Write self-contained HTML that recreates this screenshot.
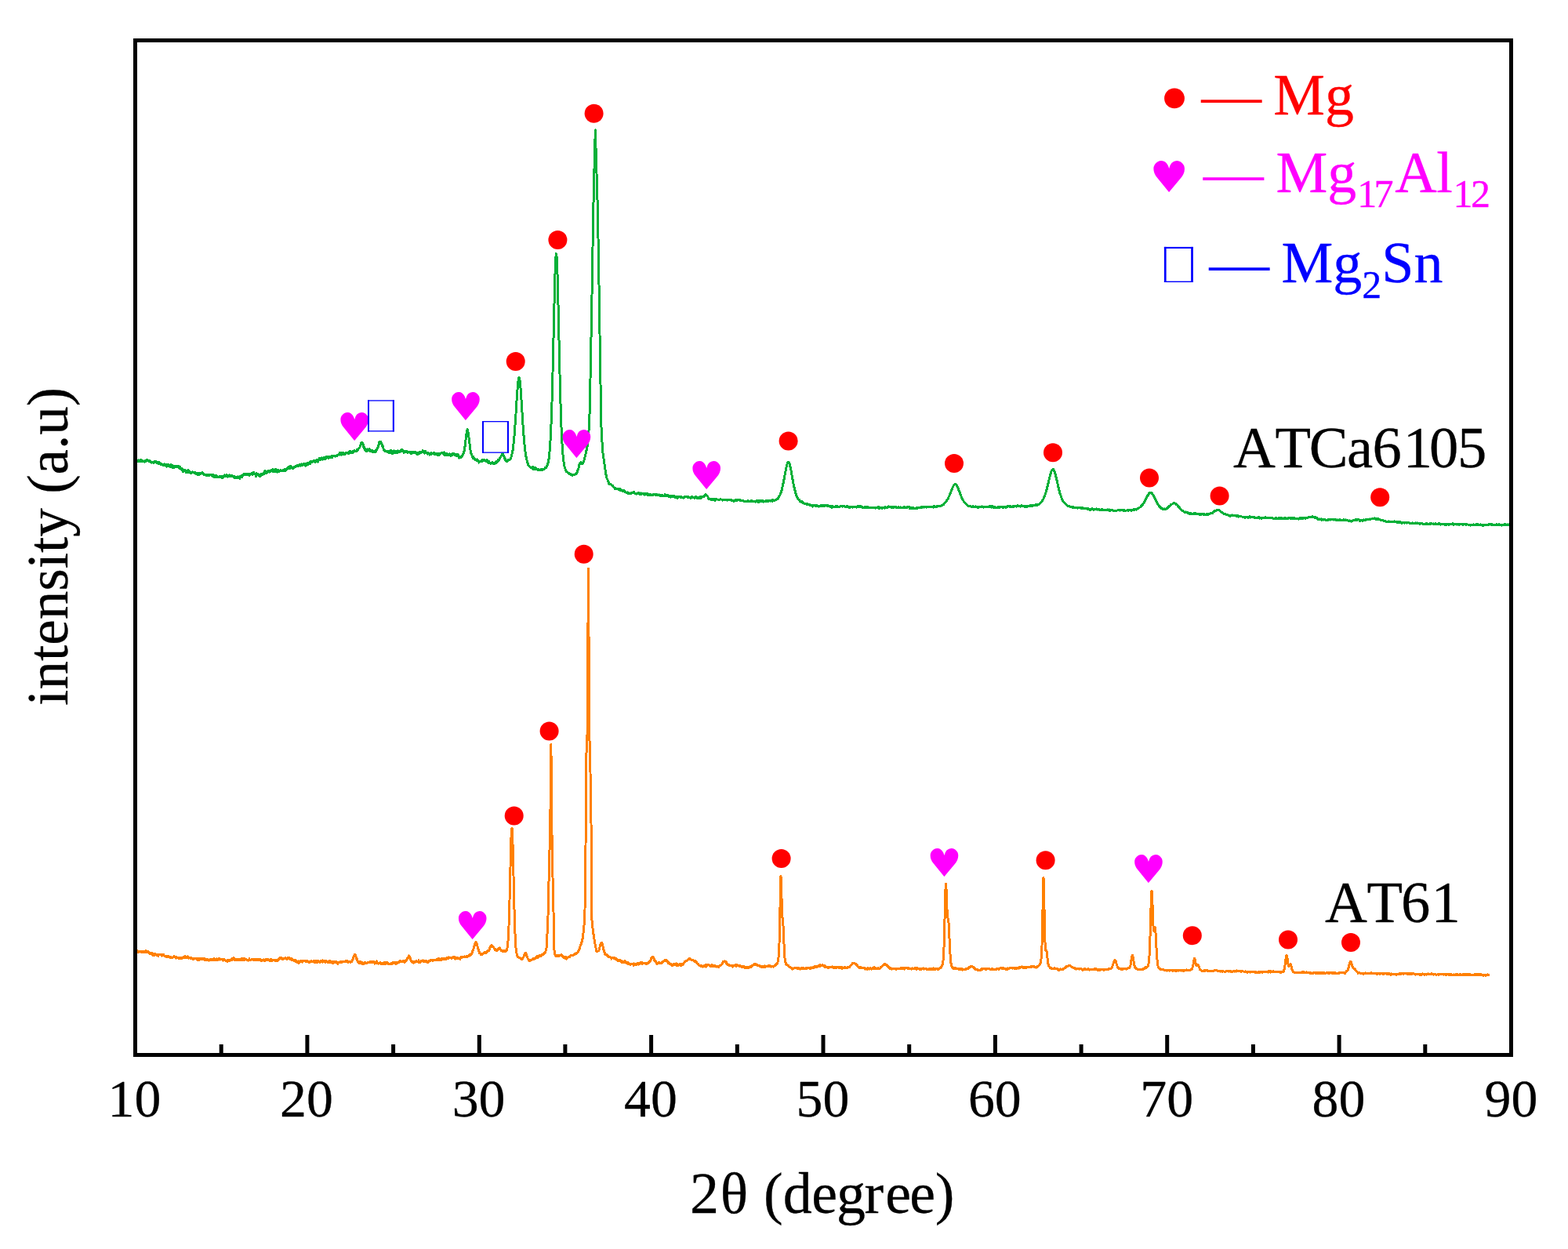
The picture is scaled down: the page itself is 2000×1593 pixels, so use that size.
<!DOCTYPE html>
<html lang="en"><head><meta charset="utf-8"><title>XRD patterns of AT61 and ATCa6105</title>
<style>
html,body{margin:0;padding:0;background:#fff;}
body{width:2000px;height:1593px;overflow:hidden;}
svg{display:block;}
text{font-family:"Liberation Serif","DejaVu Serif",serif;font-kerning:none;}
.tick,.ttl,.lab{stroke:#000;stroke-width:0.3px;stroke-linejoin:round;}
.leg{stroke-width:0.3px;stroke-linejoin:round;}
.tick{font-size:67.8px;fill:#000;text-anchor:middle;}
.ttl{font-size:74px;fill:#000;}
.lab{font-size:74px;fill:#000;}
.leg{font-size:74px;}
.sub{font-size:50px;}
.hm{font-family:"DejaVu Sans","Liberation Sans",sans-serif;font-size:49.5px;fill:#ff00ff;text-anchor:middle;}
.dash{font-size:74px;}
</style></head><body>
<svg width="2000" height="1593" viewBox="0 0 2000 1593">
<rect x="0" y="0" width="2000" height="1593" fill="#ffffff"/>
<polyline id="curve-atca6105" fill="none" stroke="#04b038" stroke-width="3" stroke-linejoin="round" stroke-linecap="butt" shape-rendering="crispEdges" points="175.0,587.4 175.5,588.3 176.0,588.5 176.5,587.0 177.0,587.5 177.5,587.4 178.0,588.1 178.5,587.5 179.0,588.1 179.5,586.2 180.0,588.9 180.5,588.0 181.0,588.9 181.5,588.2 182.0,587.7 182.5,588.6 183.0,588.7 183.5,588.1 184.0,588.2 184.5,589.0 185.0,588.0 185.5,587.2 186.0,588.6 186.5,587.6 187.0,586.6 187.5,587.5 188.0,587.6 188.5,586.9 189.0,586.9 189.5,587.9 190.0,588.4 190.5,587.5 191.0,587.0 191.5,588.4 192.0,589.2 192.5,588.8 193.0,589.6 193.5,590.1 194.0,589.4 194.5,589.1 195.0,589.9 195.5,589.9 196.0,590.7 196.5,588.9 197.0,589.5 197.5,589.7 198.0,588.5 198.5,589.9 199.0,589.6 199.5,588.9 200.0,590.9 200.5,590.3 201.0,590.3 201.5,590.0 202.0,591.1 202.5,589.6 203.0,591.2 203.5,591.7 204.0,590.1 204.5,591.4 205.0,591.7 205.5,592.6 206.0,591.9 206.5,592.2 207.0,592.7 207.5,592.2 208.0,593.2 208.5,592.8 209.0,593.1 209.5,592.0 210.0,593.4 210.5,593.3 211.0,592.9 211.5,594.2 212.0,594.5 212.5,595.0 213.0,592.2 213.5,594.0 214.0,593.5 214.5,593.0 215.0,592.4 215.5,594.7 216.0,593.0 216.5,594.5 217.0,595.2 217.5,592.8 218.0,594.1 218.5,592.9 219.0,594.7 219.5,595.6 220.0,596.2 220.5,593.8 221.0,594.5 221.5,595.7 222.0,596.8 222.5,595.7 223.0,594.7 223.5,595.6 224.0,595.3 224.5,594.9 225.0,594.6 225.5,595.6 226.0,595.6 226.5,595.7 227.0,595.9 227.5,594.6 228.0,595.8 228.5,597.3 229.0,596.1 229.5,595.1 230.0,597.2 230.5,597.0 231.0,599.0 231.5,598.3 232.0,598.2 232.5,598.0 233.0,600.4 233.5,601.5 234.0,599.0 234.5,599.4 235.0,600.6 235.5,599.6 236.0,600.1 236.5,600.6 237.0,601.8 237.5,602.6 238.0,601.9 238.5,602.6 239.0,601.5 239.5,601.6 240.0,599.4 240.5,600.3 241.0,602.2 241.5,601.2 242.0,602.5 242.5,602.6 243.0,603.9 243.5,603.6 244.0,603.6 244.5,602.8 245.0,602.1 245.5,601.7 246.0,602.0 246.5,602.0 247.0,603.0 247.5,603.2 248.0,603.7 248.5,603.6 249.0,602.2 249.5,603.9 250.0,603.9 250.5,604.7 251.0,604.4 251.5,603.3 252.0,603.7 252.5,605.8 253.0,604.7 253.5,605.5 254.0,605.6 254.5,603.4 255.0,603.9 255.5,603.8 256.0,604.1 256.5,604.0 257.0,603.7 257.5,603.5 258.0,602.3 258.5,603.9 259.0,603.2 259.5,604.5 260.0,604.3 260.5,605.6 261.0,606.0 261.5,605.5 262.0,605.9 262.5,606.2 263.0,605.9 263.5,605.8 264.0,605.7 264.5,606.6 265.0,606.4 265.5,606.5 266.0,605.0 266.5,606.6 267.0,605.2 267.5,605.1 268.0,605.6 268.5,605.5 269.0,605.8 269.5,605.4 270.0,605.0 270.5,605.8 271.0,607.9 271.5,606.5 272.0,605.7 272.5,607.0 273.0,606.2 273.5,608.8 274.0,606.3 274.5,607.9 275.0,608.1 275.5,606.6 276.0,608.5 276.5,608.6 277.0,608.1 277.5,607.7 278.0,608.2 278.5,608.1 279.0,608.2 279.5,607.8 280.0,608.3 280.5,607.1 281.0,608.7 281.5,607.9 282.0,607.2 282.5,608.1 283.0,609.5 283.5,609.4 284.0,607.9 284.5,609.0 285.0,608.0 285.5,607.7 286.0,607.7 286.5,606.0 287.0,607.9 287.5,606.7 288.0,607.1 288.5,606.1 289.0,605.9 289.5,606.4 290.0,607.8 290.5,608.4 291.0,607.2 291.5,607.9 292.0,606.9 292.5,605.9 293.0,607.4 293.5,607.2 294.0,606.8 294.5,607.4 295.0,608.0 295.5,607.1 296.0,606.6 296.5,607.7 297.0,607.6 297.5,607.4 298.0,608.6 298.5,609.3 299.0,607.5 299.5,608.6 300.0,609.4 300.5,609.3 301.0,609.3 301.5,608.3 302.0,608.8 302.5,609.8 303.0,609.2 303.5,608.0 304.0,608.9 304.5,609.4 305.0,608.7 305.5,608.2 306.0,610.2 306.5,607.4 307.0,608.5 307.5,608.0 308.0,606.6 308.5,608.5 309.0,607.4 309.5,606.0 310.0,606.8 310.5,605.8 311.0,604.5 311.5,605.0 312.0,605.6 312.5,605.5 313.0,604.8 313.5,605.1 314.0,605.2 314.5,604.5 315.0,605.8 315.5,604.9 316.0,605.2 316.5,605.5 317.0,604.3 317.5,604.8 318.0,606.2 318.5,605.3 319.0,604.7 319.5,605.2 320.0,604.4 320.5,604.9 321.0,603.9 321.5,604.7 322.0,603.4 322.5,605.3 323.0,603.4 323.5,602.4 324.0,603.8 324.5,603.8 325.0,604.8 325.5,604.2 326.0,605.4 326.5,607.9 327.0,603.8 327.5,605.3 328.0,605.1 328.5,605.7 329.0,604.1 329.5,605.1 330.0,606.6 330.5,606.2 331.0,607.4 331.5,605.2 332.0,605.3 332.5,607.1 333.0,604.4 333.5,604.2 334.0,605.0 334.5,604.8 335.0,605.3 335.5,604.1 336.0,603.0 336.5,603.1 337.0,604.8 337.5,603.5 338.0,600.0 338.5,602.6 339.0,602.0 339.5,603.1 340.0,602.0 340.5,603.0 341.0,601.9 341.5,601.5 342.0,600.8 342.5,600.8 343.0,600.9 343.5,602.1 344.0,601.4 344.5,600.5 345.0,601.5 345.5,600.0 346.0,599.9 346.5,599.6 347.0,599.4 347.5,600.1 348.0,598.4 348.5,601.6 349.0,601.2 349.5,600.5 350.0,601.8 350.5,600.9 351.0,600.6 351.5,598.2 352.0,600.4 352.5,601.3 353.0,602.1 353.5,602.0 354.0,601.7 354.5,599.6 355.0,599.0 355.5,601.2 356.0,600.4 356.5,601.2 357.0,600.0 357.5,600.7 358.0,599.2 358.5,600.8 359.0,600.0 359.5,600.4 360.0,600.5 360.5,600.0 361.0,600.4 361.5,600.0 362.0,600.3 362.5,599.9 363.0,598.9 363.5,598.5 364.0,600.6 364.5,598.7 365.0,599.5 365.5,599.1 366.0,597.7 366.5,597.0 367.0,597.1 367.5,597.0 368.0,597.2 368.5,595.4 369.0,595.9 369.5,596.1 370.0,597.5 370.5,594.5 371.0,596.2 371.5,595.5 372.0,596.4 372.5,595.7 373.0,596.6 373.5,597.6 374.0,596.8 374.5,596.7 375.0,596.8 375.5,595.3 376.0,595.9 376.5,595.1 377.0,594.5 377.5,595.0 378.0,594.5 378.5,594.7 379.0,594.0 379.5,593.4 380.0,595.0 380.5,594.6 381.0,594.7 381.5,593.9 382.0,592.6 382.5,592.9 383.0,593.1 383.5,594.1 384.0,593.2 384.5,592.0 385.0,593.5 385.5,592.6 386.0,593.7 386.5,592.2 387.0,591.7 387.5,592.6 388.0,592.4 388.5,591.1 389.0,593.0 389.5,594.1 390.0,591.2 390.5,593.8 391.0,591.8 391.5,591.6 392.0,591.4 392.5,590.3 393.0,592.4 393.5,591.5 394.0,590.6 394.5,590.8 395.0,589.5 395.5,590.1 396.0,591.2 396.5,588.4 397.0,588.8 397.5,588.9 398.0,589.5 398.5,589.4 399.0,588.3 399.5,587.8 400.0,588.7 400.5,588.1 401.0,587.8 401.5,589.2 402.0,589.2 402.5,588.3 403.0,587.8 403.5,588.6 404.0,586.4 404.5,587.6 405.0,586.4 405.5,589.1 406.0,587.5 406.5,587.0 407.0,586.4 407.5,584.1 408.0,586.3 408.5,586.6 409.0,584.9 409.5,586.0 410.0,585.8 410.5,583.9 411.0,585.8 411.5,586.3 412.0,585.3 412.5,584.9 413.0,585.3 413.5,583.1 414.0,584.2 414.5,585.3 415.0,583.5 415.5,585.3 416.0,584.0 416.5,582.4 417.0,584.0 417.5,583.1 418.0,584.0 418.5,582.6 419.0,584.5 419.5,582.8 420.0,583.8 420.5,582.9 421.0,583.2 421.5,583.9 422.0,583.1 422.5,582.5 423.0,581.9 423.5,583.5 424.0,582.8 424.5,581.9 425.0,581.9 425.5,581.1 426.0,581.1 426.5,581.1 427.0,582.0 427.5,582.2 428.0,581.1 428.5,581.9 429.0,581.8 429.5,581.0 430.0,581.2 430.5,580.1 431.0,580.2 431.5,579.8 432.0,579.8 432.5,579.9 433.0,577.9 433.5,580.0 434.0,577.9 434.5,578.3 435.0,577.4 435.5,579.2 436.0,580.1 436.5,579.8 437.0,579.4 437.5,577.1 438.0,577.9 438.5,578.3 439.0,578.0 439.5,579.7 440.0,578.8 440.5,578.5 441.0,578.8 441.5,577.6 442.0,577.3 442.5,577.3 443.0,577.9 443.5,577.8 444.0,577.8 444.5,578.5 445.0,576.3 445.5,576.9 446.0,577.0 446.5,575.6 447.0,575.8 447.5,577.4 448.0,577.4 448.5,577.1 449.0,576.0 449.5,576.0 450.0,577.2 450.5,575.6 451.0,575.9 451.5,576.1 452.0,574.9 452.5,575.0 453.0,575.3 453.5,575.9 454.0,576.0 454.5,575.3 455.0,575.2 455.5,573.5 456.0,574.1 456.5,574.1 457.0,572.6 457.5,572.1 458.0,571.9 458.5,571.0 459.0,570.1 459.5,568.2 460.0,567.1 460.5,566.5 461.0,564.4 461.5,564.8 462.0,564.6 462.5,564.8 463.0,566.5 463.5,567.9 464.0,570.5 464.5,570.6 465.0,573.1 465.5,573.7 466.0,572.0 466.5,574.3 467.0,575.5 467.5,573.5 468.0,575.2 468.5,572.9 469.0,574.5 469.5,573.3 470.0,574.6 470.5,573.0 471.0,572.2 471.5,574.4 472.0,575.9 472.5,573.9 473.0,575.3 473.5,574.6 474.0,574.7 474.5,575.5 475.0,576.4 475.5,574.7 476.0,576.2 476.5,576.3 477.0,575.1 477.5,576.8 478.0,577.0 478.5,574.9 479.0,576.4 479.5,574.6 480.0,574.0 480.5,574.4 481.0,572.4 481.5,571.4 482.0,570.8 482.5,568.9 483.0,567.4 483.5,564.9 484.0,563.6 484.5,564.4 485.0,563.1 485.5,563.6 486.0,564.0 486.5,565.4 487.0,565.9 487.5,568.8 488.0,568.5 488.5,570.5 489.0,571.9 489.5,574.0 490.0,573.1 490.5,574.5 491.0,574.9 491.5,575.7 492.0,575.7 492.5,575.1 493.0,575.5 493.5,575.2 494.0,576.2 494.5,575.8 495.0,575.5 495.5,575.9 496.0,576.2 496.5,577.6 497.0,575.5 497.5,576.2 498.0,577.2 498.5,574.7 499.0,574.9 499.5,575.4 500.0,576.5 500.5,578.5 501.0,576.9 501.5,577.2 502.0,576.4 502.5,574.9 503.0,575.0 503.5,577.6 504.0,577.1 504.5,575.9 505.0,577.9 505.5,575.3 506.0,577.7 506.5,577.7 507.0,575.5 507.5,574.7 508.0,576.1 508.5,575.1 509.0,576.4 509.5,575.1 510.0,576.3 510.5,575.7 511.0,575.1 511.5,574.6 512.0,575.3 512.5,573.3 513.0,574.3 513.5,574.9 514.0,575.8 514.5,575.0 515.0,577.2 515.5,575.4 516.0,575.0 516.5,576.5 517.0,576.8 517.5,575.4 518.0,575.1 518.5,576.1 519.0,575.9 519.5,576.2 520.0,577.5 520.5,576.2 521.0,576.1 521.5,576.2 522.0,576.4 522.5,577.0 523.0,577.4 523.5,576.5 524.0,576.6 524.5,578.7 525.0,577.2 525.5,576.7 526.0,577.9 526.5,576.5 527.0,576.1 527.5,577.5 528.0,576.4 528.5,576.9 529.0,577.7 529.5,577.7 530.0,576.8 530.5,577.3 531.0,577.7 531.5,579.1 532.0,577.5 532.5,577.3 533.0,579.3 533.5,577.3 534.0,578.8 534.5,578.7 535.0,577.6 535.5,576.1 536.0,576.9 536.5,576.9 537.0,577.3 537.5,576.2 538.0,577.0 538.5,576.6 539.0,574.8 539.5,576.9 540.0,576.5 540.5,576.0 541.0,576.3 541.5,578.1 542.0,577.3 542.5,575.6 543.0,577.8 543.5,577.7 544.0,577.7 544.5,577.7 545.0,577.0 545.5,579.2 546.0,577.9 546.5,578.8 547.0,578.8 547.5,579.0 548.0,580.1 548.5,579.7 549.0,578.5 549.5,578.1 550.0,577.9 550.5,579.2 551.0,578.6 551.5,578.3 552.0,578.1 552.5,578.3 553.0,579.0 553.5,577.4 554.0,579.9 554.5,577.6 555.0,578.2 555.5,579.8 556.0,579.3 556.5,579.0 557.0,579.1 557.5,578.1 558.0,579.3 558.5,580.5 559.0,578.8 559.5,580.8 560.0,578.3 560.5,578.6 561.0,579.4 561.5,578.8 562.0,579.0 562.5,577.9 563.0,577.7 563.5,577.1 564.0,577.7 564.5,577.8 565.0,577.6 565.5,578.9 566.0,578.1 566.5,577.0 567.0,580.9 567.5,578.2 568.0,578.4 568.5,580.6 569.0,580.6 569.5,578.9 570.0,578.6 570.5,579.4 571.0,580.9 571.5,579.9 572.0,579.8 572.5,580.5 573.0,581.0 573.5,578.9 574.0,579.7 574.5,579.1 575.0,581.6 575.5,581.3 576.0,580.9 576.5,580.3 577.0,580.7 577.5,578.3 578.0,580.1 578.5,578.5 579.0,578.3 579.5,578.9 580.0,579.6 580.5,580.5 581.0,580.4 581.5,580.2 582.0,579.5 582.5,581.3 583.0,580.7 583.5,581.8 584.0,580.7 584.5,579.6 585.0,581.7 585.5,584.0 586.0,582.9 586.5,582.7 587.0,583.8 587.5,583.3 588.0,583.4 588.5,582.4 589.0,582.4 589.5,581.7 590.0,580.6 590.5,579.2 591.0,578.9 591.5,577.9 592.0,575.6 592.5,573.2 593.0,569.6 593.5,566.1 594.0,560.9 594.5,556.8 595.0,553.0 595.5,549.4 596.0,547.9 596.5,548.3 597.0,550.6 597.5,553.9 598.0,558.2 598.5,562.5 599.0,566.3 599.5,570.9 600.0,573.8 600.5,575.7 601.0,578.8 601.5,579.6 602.0,581.1 602.5,582.5 603.0,582.3 603.5,584.3 604.0,582.9 604.5,584.2 605.0,584.9 605.5,586.2 606.0,586.1 606.5,586.0 607.0,586.1 607.5,586.2 608.0,587.3 608.5,586.0 609.0,587.0 609.5,587.2 610.0,588.0 610.5,588.0 611.0,590.1 611.5,588.3 612.0,588.8 612.5,588.7 613.0,588.6 613.5,588.3 614.0,588.2 614.5,588.8 615.0,586.5 615.5,587.2 616.0,586.5 616.5,587.1 617.0,586.4 617.5,586.2 618.0,587.0 618.5,587.9 619.0,587.4 619.5,587.3 620.0,588.6 620.5,587.3 621.0,586.7 621.5,587.8 622.0,588.4 622.5,589.9 623.0,590.4 623.5,588.2 624.0,591.1 624.5,590.5 625.0,590.2 625.5,590.4 626.0,591.8 626.5,590.5 627.0,590.4 627.5,590.6 628.0,589.7 628.5,591.3 629.0,591.1 629.5,591.6 630.0,591.5 630.5,590.5 631.0,591.8 631.5,590.2 632.0,591.1 632.5,589.0 633.0,590.2 633.5,589.2 634.0,589.1 634.5,588.5 635.0,586.9 635.5,587.1 636.0,587.4 636.5,587.0 637.0,585.4 637.5,584.2 638.0,583.9 638.5,583.1 639.0,581.9 639.5,580.7 640.0,580.4 640.5,579.5 641.0,579.5 641.5,579.0 642.0,580.5 642.5,581.6 643.0,582.2 643.5,584.4 644.0,585.0 644.5,585.5 645.0,587.2 645.5,587.7 646.0,588.1 646.5,588.3 647.0,588.1 647.5,587.0 648.0,586.9 648.5,587.4 649.0,586.3 649.5,586.5 650.0,586.1 650.5,586.4 651.0,585.8 651.5,584.7 652.0,582.9 652.5,581.5 653.0,579.2 653.5,576.7 654.0,574.5 654.5,570.6 655.0,566.1 655.5,561.8 656.0,555.8 656.5,549.8 657.0,542.7 657.5,535.5 658.0,527.6 658.5,519.6 659.0,511.6 659.5,504.3 660.0,497.0 660.5,490.8 661.0,485.9 661.5,482.6 662.0,481.4 662.5,481.9 663.0,484.7 663.5,489.0 664.0,495.0 664.5,502.0 665.0,509.6 665.5,517.6 666.0,526.0 666.5,534.3 667.0,541.9 667.5,549.2 668.0,555.4 668.5,561.3 669.0,567.1 669.5,571.9 670.0,576.0 670.5,579.9 671.0,582.6 671.5,584.7 672.0,587.0 672.5,589.1 673.0,590.5 673.5,591.6 674.0,594.0 674.5,593.6 675.0,594.6 675.5,594.6 676.0,595.3 676.5,596.3 677.0,596.6 677.5,596.3 678.0,596.9 678.5,597.0 679.0,595.9 679.5,595.2 680.0,598.4 680.5,598.0 681.0,597.4 681.5,596.4 682.0,596.8 682.5,598.4 683.0,596.3 683.5,597.8 684.0,598.7 684.5,598.3 685.0,598.9 685.5,598.4 686.0,600.0 686.5,598.5 687.0,598.3 687.5,599.0 688.0,599.9 688.5,599.2 689.0,599.6 689.5,598.7 690.0,598.5 690.5,599.8 691.0,599.9 691.5,600.0 692.0,598.8 692.5,598.4 693.0,598.4 693.5,598.5 694.0,598.6 694.5,598.2 695.0,596.8 695.5,597.4 696.0,597.0 696.5,596.5 697.0,595.6 697.5,594.8 698.0,593.9 698.5,592.4 699.0,590.7 699.5,588.2 700.0,585.6 700.5,581.4 701.0,576.1 701.5,570.5 702.0,562.7 702.5,553.4 703.0,541.8 703.5,528.4 704.0,512.8 704.5,495.1 705.0,475.5 705.5,454.2 706.0,432.2 706.5,409.5 707.0,387.6 707.5,367.1 708.0,349.3 708.5,335.5 709.0,326.7 709.5,323.7 710.0,326.8 710.5,335.9 711.0,349.8 711.5,367.9 712.0,388.6 712.5,410.8 713.0,433.6 713.5,456.0 714.0,477.2 714.5,496.9 715.0,515.0 715.5,530.8 716.0,544.7 716.5,556.2 717.0,565.8 717.5,573.7 718.0,580.2 718.5,585.3 719.0,589.1 719.5,592.6 720.0,594.8 720.5,596.6 721.0,598.2 721.5,600.3 722.0,600.6 722.5,601.5 723.0,601.7 723.5,602.2 724.0,602.6 724.5,603.1 725.0,603.3 725.5,603.6 726.0,604.5 726.5,604.5 727.0,604.4 727.5,604.8 728.0,604.8 728.5,605.5 729.0,605.2 729.5,605.9 730.0,606.1 730.5,605.7 731.0,605.2 731.5,605.3 732.0,605.4 732.5,605.4 733.0,605.4 733.5,604.8 734.0,604.2 734.5,604.9 735.0,604.1 735.5,603.4 736.0,602.4 736.5,600.8 737.0,599.7 737.5,598.2 738.0,596.9 738.5,594.9 739.0,592.4 739.5,591.6 740.0,590.5 740.5,590.0 741.0,589.8 741.5,590.4 742.0,590.7 742.5,591.4 743.0,591.7 743.5,590.9 744.0,590.2 744.5,588.7 745.0,586.8 745.5,585.4 746.0,583.4 746.5,581.3 747.0,578.9 747.5,576.6 748.0,574.4 748.5,571.9 749.0,569.7 749.5,565.7 750.0,560.5 750.5,554.9 751.0,549.6 751.5,544.3 752.0,528.6 752.5,506.1 753.0,483.6 753.5,457.6 754.0,430.6 754.5,403.8 755.0,376.1 755.5,345.8 756.0,315.6 756.5,285.3 757.0,258.5 757.5,236.8 758.0,215.1 758.5,195.8 759.0,177.0 759.3,165.8 759.5,172.3 760.0,188.6 760.5,204.9 761.0,221.4 761.5,238.2 762.0,254.9 762.5,274.2 763.0,303.7 763.5,333.2 764.0,362.8 764.5,393.6 765.0,426.3 765.5,459.0 766.0,490.3 766.5,519.5 767.0,544.7 767.5,554.4 768.0,564.0 768.5,573.3 769.0,578.0 769.5,581.3 770.0,584.8 770.5,588.2 771.0,591.8 771.5,594.8 772.0,598.7 772.5,601.6 773.0,605.3 773.5,608.5 774.0,609.9 774.5,611.0 775.0,612.0 775.5,613.7 776.0,614.5 776.5,617.2 777.0,616.4 777.5,616.9 778.0,617.1 778.5,617.1 779.0,617.0 779.5,618.3 780.0,618.9 780.5,618.7 781.0,619.9 781.5,619.5 782.0,620.7 782.5,621.2 783.0,621.6 783.5,622.2 784.0,622.5 784.5,623.5 785.0,622.9 785.5,623.5 786.0,624.0 786.5,623.5 787.0,623.1 787.5,623.8 788.0,623.3 788.5,623.5 789.0,623.6 789.5,624.7 790.0,624.5 790.5,623.3 791.0,624.8 791.5,625.6 792.0,625.8 792.5,625.0 793.0,625.6 793.5,625.7 794.0,626.5 794.5,626.3 795.0,625.6 795.5,626.9 796.0,626.7 796.5,626.0 797.0,626.6 797.5,627.5 798.0,627.5 798.5,628.1 799.0,628.4 799.5,628.6 800.0,628.2 800.5,627.9 801.0,629.0 801.5,629.5 802.0,629.8 802.5,628.8 803.0,629.0 803.5,629.7 804.0,629.7 804.5,628.9 805.0,629.3 805.5,628.1 806.0,629.1 806.5,628.1 807.0,628.6 807.5,628.6 808.0,628.5 808.5,627.6 809.0,628.7 809.5,629.4 810.0,629.0 810.5,629.1 811.0,629.4 811.5,630.0 812.0,630.0 812.5,629.2 813.0,629.5 813.5,629.4 814.0,628.8 814.5,628.6 815.0,629.4 815.5,628.8 816.0,630.2 816.5,629.1 817.0,629.2 817.5,629.0 818.0,630.6 818.5,629.1 819.0,629.6 819.5,629.2 820.0,629.4 820.5,629.6 821.0,630.3 821.5,629.4 822.0,630.1 822.5,631.1 823.0,630.2 823.5,630.4 824.0,630.1 824.5,629.3 825.0,630.5 825.5,631.0 826.0,630.0 826.5,629.8 827.0,631.1 827.5,630.9 828.0,631.9 828.5,631.5 829.0,630.6 829.5,631.3 830.0,630.1 830.5,631.2 831.0,631.1 831.5,631.5 832.0,631.4 832.5,630.9 833.0,631.1 833.5,631.1 834.0,630.2 834.5,631.0 835.0,630.9 835.5,630.4 836.0,631.6 836.5,631.1 837.0,631.1 837.5,630.7 838.0,630.1 838.5,631.7 839.0,631.7 839.5,631.4 840.0,631.3 840.5,631.0 841.0,631.3 841.5,631.3 842.0,631.0 842.5,632.6 843.0,631.3 843.5,632.1 844.0,632.3 844.5,632.8 845.0,631.5 845.5,632.7 846.0,632.7 846.5,632.8 847.0,633.0 847.5,632.2 848.0,630.9 848.5,632.7 849.0,632.7 849.5,632.5 850.0,631.8 850.5,632.0 851.0,632.3 851.5,631.2 852.0,632.0 852.5,632.3 853.0,633.6 853.5,632.4 854.0,633.8 854.5,633.0 855.0,632.2 855.5,634.0 856.0,632.6 856.5,633.3 857.0,633.8 857.5,632.9 858.0,632.7 858.5,633.8 859.0,633.7 859.5,632.9 860.0,632.9 860.5,633.4 861.0,634.1 861.5,633.3 862.0,634.1 862.5,634.8 863.0,634.7 863.5,635.3 864.0,635.1 864.5,633.5 865.0,634.8 865.5,634.3 866.0,634.0 866.5,633.7 867.0,633.5 867.5,633.9 868.0,634.5 868.5,633.9 869.0,633.8 869.5,634.1 870.0,634.8 870.5,634.1 871.0,634.3 871.5,635.1 872.0,634.1 872.5,634.6 873.0,633.8 873.5,634.3 874.0,633.8 874.5,633.7 875.0,633.4 875.5,633.4 876.0,634.1 876.5,634.0 877.0,634.7 877.5,634.5 878.0,633.5 878.5,634.2 879.0,634.1 879.5,634.7 880.0,634.4 880.5,634.1 881.0,635.5 881.5,635.4 882.0,634.5 882.5,633.6 883.0,634.2 883.5,633.9 884.0,634.1 884.5,634.7 885.0,634.9 885.5,634.1 886.0,635.2 886.5,634.9 887.0,634.2 887.5,633.5 888.0,634.7 888.5,634.2 889.0,635.2 889.5,635.2 890.0,634.7 890.5,635.1 891.0,634.2 891.5,634.8 892.0,635.0 892.5,635.8 893.0,634.9 893.5,633.4 894.0,635.2 894.5,633.8 895.0,634.5 895.5,634.0 896.0,633.9 896.5,633.8 897.0,633.5 897.5,632.9 898.0,633.2 898.5,632.4 899.0,631.7 899.5,631.5 900.0,630.8 900.5,631.6 901.0,631.4 901.5,632.1 902.0,632.9 902.5,633.2 903.0,634.1 903.5,635.4 904.0,636.0 904.5,636.9 905.0,636.8 905.5,636.1 906.0,636.9 906.5,637.3 907.0,637.6 907.5,637.3 908.0,636.4 908.5,637.5 909.0,636.8 909.5,637.4 910.0,636.4 910.5,637.6 911.0,636.9 911.5,637.5 912.0,638.1 912.5,637.7 913.0,636.7 913.5,636.6 914.0,636.5 914.5,637.0 915.0,637.0 915.5,637.1 916.0,637.0 916.5,637.0 917.0,637.1 917.5,637.8 918.0,637.0 918.5,637.3 919.0,636.3 919.5,636.7 920.0,637.1 920.5,637.2 921.0,637.9 921.5,638.3 922.0,637.4 922.5,637.1 923.0,637.2 923.5,637.5 924.0,637.2 924.5,637.3 925.0,637.1 925.5,637.2 926.0,637.5 926.5,637.3 927.0,637.5 927.5,638.1 928.0,637.2 928.5,637.8 929.0,637.6 929.5,637.4 930.0,637.3 930.5,637.4 931.0,637.9 931.5,637.7 932.0,637.6 932.5,638.4 933.0,637.7 933.5,638.5 934.0,638.2 934.5,638.6 935.0,638.0 935.5,638.2 936.0,639.4 936.5,638.5 937.0,638.7 937.5,638.2 938.0,638.2 938.5,637.2 939.0,637.8 939.5,638.3 940.0,638.5 940.5,638.0 941.0,637.9 941.5,637.9 942.0,638.0 942.5,637.5 943.0,637.5 943.5,638.3 944.0,637.7 944.5,638.1 945.0,638.4 945.5,638.6 946.0,639.0 946.5,638.8 947.0,639.0 947.5,638.3 948.0,638.5 948.5,639.1 949.0,639.1 949.5,639.1 950.0,639.5 950.5,639.3 951.0,639.3 951.5,639.9 952.0,639.1 952.5,639.3 953.0,639.4 953.5,639.3 954.0,638.7 954.5,639.6 955.0,639.9 955.5,639.6 956.0,639.8 956.5,639.5 957.0,639.0 957.5,639.8 958.0,638.8 958.5,639.5 959.0,638.9 959.5,639.4 960.0,639.7 960.5,639.3 961.0,639.3 961.5,639.9 962.0,639.2 962.5,639.3 963.0,639.3 963.5,640.3 964.0,639.8 964.5,639.4 965.0,638.9 965.5,639.8 966.0,638.9 966.5,639.7 967.0,639.2 967.5,640.5 968.0,638.8 968.5,639.9 969.0,639.5 969.5,638.6 970.0,639.1 970.5,639.8 971.0,639.9 971.5,639.0 972.0,639.2 972.5,638.7 973.0,638.8 973.5,639.0 974.0,640.1 974.5,639.3 975.0,639.1 975.5,639.1 976.0,639.5 976.5,639.1 977.0,638.4 977.5,639.4 978.0,638.3 978.5,638.6 979.0,638.9 979.5,639.6 980.0,638.8 980.5,639.0 981.0,639.1 981.5,638.9 982.0,639.0 982.5,639.0 983.0,638.7 983.5,638.9 984.0,639.0 984.5,638.7 985.0,639.2 985.5,637.6 986.0,637.9 986.5,638.8 987.0,638.3 987.5,638.0 988.0,638.0 988.5,638.2 989.0,637.6 989.5,637.9 990.0,637.3 990.5,637.1 991.0,636.8 991.5,636.8 992.0,635.6 992.5,635.4 993.0,635.2 993.5,633.8 994.0,632.9 994.5,632.3 995.0,631.2 995.5,629.8 996.0,628.4 996.5,626.6 997.0,625.7 997.5,623.0 998.0,621.1 998.5,618.8 999.0,616.6 999.5,614.4 1000.0,611.6 1000.5,608.9 1001.0,606.1 1001.5,603.7 1002.0,600.8 1002.5,598.1 1003.0,595.9 1003.5,593.7 1004.0,592.0 1004.5,590.5 1005.0,589.6 1005.5,589.2 1006.0,589.3 1006.5,590.0 1007.0,591.6 1007.5,593.2 1008.0,595.3 1008.5,597.6 1009.0,600.0 1009.5,602.9 1010.0,606.0 1010.5,608.5 1011.0,611.4 1011.5,614.0 1012.0,616.8 1012.5,619.2 1013.0,621.6 1013.5,623.8 1014.0,625.6 1014.5,627.6 1015.0,629.5 1015.5,631.1 1016.0,632.5 1016.5,634.2 1017.0,634.8 1017.5,635.7 1018.0,636.0 1018.5,637.1 1019.0,637.3 1019.5,637.6 1020.0,638.4 1020.5,639.4 1021.0,639.2 1021.5,640.2 1022.0,639.9 1022.5,639.5 1023.0,640.2 1023.5,641.0 1024.0,640.5 1024.5,640.6 1025.0,641.4 1025.5,642.0 1026.0,642.0 1026.5,642.0 1027.0,642.3 1027.5,642.3 1028.0,642.7 1028.5,643.3 1029.0,642.7 1029.5,643.3 1030.0,642.9 1030.5,643.4 1031.0,643.0 1031.5,643.1 1032.0,643.9 1032.5,643.5 1033.0,644.3 1033.5,643.9 1034.0,644.4 1034.5,644.5 1035.0,644.5 1035.5,644.8 1036.0,645.1 1036.5,646.0 1037.0,644.2 1037.5,644.8 1038.0,644.4 1038.5,644.4 1039.0,644.8 1039.5,644.5 1040.0,645.1 1040.5,645.4 1041.0,644.3 1041.5,645.2 1042.0,645.4 1042.5,644.8 1043.0,645.5 1043.5,645.6 1044.0,645.5 1044.5,646.1 1045.0,645.3 1045.5,645.8 1046.0,645.3 1046.5,644.7 1047.0,645.0 1047.5,645.0 1048.0,645.3 1048.5,644.2 1049.0,644.7 1049.5,644.9 1050.0,645.6 1050.5,644.4 1051.0,645.1 1051.5,644.2 1052.0,644.9 1052.5,644.9 1053.0,645.1 1053.5,644.8 1054.0,644.2 1054.5,644.3 1055.0,645.4 1055.5,645.1 1056.0,644.8 1056.5,645.3 1057.0,645.2 1057.5,645.3 1058.0,645.2 1058.5,646.0 1059.0,646.8 1059.5,645.8 1060.0,646.4 1060.5,646.7 1061.0,647.3 1061.5,645.6 1062.0,646.6 1062.5,646.8 1063.0,646.0 1063.5,646.8 1064.0,646.6 1064.5,646.8 1065.0,646.4 1065.5,646.5 1066.0,645.8 1066.5,646.1 1067.0,646.1 1067.5,646.0 1068.0,645.8 1068.5,646.7 1069.0,646.6 1069.5,646.5 1070.0,646.0 1070.5,646.0 1071.0,646.5 1071.5,646.0 1072.0,645.4 1072.5,645.8 1073.0,645.8 1073.5,645.7 1074.0,645.5 1074.5,646.1 1075.0,645.7 1075.5,645.6 1076.0,645.2 1076.5,645.7 1077.0,645.7 1077.5,645.8 1078.0,645.9 1078.5,646.6 1079.0,646.3 1079.5,646.5 1080.0,645.6 1080.5,646.2 1081.0,645.9 1081.5,646.5 1082.0,646.7 1082.5,647.2 1083.0,646.7 1083.5,646.3 1084.0,647.7 1084.5,647.1 1085.0,646.6 1085.5,646.4 1086.0,646.0 1086.5,646.5 1087.0,646.8 1087.5,647.3 1088.0,647.0 1088.5,646.9 1089.0,647.0 1089.5,646.5 1090.0,646.6 1090.5,646.8 1091.0,646.3 1091.5,646.8 1092.0,646.7 1092.5,647.1 1093.0,646.8 1093.5,646.0 1094.0,646.5 1094.5,646.9 1095.0,645.7 1095.5,646.2 1096.0,646.6 1096.5,645.9 1097.0,646.2 1097.5,646.3 1098.0,645.8 1098.5,646.4 1099.0,646.6 1099.5,646.3 1100.0,647.0 1100.5,647.6 1101.0,647.0 1101.5,647.4 1102.0,647.6 1102.5,647.0 1103.0,647.5 1103.5,647.4 1104.0,646.9 1104.5,647.2 1105.0,647.4 1105.5,647.4 1106.0,646.7 1106.5,647.0 1107.0,647.3 1107.5,646.9 1108.0,647.4 1108.5,647.7 1109.0,647.3 1109.5,647.8 1110.0,647.5 1110.5,647.9 1111.0,647.5 1111.5,647.6 1112.0,647.6 1112.5,647.4 1113.0,647.8 1113.5,647.9 1114.0,647.3 1114.5,647.4 1115.0,647.7 1115.5,647.4 1116.0,647.2 1116.5,648.0 1117.0,647.5 1117.5,647.2 1118.0,647.5 1118.5,647.6 1119.0,647.5 1119.5,646.8 1120.0,647.4 1120.5,647.4 1121.0,648.1 1121.5,646.7 1122.0,648.0 1122.5,647.6 1123.0,648.1 1123.5,647.9 1124.0,647.9 1124.5,648.3 1125.0,648.0 1125.5,648.4 1126.0,647.9 1126.5,648.0 1127.0,647.9 1127.5,647.9 1128.0,647.7 1128.5,648.0 1129.0,647.0 1129.5,646.6 1130.0,647.2 1130.5,647.7 1131.0,647.6 1131.5,647.5 1132.0,647.2 1132.5,646.5 1133.0,646.9 1133.5,645.7 1134.0,646.2 1134.5,646.9 1135.0,646.3 1135.5,646.3 1136.0,646.3 1136.5,646.9 1137.0,647.1 1137.5,647.7 1138.0,647.3 1138.5,646.2 1139.0,646.1 1139.5,647.0 1140.0,647.3 1140.5,646.5 1141.0,646.9 1141.5,646.5 1142.0,646.6 1142.5,646.6 1143.0,647.0 1143.5,647.5 1144.0,647.2 1144.5,647.5 1145.0,647.9 1145.5,646.9 1146.0,646.7 1146.5,647.3 1147.0,647.9 1147.5,647.1 1148.0,647.5 1148.5,647.0 1149.0,647.7 1149.5,647.2 1150.0,647.8 1150.5,647.8 1151.0,647.7 1151.5,647.8 1152.0,647.5 1152.5,647.0 1153.0,647.3 1153.5,646.2 1154.0,647.2 1154.5,647.9 1155.0,647.2 1155.5,647.2 1156.0,647.1 1156.5,647.5 1157.0,646.8 1157.5,646.8 1158.0,646.6 1158.5,646.8 1159.0,647.1 1159.5,647.1 1160.0,646.9 1160.5,648.4 1161.0,647.9 1161.5,647.3 1162.0,648.3 1162.5,648.0 1163.0,648.1 1163.5,648.2 1164.0,647.8 1164.5,647.3 1165.0,648.4 1165.5,648.7 1166.0,648.9 1166.5,648.2 1167.0,648.4 1167.5,648.6 1168.0,648.1 1168.5,647.9 1169.0,648.1 1169.5,647.6 1170.0,648.3 1170.5,647.4 1171.0,647.7 1171.5,647.4 1172.0,647.0 1172.5,647.2 1173.0,647.6 1173.5,647.7 1174.0,647.3 1174.5,646.7 1175.0,647.1 1175.5,646.4 1176.0,647.0 1176.5,647.2 1177.0,647.1 1177.5,646.3 1178.0,646.1 1178.5,647.2 1179.0,646.6 1179.5,646.2 1180.0,646.2 1180.5,646.7 1181.0,646.9 1181.5,646.7 1182.0,647.1 1182.5,646.9 1183.0,646.9 1183.5,647.0 1184.0,646.4 1184.5,646.7 1185.0,646.5 1185.5,646.3 1186.0,646.8 1186.5,646.2 1187.0,646.4 1187.5,646.2 1188.0,646.5 1188.5,646.4 1189.0,646.7 1189.5,646.4 1190.0,646.5 1190.5,647.0 1191.0,645.7 1191.5,646.2 1192.0,645.6 1192.5,646.6 1193.0,646.6 1193.5,646.6 1194.0,646.4 1194.5,645.8 1195.0,646.7 1195.5,646.1 1196.0,646.1 1196.5,645.5 1197.0,645.9 1197.5,645.7 1198.0,645.5 1198.5,645.7 1199.0,645.7 1199.5,645.1 1200.0,645.5 1200.5,644.7 1201.0,644.7 1201.5,644.9 1202.0,644.4 1202.5,644.0 1203.0,643.6 1203.5,643.5 1204.0,642.8 1204.5,642.0 1205.0,642.1 1205.5,641.1 1206.0,640.5 1206.5,640.2 1207.0,639.3 1207.5,639.2 1208.0,637.5 1208.5,636.7 1209.0,636.1 1209.5,635.5 1210.0,634.2 1210.5,632.9 1211.0,632.2 1211.5,630.7 1212.0,629.6 1212.5,628.6 1213.0,627.1 1213.5,625.8 1214.0,624.7 1214.5,623.4 1215.0,622.1 1215.5,620.9 1216.0,620.0 1216.5,618.9 1217.0,618.1 1217.5,618.1 1218.0,617.7 1218.5,617.7 1219.0,617.6 1219.5,618.0 1220.0,618.5 1220.5,619.2 1221.0,620.3 1221.5,621.2 1222.0,622.5 1222.5,623.5 1223.0,625.2 1223.5,626.5 1224.0,627.8 1224.5,628.8 1225.0,630.2 1225.5,631.8 1226.0,632.8 1226.5,634.0 1227.0,635.3 1227.5,636.0 1228.0,637.6 1228.5,637.7 1229.0,639.0 1229.5,639.7 1230.0,640.1 1230.5,641.2 1231.0,641.8 1231.5,642.1 1232.0,642.2 1232.5,643.1 1233.0,643.6 1233.5,643.8 1234.0,644.6 1234.5,644.7 1235.0,645.0 1235.5,645.5 1236.0,645.1 1236.5,645.2 1237.0,645.4 1237.5,645.6 1238.0,646.1 1238.5,646.1 1239.0,646.1 1239.5,646.2 1240.0,646.2 1240.5,646.1 1241.0,645.9 1241.5,646.4 1242.0,646.0 1242.5,646.3 1243.0,646.4 1243.5,646.3 1244.0,646.6 1244.5,645.9 1245.0,647.0 1245.5,646.7 1246.0,646.9 1246.5,646.8 1247.0,646.1 1247.5,647.5 1248.0,646.6 1248.5,646.6 1249.0,646.0 1249.5,646.6 1250.0,646.7 1250.5,646.3 1251.0,646.5 1251.5,646.9 1252.0,646.1 1252.5,645.9 1253.0,646.6 1253.5,646.2 1254.0,646.1 1254.5,647.0 1255.0,646.5 1255.5,646.5 1256.0,646.5 1256.5,646.2 1257.0,646.4 1257.5,646.3 1258.0,646.2 1258.5,646.2 1259.0,646.4 1259.5,646.4 1260.0,646.4 1260.5,646.5 1261.0,646.2 1261.5,646.2 1262.0,645.9 1262.5,645.6 1263.0,646.1 1263.5,645.2 1264.0,646.1 1264.5,647.1 1265.0,645.3 1265.5,646.6 1266.0,645.8 1266.5,646.8 1267.0,647.6 1267.5,647.5 1268.0,646.9 1268.5,646.8 1269.0,646.6 1269.5,647.6 1270.0,647.4 1270.5,647.2 1271.0,647.4 1271.5,647.3 1272.0,647.6 1272.5,647.4 1273.0,646.7 1273.5,647.6 1274.0,646.0 1274.5,647.5 1275.0,646.7 1275.5,646.7 1276.0,646.6 1276.5,646.6 1277.0,646.6 1277.5,646.8 1278.0,646.5 1278.5,647.3 1279.0,646.8 1279.5,647.5 1280.0,647.0 1280.5,646.6 1281.0,646.9 1281.5,646.9 1282.0,646.3 1282.5,646.5 1283.0,647.1 1283.5,646.2 1284.0,646.3 1284.5,646.5 1285.0,645.8 1285.5,645.4 1286.0,645.3 1286.5,645.8 1287.0,646.0 1287.5,646.1 1288.0,646.2 1288.5,645.6 1289.0,646.4 1289.5,646.6 1290.0,646.0 1290.5,646.6 1291.0,646.2 1291.5,646.3 1292.0,646.3 1292.5,645.4 1293.0,646.5 1293.5,645.7 1294.0,645.7 1294.5,645.5 1295.0,645.8 1295.5,645.9 1296.0,645.6 1296.5,646.0 1297.0,645.7 1297.5,645.4 1298.0,644.4 1298.5,645.3 1299.0,645.4 1299.5,645.4 1300.0,645.4 1300.5,645.9 1301.0,645.9 1301.5,646.3 1302.0,645.9 1302.5,645.0 1303.0,645.4 1303.5,644.9 1304.0,645.7 1304.5,645.7 1305.0,645.4 1305.5,645.8 1306.0,645.7 1306.5,645.5 1307.0,646.3 1307.5,646.9 1308.0,646.2 1308.5,646.1 1309.0,645.9 1309.5,645.8 1310.0,646.5 1310.5,645.7 1311.0,645.9 1311.5,645.5 1312.0,645.7 1312.5,645.5 1313.0,645.6 1313.5,645.0 1314.0,645.1 1314.5,645.6 1315.0,644.9 1315.5,645.2 1316.0,645.8 1316.5,645.3 1317.0,645.4 1317.5,644.1 1318.0,644.7 1318.5,644.4 1319.0,644.4 1319.5,644.8 1320.0,644.9 1320.5,643.9 1321.0,644.0 1321.5,644.1 1322.0,643.9 1322.5,643.3 1323.0,644.2 1323.5,643.7 1324.0,643.4 1324.5,643.2 1325.0,643.6 1325.5,643.3 1326.0,642.2 1326.5,642.0 1327.0,641.8 1327.5,640.7 1328.0,640.4 1328.5,640.2 1329.0,639.2 1329.5,638.5 1330.0,637.6 1330.5,636.8 1331.0,636.1 1331.5,634.6 1332.0,633.5 1332.5,632.2 1333.0,631.2 1333.5,629.5 1334.0,627.8 1334.5,626.3 1335.0,624.5 1335.5,622.6 1336.0,620.4 1336.5,618.7 1337.0,616.5 1337.5,614.4 1338.0,612.1 1338.5,610.2 1339.0,608.0 1339.5,605.9 1340.0,604.4 1340.5,602.6 1341.0,601.2 1341.5,600.0 1342.0,599.2 1342.5,598.7 1343.0,598.5 1343.5,598.6 1344.0,599.0 1344.5,599.9 1345.0,601.3 1345.5,602.6 1346.0,604.5 1346.5,606.4 1347.0,608.3 1347.5,610.5 1348.0,612.6 1348.5,614.8 1349.0,617.1 1349.5,619.4 1350.0,621.6 1350.5,623.4 1351.0,625.5 1351.5,627.7 1352.0,629.4 1352.5,630.9 1353.0,632.0 1353.5,633.6 1354.0,635.0 1354.5,636.0 1355.0,637.6 1355.5,638.3 1356.0,639.3 1356.5,639.8 1357.0,640.3 1357.5,641.0 1358.0,641.5 1358.5,642.1 1359.0,642.7 1359.5,643.2 1360.0,643.8 1360.5,643.6 1361.0,644.4 1361.5,644.7 1362.0,645.4 1362.5,645.1 1363.0,645.5 1363.5,645.3 1364.0,646.1 1364.5,646.1 1365.0,646.0 1365.5,646.2 1366.0,646.5 1366.5,646.7 1367.0,646.2 1367.5,646.9 1368.0,646.6 1368.5,647.5 1369.0,647.4 1369.5,646.9 1370.0,647.0 1370.5,647.9 1371.0,647.3 1371.5,647.6 1372.0,647.3 1372.5,647.4 1373.0,647.7 1373.5,647.7 1374.0,647.5 1374.5,648.2 1375.0,647.8 1375.5,647.4 1376.0,648.0 1376.5,647.7 1377.0,647.9 1377.5,647.5 1378.0,648.0 1378.5,647.3 1379.0,648.2 1379.5,647.5 1380.0,648.1 1380.5,647.2 1381.0,648.1 1381.5,648.3 1382.0,648.3 1382.5,648.6 1383.0,648.0 1383.5,648.9 1384.0,648.9 1384.5,648.1 1385.0,648.5 1385.5,648.8 1386.0,648.9 1386.5,649.1 1387.0,648.2 1387.5,649.4 1388.0,649.1 1388.5,649.0 1389.0,649.9 1389.5,649.6 1390.0,650.1 1390.5,649.7 1391.0,649.5 1391.5,650.1 1392.0,649.7 1392.5,648.9 1393.0,648.6 1393.5,649.0 1394.0,649.7 1394.5,649.5 1395.0,650.2 1395.5,649.9 1396.0,649.4 1396.5,649.4 1397.0,649.1 1397.5,649.7 1398.0,649.6 1398.5,649.0 1399.0,649.1 1399.5,650.1 1400.0,649.8 1400.5,649.7 1401.0,649.3 1401.5,649.7 1402.0,650.1 1402.5,649.8 1403.0,649.9 1403.5,650.8 1404.0,650.1 1404.5,650.1 1405.0,650.5 1405.5,649.6 1406.0,650.6 1406.5,650.2 1407.0,650.2 1407.5,650.3 1408.0,650.5 1408.5,650.3 1409.0,650.4 1409.5,650.2 1410.0,650.7 1410.5,650.9 1411.0,650.4 1411.5,650.3 1412.0,650.1 1412.5,650.0 1413.0,650.4 1413.5,650.4 1414.0,650.7 1414.5,650.0 1415.0,651.5 1415.5,650.2 1416.0,650.9 1416.5,651.2 1417.0,650.6 1417.5,650.9 1418.0,650.5 1418.5,650.8 1419.0,650.8 1419.5,651.4 1420.0,651.6 1420.5,651.1 1421.0,651.8 1421.5,651.9 1422.0,651.5 1422.5,651.5 1423.0,651.3 1423.5,651.2 1424.0,651.6 1424.5,651.1 1425.0,651.1 1425.5,650.9 1426.0,650.9 1426.5,650.5 1427.0,650.8 1427.5,650.7 1428.0,651.0 1428.5,651.0 1429.0,650.1 1429.5,650.5 1430.0,650.8 1430.5,650.5 1431.0,650.9 1431.5,650.9 1432.0,651.0 1432.5,650.9 1433.0,651.1 1433.5,651.3 1434.0,650.7 1434.5,651.0 1435.0,651.0 1435.5,651.8 1436.0,651.2 1436.5,651.1 1437.0,651.1 1437.5,650.9 1438.0,650.8 1438.5,651.3 1439.0,650.8 1439.5,651.4 1440.0,651.0 1440.5,650.9 1441.0,650.9 1441.5,650.7 1442.0,650.8 1442.5,651.1 1443.0,651.5 1443.5,650.4 1444.0,650.8 1444.5,650.7 1445.0,650.2 1445.5,650.3 1446.0,650.3 1446.5,649.5 1447.0,650.2 1447.5,649.9 1448.0,649.6 1448.5,649.4 1449.0,649.3 1449.5,650.0 1450.0,649.1 1450.5,649.1 1451.0,648.5 1451.5,648.7 1452.0,648.3 1452.5,648.1 1453.0,647.5 1453.5,647.1 1454.0,647.1 1454.5,646.8 1455.0,646.3 1455.5,645.6 1456.0,645.3 1456.5,644.0 1457.0,644.2 1457.5,643.4 1458.0,642.7 1458.5,642.1 1459.0,641.0 1459.5,640.4 1460.0,639.2 1460.5,638.5 1461.0,637.4 1461.5,636.6 1462.0,635.8 1462.5,634.5 1463.0,633.7 1463.5,632.8 1464.0,631.9 1464.5,631.4 1465.0,630.2 1465.5,629.4 1466.0,629.1 1466.5,628.5 1467.0,628.5 1467.5,628.4 1468.0,628.3 1468.5,628.5 1469.0,628.7 1469.5,629.5 1470.0,629.9 1470.5,630.9 1471.0,631.7 1471.5,632.3 1472.0,633.3 1472.5,634.3 1473.0,635.4 1473.5,636.0 1474.0,637.3 1474.5,638.7 1475.0,639.5 1475.5,640.8 1476.0,641.7 1476.5,642.3 1477.0,643.6 1477.5,644.2 1478.0,644.8 1478.5,645.6 1479.0,646.3 1479.5,646.3 1480.0,647.3 1480.5,647.5 1481.0,648.1 1481.5,648.4 1482.0,648.4 1482.5,649.0 1483.0,648.8 1483.5,648.8 1484.0,649.1 1484.5,649.4 1485.0,649.4 1485.5,648.8 1486.0,649.0 1486.5,649.1 1487.0,649.2 1487.5,649.0 1488.0,648.1 1488.5,648.5 1489.0,647.8 1489.5,647.5 1490.0,647.0 1490.5,646.6 1491.0,646.5 1491.5,645.5 1492.0,645.1 1492.5,644.9 1493.0,644.7 1493.5,643.6 1494.0,643.5 1494.5,643.2 1495.0,643.0 1495.5,642.9 1496.0,642.0 1496.5,641.9 1497.0,641.8 1497.5,641.8 1498.0,641.7 1498.5,642.1 1499.0,642.2 1499.5,642.1 1500.0,642.7 1500.5,643.4 1501.0,644.1 1501.5,644.0 1502.0,644.7 1502.5,645.5 1503.0,645.4 1503.5,647.0 1504.0,647.7 1504.5,647.4 1505.0,648.8 1505.5,649.3 1506.0,650.0 1506.5,650.3 1507.0,650.5 1507.5,651.1 1508.0,651.5 1508.5,651.6 1509.0,651.7 1509.5,651.9 1510.0,652.8 1510.5,652.8 1511.0,653.4 1511.5,653.0 1512.0,653.0 1512.5,652.8 1513.0,653.5 1513.5,653.3 1514.0,653.3 1514.5,654.0 1515.0,654.2 1515.5,653.8 1516.0,654.0 1516.5,654.7 1517.0,654.0 1517.5,655.4 1518.0,654.7 1518.5,655.3 1519.0,654.6 1519.5,655.0 1520.0,655.4 1520.5,655.3 1521.0,655.0 1521.5,655.9 1522.0,655.5 1522.5,655.1 1523.0,654.9 1523.5,655.1 1524.0,655.6 1524.5,654.7 1525.0,654.9 1525.5,654.6 1526.0,655.3 1526.5,655.1 1527.0,655.4 1527.5,655.3 1528.0,655.0 1528.5,655.6 1529.0,655.8 1529.5,655.1 1530.0,655.7 1530.5,656.6 1531.0,655.5 1531.5,656.1 1532.0,655.5 1532.5,656.0 1533.0,655.7 1533.5,656.0 1534.0,655.9 1534.5,655.6 1535.0,656.6 1535.5,656.1 1536.0,655.8 1536.5,656.3 1537.0,656.1 1537.5,656.5 1538.0,656.3 1538.5,656.0 1539.0,656.3 1539.5,655.5 1540.0,656.4 1540.5,655.5 1541.0,656.6 1541.5,656.0 1542.0,655.9 1542.5,655.4 1543.0,655.7 1543.5,655.1 1544.0,654.9 1544.5,655.0 1545.0,654.6 1545.5,654.5 1546.0,654.5 1546.5,654.5 1547.0,653.7 1547.5,653.3 1548.0,652.9 1548.5,652.7 1549.0,652.3 1549.5,651.6 1550.0,651.4 1550.5,651.2 1551.0,651.1 1551.5,651.1 1552.0,650.6 1552.5,650.5 1553.0,650.6 1553.5,650.1 1554.0,650.3 1554.5,650.5 1555.0,650.8 1555.5,651.3 1556.0,651.4 1556.5,652.3 1557.0,652.2 1557.5,652.7 1558.0,653.4 1558.5,653.7 1559.0,653.9 1559.5,654.2 1560.0,654.8 1560.5,654.9 1561.0,655.5 1561.5,655.5 1562.0,655.7 1562.5,655.4 1563.0,655.9 1563.5,655.9 1564.0,656.8 1564.5,656.6 1565.0,656.9 1565.5,656.7 1566.0,656.9 1566.5,657.3 1567.0,657.2 1567.5,657.8 1568.0,657.1 1568.5,657.6 1569.0,658.6 1569.5,657.4 1570.0,657.8 1570.5,657.4 1571.0,657.7 1571.5,656.9 1572.0,657.8 1572.5,657.4 1573.0,657.0 1573.5,657.3 1574.0,657.3 1574.5,657.6 1575.0,658.0 1575.5,657.8 1576.0,657.8 1576.5,658.1 1577.0,658.2 1577.5,657.2 1578.0,658.6 1578.5,658.6 1579.0,657.7 1579.5,659.1 1580.0,658.3 1580.5,658.5 1581.0,659.0 1581.5,658.2 1582.0,658.2 1582.5,658.5 1583.0,658.5 1583.5,658.8 1584.0,659.0 1584.5,659.1 1585.0,659.0 1585.5,659.3 1586.0,659.3 1586.5,659.7 1587.0,659.7 1587.5,659.3 1588.0,660.4 1588.5,659.1 1589.0,659.7 1589.5,659.2 1590.0,659.5 1590.5,659.6 1591.0,659.6 1591.5,660.0 1592.0,659.2 1592.5,660.4 1593.0,659.2 1593.5,658.7 1594.0,658.5 1594.5,660.0 1595.0,659.8 1595.5,659.5 1596.0,659.8 1596.5,660.0 1597.0,659.7 1597.5,659.6 1598.0,659.7 1598.5,660.0 1599.0,659.8 1599.5,659.6 1600.0,660.6 1600.5,659.9 1601.0,660.1 1601.5,660.5 1602.0,660.0 1602.5,660.2 1603.0,660.3 1603.5,660.6 1604.0,660.4 1604.5,659.8 1605.0,660.5 1605.5,659.4 1606.0,660.0 1606.5,661.3 1607.0,661.0 1607.5,660.4 1608.0,660.5 1608.5,660.7 1609.0,661.1 1609.5,660.5 1610.0,660.4 1610.5,660.6 1611.0,660.7 1611.5,660.7 1612.0,660.5 1612.5,660.8 1613.0,660.1 1613.5,660.2 1614.0,659.9 1614.5,659.9 1615.0,660.7 1615.5,660.2 1616.0,660.1 1616.5,660.4 1617.0,660.0 1617.5,660.4 1618.0,660.6 1618.5,660.7 1619.0,660.0 1619.5,660.2 1620.0,660.9 1620.5,660.3 1621.0,660.9 1621.5,660.9 1622.0,660.1 1622.5,661.0 1623.0,660.9 1623.5,661.1 1624.0,661.5 1624.5,661.1 1625.0,661.0 1625.5,661.2 1626.0,661.0 1626.5,661.4 1627.0,660.4 1627.5,661.9 1628.0,660.9 1628.5,661.2 1629.0,661.1 1629.5,661.1 1630.0,661.1 1630.5,661.1 1631.0,660.3 1631.5,660.7 1632.0,661.4 1632.5,660.7 1633.0,660.5 1633.5,661.4 1634.0,661.0 1634.5,661.0 1635.0,660.8 1635.5,661.0 1636.0,661.4 1636.5,661.4 1637.0,661.2 1637.5,660.7 1638.0,661.1 1638.5,660.8 1639.0,661.7 1639.5,660.8 1640.0,660.9 1640.5,661.3 1641.0,661.3 1641.5,661.4 1642.0,661.0 1642.5,660.7 1643.0,661.5 1643.5,660.7 1644.0,660.6 1644.5,660.7 1645.0,660.8 1645.5,660.9 1646.0,661.3 1646.5,660.8 1647.0,661.3 1647.5,660.9 1648.0,661.6 1648.5,660.8 1649.0,661.3 1649.5,661.3 1650.0,660.7 1650.5,661.1 1651.0,661.1 1651.5,660.8 1652.0,661.0 1652.5,661.4 1653.0,661.3 1653.5,661.2 1654.0,661.3 1654.5,661.4 1655.0,661.7 1655.5,661.7 1656.0,661.6 1656.5,662.1 1657.0,661.2 1657.5,661.0 1658.0,660.6 1658.5,661.6 1659.0,660.5 1659.5,661.0 1660.0,661.2 1660.5,660.3 1661.0,660.5 1661.5,660.6 1662.0,661.1 1662.5,660.2 1663.0,661.0 1663.5,660.8 1664.0,660.5 1664.5,660.7 1665.0,661.1 1665.5,660.6 1666.0,660.6 1666.5,660.6 1667.0,660.6 1667.5,660.1 1668.0,660.2 1668.5,659.8 1669.0,660.0 1669.5,659.4 1670.0,659.5 1670.5,659.6 1671.0,659.5 1671.5,659.6 1672.0,659.2 1672.5,659.3 1673.0,659.6 1673.5,659.2 1674.0,658.7 1674.5,658.8 1675.0,659.6 1675.5,659.5 1676.0,659.6 1676.5,659.5 1677.0,660.2 1677.5,660.3 1678.0,659.8 1678.5,660.5 1679.0,660.5 1679.5,660.5 1680.0,661.3 1680.5,661.4 1681.0,661.8 1681.5,662.6 1682.0,662.3 1682.5,662.3 1683.0,662.2 1683.5,661.9 1684.0,662.7 1684.5,662.1 1685.0,662.3 1685.5,662.0 1686.0,662.4 1686.5,663.4 1687.0,662.5 1687.5,662.5 1688.0,662.7 1688.5,663.0 1689.0,662.6 1689.5,662.4 1690.0,663.0 1690.5,663.3 1691.0,663.1 1691.5,663.2 1692.0,663.4 1692.5,663.6 1693.0,663.5 1693.5,663.0 1694.0,663.3 1694.5,663.4 1695.0,663.0 1695.5,662.5 1696.0,662.8 1696.5,663.0 1697.0,663.1 1697.5,662.1 1698.0,662.9 1698.5,662.4 1699.0,662.5 1699.5,662.6 1700.0,662.3 1700.5,662.4 1701.0,662.8 1701.5,663.2 1702.0,663.1 1702.5,662.6 1703.0,662.9 1703.5,663.0 1704.0,663.5 1704.5,663.0 1705.0,663.3 1705.5,663.4 1706.0,663.2 1706.5,663.0 1707.0,663.1 1707.5,663.3 1708.0,663.2 1708.5,663.2 1709.0,662.8 1709.5,663.1 1710.0,663.1 1710.5,663.7 1711.0,663.7 1711.5,663.3 1712.0,663.5 1712.5,663.1 1713.0,663.4 1713.5,663.0 1714.0,663.4 1714.5,663.0 1715.0,663.1 1715.5,663.2 1716.0,663.2 1716.5,662.8 1717.0,663.2 1717.5,663.4 1718.0,663.4 1718.5,663.9 1719.0,663.8 1719.5,663.8 1720.0,664.3 1720.5,664.2 1721.0,664.0 1721.5,663.9 1722.0,664.2 1722.5,664.5 1723.0,664.3 1723.5,665.0 1724.0,664.3 1724.5,664.3 1725.0,664.2 1725.5,664.1 1726.0,663.9 1726.5,663.4 1727.0,664.0 1727.5,663.6 1728.0,663.8 1728.5,663.0 1729.0,663.2 1729.5,663.3 1730.0,662.6 1730.5,662.6 1731.0,663.2 1731.5,663.0 1732.0,662.4 1732.5,662.9 1733.0,662.8 1733.5,663.2 1734.0,664.1 1734.5,663.4 1735.0,664.1 1735.5,663.6 1736.0,663.4 1736.5,664.0 1737.0,663.9 1737.5,664.2 1738.0,664.3 1738.5,664.1 1739.0,663.9 1739.5,662.7 1740.0,663.0 1740.5,663.2 1741.0,663.1 1741.5,663.2 1742.0,662.8 1742.5,663.1 1743.0,663.1 1743.5,662.8 1744.0,662.7 1744.5,662.7 1745.0,662.8 1745.5,662.4 1746.0,662.2 1746.5,662.5 1747.0,662.3 1747.5,661.8 1748.0,662.0 1748.5,662.0 1749.0,662.1 1749.5,661.8 1750.0,662.0 1750.5,661.9 1751.0,661.5 1751.5,661.7 1752.0,661.7 1752.5,661.6 1753.0,661.3 1753.5,661.0 1754.0,661.3 1754.5,661.1 1755.0,662.3 1755.5,661.4 1756.0,661.5 1756.5,662.1 1757.0,662.0 1757.5,661.5 1758.0,662.2 1758.5,662.1 1759.0,662.3 1759.5,662.2 1760.0,662.6 1760.5,663.1 1761.0,663.4 1761.5,663.3 1762.0,663.5 1762.5,663.6 1763.0,663.9 1763.5,663.9 1764.0,663.6 1764.5,664.4 1765.0,664.2 1765.5,664.8 1766.0,664.5 1766.5,665.0 1767.0,664.9 1767.5,665.0 1768.0,665.3 1768.5,665.2 1769.0,665.3 1769.5,665.3 1770.0,665.1 1770.5,665.6 1771.0,665.1 1771.5,665.0 1772.0,665.5 1772.5,665.4 1773.0,665.9 1773.5,665.6 1774.0,665.9 1774.5,665.3 1775.0,665.5 1775.5,665.7 1776.0,665.5 1776.5,665.3 1777.0,665.4 1777.5,665.1 1778.0,665.0 1778.5,664.9 1779.0,665.5 1779.5,665.3 1780.0,665.2 1780.5,665.7 1781.0,665.2 1781.5,665.9 1782.0,666.4 1782.5,665.9 1783.0,665.6 1783.5,665.3 1784.0,666.4 1784.5,665.8 1785.0,665.6 1785.5,666.5 1786.0,665.8 1786.5,666.3 1787.0,666.4 1787.5,666.4 1788.0,666.3 1788.5,667.4 1789.0,666.4 1789.5,666.7 1790.0,666.5 1790.5,666.3 1791.0,666.6 1791.5,667.0 1792.0,667.1 1792.5,666.5 1793.0,666.7 1793.5,666.6 1794.0,666.8 1794.5,666.1 1795.0,667.1 1795.5,666.8 1796.0,666.9 1796.5,666.3 1797.0,666.9 1797.5,667.3 1798.0,667.9 1798.5,667.1 1799.0,667.2 1799.5,667.6 1800.0,667.5 1800.5,667.2 1801.0,667.4 1801.5,667.0 1802.0,667.3 1802.5,667.5 1803.0,667.9 1803.5,667.3 1804.0,667.4 1804.5,667.4 1805.0,667.5 1805.5,666.8 1806.0,667.7 1806.5,667.3 1807.0,667.6 1807.5,666.9 1808.0,667.4 1808.5,667.5 1809.0,667.4 1809.5,667.3 1810.0,667.1 1810.5,668.3 1811.0,668.2 1811.5,667.8 1812.0,667.9 1812.5,667.8 1813.0,667.6 1813.5,667.5 1814.0,668.0 1814.5,668.2 1815.0,668.0 1815.5,668.5 1816.0,668.5 1816.5,668.4 1817.0,668.0 1817.5,668.4 1818.0,668.3 1818.5,668.0 1819.0,667.7 1819.5,668.8 1820.0,668.3 1820.5,667.9 1821.0,668.5 1821.5,668.5 1822.0,668.2 1822.5,668.2 1823.0,668.2 1823.5,668.4 1824.0,667.7 1824.5,667.7 1825.0,668.1 1825.5,667.2 1826.0,667.9 1826.5,667.7 1827.0,668.0 1827.5,668.0 1828.0,668.1 1828.5,668.0 1829.0,668.2 1829.5,668.2 1830.0,668.5 1830.5,668.0 1831.0,668.5 1831.5,667.8 1832.0,668.4 1832.5,668.4 1833.0,668.0 1833.5,668.4 1834.0,668.9 1834.5,668.3 1835.0,668.2 1835.5,667.4 1836.0,668.3 1836.5,668.2 1837.0,668.4 1837.5,669.0 1838.0,668.6 1838.5,668.6 1839.0,668.3 1839.5,668.3 1840.0,668.5 1840.5,668.9 1841.0,668.8 1841.5,668.6 1842.0,668.7 1842.5,669.3 1843.0,668.6 1843.5,669.1 1844.0,669.4 1844.5,669.3 1845.0,668.9 1845.5,669.2 1846.0,668.9 1846.5,669.0 1847.0,668.8 1847.5,669.1 1848.0,669.1 1848.5,669.4 1849.0,668.7 1849.5,668.7 1850.0,668.7 1850.5,668.8 1851.0,668.5 1851.5,668.8 1852.0,668.7 1852.5,668.3 1853.0,667.7 1853.5,668.0 1854.0,669.2 1854.5,668.6 1855.0,668.7 1855.5,668.6 1856.0,668.8 1856.5,668.1 1857.0,668.2 1857.5,668.4 1858.0,669.0 1858.5,669.2 1859.0,669.1 1859.5,668.8 1860.0,668.4 1860.5,669.1 1861.0,668.7 1861.5,669.1 1862.0,668.8 1862.5,668.5 1863.0,668.5 1863.5,668.5 1864.0,668.4 1864.5,668.9 1865.0,668.7 1865.5,669.1 1866.0,668.3 1866.5,669.2 1867.0,668.9 1867.5,668.8 1868.0,668.6 1868.5,668.4 1869.0,668.1 1869.5,669.1 1870.0,668.7 1870.5,669.1 1871.0,669.0 1871.5,668.8 1872.0,669.0 1872.5,669.2 1873.0,669.5 1873.5,669.3 1874.0,669.2 1874.5,669.6 1875.0,669.3 1875.5,670.0 1876.0,669.5 1876.5,670.0 1877.0,670.0 1877.5,669.1 1878.0,669.7 1878.5,669.5 1879.0,669.6 1879.5,669.0 1880.0,669.5 1880.5,669.1 1881.0,669.3 1881.5,669.7 1882.0,669.3 1882.5,668.6 1883.0,668.6 1883.5,668.7 1884.0,669.4 1884.5,669.0 1885.0,668.7 1885.5,669.5 1886.0,669.4 1886.5,669.4 1887.0,669.1 1887.5,669.8 1888.0,669.3 1888.5,668.8 1889.0,669.1 1889.5,669.3 1890.0,669.6 1890.5,670.1 1891.0,669.7 1891.5,669.6 1892.0,670.6 1892.5,669.9 1893.0,669.5 1893.5,669.6 1894.0,669.1 1894.5,669.7 1895.0,669.8 1895.5,669.4 1896.0,670.0 1896.5,669.3 1897.0,669.4 1897.5,669.1 1898.0,669.0 1898.5,668.9 1899.0,669.3 1899.5,669.0 1900.0,668.9 1900.5,668.5 1901.0,668.5 1901.5,668.7 1902.0,669.2 1902.5,669.1 1903.0,668.7 1903.5,669.1 1904.0,669.6 1904.5,669.2 1905.0,669.9 1905.5,669.3 1906.0,669.6 1906.5,669.2 1907.0,669.9 1907.5,669.2 1908.0,669.7 1908.5,669.6 1909.0,668.9 1909.5,669.2 1910.0,669.9 1910.5,669.8 1911.0,670.0 1911.5,669.5 1912.0,668.5 1912.5,669.5 1913.0,669.3 1913.5,669.3 1914.0,669.3 1914.5,669.4 1915.0,669.3 1915.5,670.0 1916.0,669.7 1916.5,669.3 1917.0,669.5 1917.5,669.7 1918.0,669.6 1918.5,669.5 1919.0,668.9 1919.5,669.3 1920.0,669.0 1920.5,668.9 1921.0,669.7 1921.5,669.1 1922.0,669.1 1922.5,668.8 1923.0,669.2 1923.5,669.6 1924.0,669.1 1924.5,669.2 1925.0,668.6 1925.5,668.9 1926.0,669.1 1926.5,669.6 1927.0,669.3"/>
<polyline fill="none" stroke="#04b038" stroke-width="1.6" stroke-linejoin="round" stroke-linecap="butt" points="175.0,587.4 176.0,588.5 177.0,587.5 178.0,588.1 179.0,588.1 180.0,588.9 181.0,588.9 182.0,587.7 183.0,588.7 184.0,588.2 185.0,588.0 186.0,588.6 187.0,586.6 188.0,587.6 189.0,586.9 190.0,588.4 191.0,587.0 192.0,589.2 193.0,589.6 194.0,589.4 195.0,589.9 196.0,590.7 197.0,589.5 198.0,588.5 199.0,589.6 200.0,590.9 201.0,590.3 202.0,591.1 203.0,591.2 204.0,590.1 205.0,591.7 206.0,591.9 207.0,592.7 208.0,593.2 209.0,593.1 210.0,593.4 211.0,592.9 212.0,594.5 213.0,592.2 214.0,593.5 215.0,592.4 216.0,593.0 217.0,595.2 218.0,594.1 219.0,594.7 220.0,596.2 221.0,594.5 222.0,596.8 223.0,594.7 224.0,595.3 225.0,594.6 226.0,595.6 227.0,595.9 228.0,595.8 229.0,596.1 230.0,597.2 231.0,599.0 232.0,598.2 233.0,600.4 234.0,599.0 235.0,600.6 236.0,600.1 237.0,601.8 238.0,601.9 239.0,601.5 240.0,599.4 241.0,602.2 242.0,602.5 243.0,603.9 244.0,603.6 245.0,602.1 246.0,602.0 247.0,603.0 248.0,603.7 249.0,602.2 250.0,603.9 251.0,604.4 252.0,603.7 253.0,604.7 254.0,605.6 255.0,603.9 256.0,604.1 257.0,603.7 258.0,602.3 259.0,603.2 260.0,604.3 261.0,606.0 262.0,605.9 263.0,605.9 264.0,605.7 265.0,606.4 266.0,605.0 267.0,605.2 268.0,605.6 269.0,605.8 270.0,605.0 271.0,607.9 272.0,605.7 273.0,606.2 274.0,606.3 275.0,608.1 276.0,608.5 277.0,608.1 278.0,608.2 279.0,608.2 280.0,608.3 281.0,608.7 282.0,607.2 283.0,609.5 284.0,607.9 285.0,608.0 286.0,607.7 287.0,607.9 288.0,607.1 289.0,605.9 290.0,607.8 291.0,607.2 292.0,606.9 293.0,607.4 294.0,606.8 295.0,608.0 296.0,606.6 297.0,607.6 298.0,608.6 299.0,607.5 300.0,609.4 301.0,609.3 302.0,608.8 303.0,609.2 304.0,608.9 305.0,608.7 306.0,610.2 307.0,608.5 308.0,606.6 309.0,607.4 310.0,606.8 311.0,604.5 312.0,605.6 313.0,604.8 314.0,605.2 315.0,605.8 316.0,605.2 317.0,604.3 318.0,606.2 319.0,604.7 320.0,604.4 321.0,603.9 322.0,603.4 323.0,603.4 324.0,603.8 325.0,604.8 326.0,605.4 327.0,603.8 328.0,605.1 329.0,604.1 330.0,606.6 331.0,607.4 332.0,605.3 333.0,604.4 334.0,605.0 335.0,605.3 336.0,603.0 337.0,604.8 338.0,600.0 339.0,602.0 340.0,602.0 341.0,601.9 342.0,600.8 343.0,600.9 344.0,601.4 345.0,601.5 346.0,599.9 347.0,599.4 348.0,598.4 349.0,601.2 350.0,601.8 351.0,600.6 352.0,600.4 353.0,602.1 354.0,601.7 355.0,599.0 356.0,600.4 357.0,600.0 358.0,599.2 359.0,600.0 360.0,600.5 361.0,600.4 362.0,600.3 363.0,598.9 364.0,600.6 365.0,599.5 366.0,597.7 367.0,597.1 368.0,597.2 369.0,595.9 370.0,597.5 371.0,596.2 372.0,596.4 373.0,596.6 374.0,596.8 375.0,596.8 376.0,595.9 377.0,594.5 378.0,594.5 379.0,594.0 380.0,595.0 381.0,594.7 382.0,592.6 383.0,593.1 384.0,593.2 385.0,593.5 386.0,593.7 387.0,591.7 388.0,592.4 389.0,593.0 390.0,591.2 391.0,591.8 392.0,591.4 393.0,592.4 394.0,590.6 395.0,589.5 396.0,591.2 397.0,588.8 398.0,589.5 399.0,588.3 400.0,588.7 401.0,587.8 402.0,589.2 403.0,587.8 404.0,586.4 405.0,586.4 406.0,587.5 407.0,586.4 408.0,586.3 409.0,584.9 410.0,585.8 411.0,585.8 412.0,585.3 413.0,585.3 414.0,584.2 415.0,583.5 416.0,584.0 417.0,584.0 418.0,584.0 419.0,584.5 420.0,583.8 421.0,583.2 422.0,583.1 423.0,581.9 424.0,582.8 425.0,581.9 426.0,581.1 427.0,582.0 428.0,581.1 429.0,581.8 430.0,581.2 431.0,580.2 432.0,579.8 433.0,577.9 434.0,577.9 435.0,577.4 436.0,580.1 437.0,579.4 438.0,577.9 439.0,578.0 440.0,578.8 441.0,578.8 442.0,577.3 443.0,577.9 444.0,577.8 445.0,576.3 446.0,577.0 447.0,575.8 448.0,577.4 449.0,576.0 450.0,577.2 451.0,575.9 452.0,574.9 453.0,575.3 454.0,576.0 455.0,575.2 456.0,574.1 457.0,572.6 458.0,571.9 459.0,570.1 460.0,567.1 461.0,564.4 462.0,564.6 463.0,566.5 464.0,570.5 465.0,573.1 466.0,572.0 467.0,575.5 468.0,575.2 469.0,574.5 470.0,574.6 471.0,572.2 472.0,575.9 473.0,575.3 474.0,574.7 475.0,576.4 476.0,576.2 477.0,575.1 478.0,577.0 479.0,576.4 480.0,574.0 481.0,572.4 482.0,570.8 483.0,567.4 484.0,563.6 485.0,563.1 486.0,564.0 487.0,565.9 488.0,568.5 489.0,571.9 490.0,573.1 491.0,574.9 492.0,575.7 493.0,575.5 494.0,576.2 495.0,575.5 496.0,576.2 497.0,575.5 498.0,577.2 499.0,574.9 500.0,576.5 501.0,576.9 502.0,576.4 503.0,575.0 504.0,577.1 505.0,577.9 506.0,577.7 507.0,575.5 508.0,576.1 509.0,576.4 510.0,576.3 511.0,575.1 512.0,575.3 513.0,574.3 514.0,575.8 515.0,577.2 516.0,575.0 517.0,576.8 518.0,575.1 519.0,575.9 520.0,577.5 521.0,576.1 522.0,576.4 523.0,577.4 524.0,576.6 525.0,577.2 526.0,577.9 527.0,576.1 528.0,576.4 529.0,577.7 530.0,576.8 531.0,577.7 532.0,577.5 533.0,579.3 534.0,578.8 535.0,577.6 536.0,576.9 537.0,577.3 538.0,577.0 539.0,574.8 540.0,576.5 541.0,576.3 542.0,577.3 543.0,577.8 544.0,577.7 545.0,577.0 546.0,577.9 547.0,578.8 548.0,580.1 549.0,578.5 550.0,577.9 551.0,578.6 552.0,578.1 553.0,579.0 554.0,579.9 555.0,578.2 556.0,579.3 557.0,579.1 558.0,579.3 559.0,578.8 560.0,578.3 561.0,579.4 562.0,579.0 563.0,577.7 564.0,577.7 565.0,577.6 566.0,578.1 567.0,580.9 568.0,578.4 569.0,580.6 570.0,578.6 571.0,580.9 572.0,579.8 573.0,581.0 574.0,579.7 575.0,581.6 576.0,580.9 577.0,580.7 578.0,580.1 579.0,578.3 580.0,579.6 581.0,580.4 582.0,579.5 583.0,580.7 584.0,580.7 585.0,581.7 586.0,582.9 587.0,583.8 588.0,583.4 589.0,582.4 590.0,580.6 591.0,578.9 592.0,575.6 593.0,569.6 594.0,560.9 595.0,553.0 596.0,547.9 597.0,550.6 598.0,558.2 599.0,566.3 600.0,573.8 601.0,578.8 602.0,581.1 603.0,582.3 604.0,582.9 605.0,584.9 606.0,586.1 607.0,586.1 608.0,587.3 609.0,587.0 610.0,588.0 611.0,590.1 612.0,588.8 613.0,588.6 614.0,588.2 615.0,586.5 616.0,586.5 617.0,586.4 618.0,587.0 619.0,587.4 620.0,588.6 621.0,586.7 622.0,588.4 623.0,590.4 624.0,591.1 625.0,590.2 626.0,591.8 627.0,590.4 628.0,589.7 629.0,591.1 630.0,591.5 631.0,591.8 632.0,591.1 633.0,590.2 634.0,589.1 635.0,586.9 636.0,587.4 637.0,585.4 638.0,583.9 639.0,581.9 640.0,580.4 641.0,579.5 642.0,580.5 643.0,582.2 644.0,585.0 645.0,587.2 646.0,588.1 647.0,588.1 648.0,586.9 649.0,586.3 650.0,586.1 651.0,585.8 652.0,582.9 653.0,579.2 654.0,574.5 655.0,566.1 656.0,555.8 657.0,542.7 658.0,527.6 659.0,511.6 660.0,497.0 661.0,485.9 662.0,481.4 663.0,484.7 664.0,495.0 665.0,509.6 666.0,526.0 667.0,541.9 668.0,555.4 669.0,567.1 670.0,576.0 671.0,582.6 672.0,587.0 673.0,590.5 674.0,594.0 675.0,594.6 676.0,595.3 677.0,596.6 678.0,596.9 679.0,595.9 680.0,598.4 681.0,597.4 682.0,596.8 683.0,596.3 684.0,598.7 685.0,598.9 686.0,600.0 687.0,598.3 688.0,599.9 689.0,599.6 690.0,598.5 691.0,599.9 692.0,598.8 693.0,598.4 694.0,598.6 695.0,596.8 696.0,597.0 697.0,595.6 698.0,593.9 699.0,590.7 700.0,585.6 701.0,576.1 702.0,562.7 703.0,541.8 704.0,512.8 705.0,475.5 706.0,432.2 707.0,387.6 708.0,349.3 709.0,326.7 710.0,326.8 711.0,349.8 712.0,388.6 713.0,433.6 714.0,477.2 715.0,515.0 716.0,544.7 717.0,565.8 718.0,580.2 719.0,589.1 720.0,594.8 721.0,598.2 722.0,600.6 723.0,601.7 724.0,602.6 725.0,603.3 726.0,604.5 727.0,604.4 728.0,604.8 729.0,605.2 730.0,606.1 731.0,605.2 732.0,605.4 733.0,605.4 734.0,604.2 735.0,604.1 736.0,602.4 737.0,599.7 738.0,596.9 739.0,592.4 740.0,590.5 741.0,589.8 742.0,590.7 743.0,591.7 744.0,590.2 745.0,586.8 746.0,583.4 747.0,578.9 748.0,574.4 749.0,569.7 750.0,560.5 751.0,549.6 752.0,528.6 753.0,483.6 754.0,430.6 755.0,376.1 756.0,315.6 757.0,258.5 758.0,215.1 759.0,177.0 759.5,172.3 760.5,204.9 761.5,238.2 762.5,274.2 763.5,333.2 764.5,393.6 765.5,459.0 766.5,519.5 767.5,554.4 768.5,573.3 769.5,581.3 770.5,588.2 771.5,594.8 772.5,601.6 773.5,608.5 774.5,611.0 775.5,613.7 776.5,617.2 777.5,616.9 778.5,617.1 779.5,618.3 780.5,618.7 781.5,619.5 782.5,621.2 783.5,622.2 784.5,623.5 785.5,623.5 786.5,623.5 787.5,623.8 788.5,623.5 789.5,624.7 790.5,623.3 791.5,625.6 792.5,625.0 793.5,625.7 794.5,626.3 795.5,626.9 796.5,626.0 797.5,627.5 798.5,628.1 799.5,628.6 800.5,627.9 801.5,629.5 802.5,628.8 803.5,629.7 804.5,628.9 805.5,628.1 806.5,628.1 807.5,628.6 808.5,627.6 809.5,629.4 810.5,629.1 811.5,630.0 812.5,629.2 813.5,629.4 814.5,628.6 815.5,628.8 816.5,629.1 817.5,629.0 818.5,629.1 819.5,629.2 820.5,629.6 821.5,629.4 822.5,631.1 823.5,630.4 824.5,629.3 825.5,631.0 826.5,629.8 827.5,630.9 828.5,631.5 829.5,631.3 830.5,631.2 831.5,631.5 832.5,630.9 833.5,631.1 834.5,631.0 835.5,630.4 836.5,631.1 837.5,630.7 838.5,631.7 839.5,631.4 840.5,631.0 841.5,631.3 842.5,632.6 843.5,632.1 844.5,632.8 845.5,632.7 846.5,632.8 847.5,632.2 848.5,632.7 849.5,632.5 850.5,632.0 851.5,631.2 852.5,632.3 853.5,632.4 854.5,633.0 855.5,634.0 856.5,633.3 857.5,632.9 858.5,633.8 859.5,632.9 860.5,633.4 861.5,633.3 862.5,634.8 863.5,635.3 864.5,633.5 865.5,634.3 866.5,633.7 867.5,633.9 868.5,633.9 869.5,634.1 870.5,634.1 871.5,635.1 872.5,634.6 873.5,634.3 874.5,633.7 875.5,633.4 876.5,634.0 877.5,634.5 878.5,634.2 879.5,634.7 880.5,634.1 881.5,635.4 882.5,633.6 883.5,633.9 884.5,634.7 885.5,634.1 886.5,634.9 887.5,633.5 888.5,634.2 889.5,635.2 890.5,635.1 891.5,634.8 892.5,635.8 893.5,633.4 894.5,633.8 895.5,634.0 896.5,633.8 897.5,632.9 898.5,632.4 899.5,631.5 900.5,631.6 901.5,632.1 902.5,633.2 903.5,635.4 904.5,636.9 905.5,636.1 906.5,637.3 907.5,637.3 908.5,637.5 909.5,637.4 910.5,637.6 911.5,637.5 912.5,637.7 913.5,636.6 914.5,637.0 915.5,637.1 916.5,637.0 917.5,637.8 918.5,637.3 919.5,636.7 920.5,637.2 921.5,638.3 922.5,637.1 923.5,637.5 924.5,637.3 925.5,637.2 926.5,637.3 927.5,638.1 928.5,637.8 929.5,637.4 930.5,637.4 931.5,637.7 932.5,638.4 933.5,638.5 934.5,638.6 935.5,638.2 936.5,638.5 937.5,638.2 938.5,637.2 939.5,638.3 940.5,638.0 941.5,637.9 942.5,637.5 943.5,638.3 944.5,638.1 945.5,638.6 946.5,638.8 947.5,638.3 948.5,639.1 949.5,639.1 950.5,639.3 951.5,639.9 952.5,639.3 953.5,639.3 954.5,639.6 955.5,639.6 956.5,639.5 957.5,639.8 958.5,639.5 959.5,639.4 960.5,639.3 961.5,639.9 962.5,639.3 963.5,640.3 964.5,639.4 965.5,639.8 966.5,639.7 967.5,640.5 968.5,639.9 969.5,638.6 970.5,639.8 971.5,639.0 972.5,638.7 973.5,639.0 974.5,639.3 975.5,639.1 976.5,639.1 977.5,639.4 978.5,638.6 979.5,639.6 980.5,639.0 981.5,638.9 982.5,639.0 983.5,638.9 984.5,638.7 985.5,637.6 986.5,638.8 987.5,638.0 988.5,638.2 989.5,637.9 990.5,637.1 991.5,636.8 992.5,635.4 993.5,633.8 994.5,632.3 995.5,629.8 996.5,626.6 997.5,623.0 998.5,618.8 999.5,614.4 1000.5,608.9 1001.5,603.7 1002.5,598.1 1003.5,593.7 1004.5,590.5 1005.5,589.2 1006.5,590.0 1007.5,593.2 1008.5,597.6 1009.5,602.9 1010.5,608.5 1011.5,614.0 1012.5,619.2 1013.5,623.8 1014.5,627.6 1015.5,631.1 1016.5,634.2 1017.5,635.7 1018.5,637.1 1019.5,637.6 1020.5,639.4 1021.5,640.2 1022.5,639.5 1023.5,641.0 1024.5,640.6 1025.5,642.0 1026.5,642.0 1027.5,642.3 1028.5,643.3 1029.5,643.3 1030.5,643.4 1031.5,643.1 1032.5,643.5 1033.5,643.9 1034.5,644.5 1035.5,644.8 1036.5,646.0 1037.5,644.8 1038.5,644.4 1039.5,644.5 1040.5,645.4 1041.5,645.2 1042.5,644.8 1043.5,645.6 1044.5,646.1 1045.5,645.8 1046.5,644.7 1047.5,645.0 1048.5,644.2 1049.5,644.9 1050.5,644.4 1051.5,644.2 1052.5,644.9 1053.5,644.8 1054.5,644.3 1055.5,645.1 1056.5,645.3 1057.5,645.3 1058.5,646.0 1059.5,645.8 1060.5,646.7 1061.5,645.6 1062.5,646.8 1063.5,646.8 1064.5,646.8 1065.5,646.5 1066.5,646.1 1067.5,646.0 1068.5,646.7 1069.5,646.5 1070.5,646.0 1071.5,646.0 1072.5,645.8 1073.5,645.7 1074.5,646.1 1075.5,645.6 1076.5,645.7 1077.5,645.8 1078.5,646.6 1079.5,646.5 1080.5,646.2 1081.5,646.5 1082.5,647.2 1083.5,646.3 1084.5,647.1 1085.5,646.4 1086.5,646.5 1087.5,647.3 1088.5,646.9 1089.5,646.5 1090.5,646.8 1091.5,646.8 1092.5,647.1 1093.5,646.0 1094.5,646.9 1095.5,646.2 1096.5,645.9 1097.5,646.3 1098.5,646.4 1099.5,646.3 1100.5,647.6 1101.5,647.4 1102.5,647.0 1103.5,647.4 1104.5,647.2 1105.5,647.4 1106.5,647.0 1107.5,646.9 1108.5,647.7 1109.5,647.8 1110.5,647.9 1111.5,647.6 1112.5,647.4 1113.5,647.9 1114.5,647.4 1115.5,647.4 1116.5,648.0 1117.5,647.2 1118.5,647.6 1119.5,646.8 1120.5,647.4 1121.5,646.7 1122.5,647.6 1123.5,647.9 1124.5,648.3 1125.5,648.4 1126.5,648.0 1127.5,647.9 1128.5,648.0 1129.5,646.6 1130.5,647.7 1131.5,647.5 1132.5,646.5 1133.5,645.7 1134.5,646.9 1135.5,646.3 1136.5,646.9 1137.5,647.7 1138.5,646.2 1139.5,647.0 1140.5,646.5 1141.5,646.5 1142.5,646.6 1143.5,647.5 1144.5,647.5 1145.5,646.9 1146.5,647.3 1147.5,647.1 1148.5,647.0 1149.5,647.2 1150.5,647.8 1151.5,647.8 1152.5,647.0 1153.5,646.2 1154.5,647.9 1155.5,647.2 1156.5,647.5 1157.5,646.8 1158.5,646.8 1159.5,647.1 1160.5,648.4 1161.5,647.3 1162.5,648.0 1163.5,648.2 1164.5,647.3 1165.5,648.7 1166.5,648.2 1167.5,648.6 1168.5,647.9 1169.5,647.6 1170.5,647.4 1171.5,647.4 1172.5,647.2 1173.5,647.7 1174.5,646.7 1175.5,646.4 1176.5,647.2 1177.5,646.3 1178.5,647.2 1179.5,646.2 1180.5,646.7 1181.5,646.7 1182.5,646.9 1183.5,647.0 1184.5,646.7 1185.5,646.3 1186.5,646.2 1187.5,646.2 1188.5,646.4 1189.5,646.4 1190.5,647.0 1191.5,646.2 1192.5,646.6 1193.5,646.6 1194.5,645.8 1195.5,646.1 1196.5,645.5 1197.5,645.7 1198.5,645.7 1199.5,645.1 1200.5,644.7 1201.5,644.9 1202.5,644.0 1203.5,643.5 1204.5,642.0 1205.5,641.1 1206.5,640.2 1207.5,639.2 1208.5,636.7 1209.5,635.5 1210.5,632.9 1211.5,630.7 1212.5,628.6 1213.5,625.8 1214.5,623.4 1215.5,620.9 1216.5,618.9 1217.5,618.1 1218.5,617.7 1219.5,618.0 1220.5,619.2 1221.5,621.2 1222.5,623.5 1223.5,626.5 1224.5,628.8 1225.5,631.8 1226.5,634.0 1227.5,636.0 1228.5,637.7 1229.5,639.7 1230.5,641.2 1231.5,642.1 1232.5,643.1 1233.5,643.8 1234.5,644.7 1235.5,645.5 1236.5,645.2 1237.5,645.6 1238.5,646.1 1239.5,646.2 1240.5,646.1 1241.5,646.4 1242.5,646.3 1243.5,646.3 1244.5,645.9 1245.5,646.7 1246.5,646.8 1247.5,647.5 1248.5,646.6 1249.5,646.6 1250.5,646.3 1251.5,646.9 1252.5,645.9 1253.5,646.2 1254.5,647.0 1255.5,646.5 1256.5,646.2 1257.5,646.3 1258.5,646.2 1259.5,646.4 1260.5,646.5 1261.5,646.2 1262.5,645.6 1263.5,645.2 1264.5,647.1 1265.5,646.6 1266.5,646.8 1267.5,647.5 1268.5,646.8 1269.5,647.6 1270.5,647.2 1271.5,647.3 1272.5,647.4 1273.5,647.6 1274.5,647.5 1275.5,646.7 1276.5,646.6 1277.5,646.8 1278.5,647.3 1279.5,647.5 1280.5,646.6 1281.5,646.9 1282.5,646.5 1283.5,646.2 1284.5,646.5 1285.5,645.4 1286.5,645.8 1287.5,646.1 1288.5,645.6 1289.5,646.6 1290.5,646.6 1291.5,646.3 1292.5,645.4 1293.5,645.7 1294.5,645.5 1295.5,645.9 1296.5,646.0 1297.5,645.4 1298.5,645.3 1299.5,645.4 1300.5,645.9 1301.5,646.3 1302.5,645.0 1303.5,644.9 1304.5,645.7 1305.5,645.8 1306.5,645.5 1307.5,646.9 1308.5,646.1 1309.5,645.8 1310.5,645.7 1311.5,645.5 1312.5,645.5 1313.5,645.0 1314.5,645.6 1315.5,645.2 1316.5,645.3 1317.5,644.1 1318.5,644.4 1319.5,644.8 1320.5,643.9 1321.5,644.1 1322.5,643.3 1323.5,643.7 1324.5,643.2 1325.5,643.3 1326.5,642.0 1327.5,640.7 1328.5,640.2 1329.5,638.5 1330.5,636.8 1331.5,634.6 1332.5,632.2 1333.5,629.5 1334.5,626.3 1335.5,622.6 1336.5,618.7 1337.5,614.4 1338.5,610.2 1339.5,605.9 1340.5,602.6 1341.5,600.0 1342.5,598.7 1343.5,598.6 1344.5,599.9 1345.5,602.6 1346.5,606.4 1347.5,610.5 1348.5,614.8 1349.5,619.4 1350.5,623.4 1351.5,627.7 1352.5,630.9 1353.5,633.6 1354.5,636.0 1355.5,638.3 1356.5,639.8 1357.5,641.0 1358.5,642.1 1359.5,643.2 1360.5,643.6 1361.5,644.7 1362.5,645.1 1363.5,645.3 1364.5,646.1 1365.5,646.2 1366.5,646.7 1367.5,646.9 1368.5,647.5 1369.5,646.9 1370.5,647.9 1371.5,647.6 1372.5,647.4 1373.5,647.7 1374.5,648.2 1375.5,647.4 1376.5,647.7 1377.5,647.5 1378.5,647.3 1379.5,647.5 1380.5,647.2 1381.5,648.3 1382.5,648.6 1383.5,648.9 1384.5,648.1 1385.5,648.8 1386.5,649.1 1387.5,649.4 1388.5,649.0 1389.5,649.6 1390.5,649.7 1391.5,650.1 1392.5,648.9 1393.5,649.0 1394.5,649.5 1395.5,649.9 1396.5,649.4 1397.5,649.7 1398.5,649.0 1399.5,650.1 1400.5,649.7 1401.5,649.7 1402.5,649.8 1403.5,650.8 1404.5,650.1 1405.5,649.6 1406.5,650.2 1407.5,650.3 1408.5,650.3 1409.5,650.2 1410.5,650.9 1411.5,650.3 1412.5,650.0 1413.5,650.4 1414.5,650.0 1415.5,650.2 1416.5,651.2 1417.5,650.9 1418.5,650.8 1419.5,651.4 1420.5,651.1 1421.5,651.9 1422.5,651.5 1423.5,651.2 1424.5,651.1 1425.5,650.9 1426.5,650.5 1427.5,650.7 1428.5,651.0 1429.5,650.5 1430.5,650.5 1431.5,650.9 1432.5,650.9 1433.5,651.3 1434.5,651.0 1435.5,651.8 1436.5,651.1 1437.5,650.9 1438.5,651.3 1439.5,651.4 1440.5,650.9 1441.5,650.7 1442.5,651.1 1443.5,650.4 1444.5,650.7 1445.5,650.3 1446.5,649.5 1447.5,649.9 1448.5,649.4 1449.5,650.0 1450.5,649.1 1451.5,648.7 1452.5,648.1 1453.5,647.1 1454.5,646.8 1455.5,645.6 1456.5,644.0 1457.5,643.4 1458.5,642.1 1459.5,640.4 1460.5,638.5 1461.5,636.6 1462.5,634.5 1463.5,632.8 1464.5,631.4 1465.5,629.4 1466.5,628.5 1467.5,628.4 1468.5,628.5 1469.5,629.5 1470.5,630.9 1471.5,632.3 1472.5,634.3 1473.5,636.0 1474.5,638.7 1475.5,640.8 1476.5,642.3 1477.5,644.2 1478.5,645.6 1479.5,646.3 1480.5,647.5 1481.5,648.4 1482.5,649.0 1483.5,648.8 1484.5,649.4 1485.5,648.8 1486.5,649.1 1487.5,649.0 1488.5,648.5 1489.5,647.5 1490.5,646.6 1491.5,645.5 1492.5,644.9 1493.5,643.6 1494.5,643.2 1495.5,642.9 1496.5,641.9 1497.5,641.8 1498.5,642.1 1499.5,642.1 1500.5,643.4 1501.5,644.0 1502.5,645.5 1503.5,647.0 1504.5,647.4 1505.5,649.3 1506.5,650.3 1507.5,651.1 1508.5,651.6 1509.5,651.9 1510.5,652.8 1511.5,653.0 1512.5,652.8 1513.5,653.3 1514.5,654.0 1515.5,653.8 1516.5,654.7 1517.5,655.4 1518.5,655.3 1519.5,655.0 1520.5,655.3 1521.5,655.9 1522.5,655.1 1523.5,655.1 1524.5,654.7 1525.5,654.6 1526.5,655.1 1527.5,655.3 1528.5,655.6 1529.5,655.1 1530.5,656.6 1531.5,656.1 1532.5,656.0 1533.5,656.0 1534.5,655.6 1535.5,656.1 1536.5,656.3 1537.5,656.5 1538.5,656.0 1539.5,655.5 1540.5,655.5 1541.5,656.0 1542.5,655.4 1543.5,655.1 1544.5,655.0 1545.5,654.5 1546.5,654.5 1547.5,653.3 1548.5,652.7 1549.5,651.6 1550.5,651.2 1551.5,651.1 1552.5,650.5 1553.5,650.1 1554.5,650.5 1555.5,651.3 1556.5,652.3 1557.5,652.7 1558.5,653.7 1559.5,654.2 1560.5,654.9 1561.5,655.5 1562.5,655.4 1563.5,655.9 1564.5,656.6 1565.5,656.7 1566.5,657.3 1567.5,657.8 1568.5,657.6 1569.5,657.4 1570.5,657.4 1571.5,656.9 1572.5,657.4 1573.5,657.3 1574.5,657.6 1575.5,657.8 1576.5,658.1 1577.5,657.2 1578.5,658.6 1579.5,659.1 1580.5,658.5 1581.5,658.2 1582.5,658.5 1583.5,658.8 1584.5,659.1 1585.5,659.3 1586.5,659.7 1587.5,659.3 1588.5,659.1 1589.5,659.2 1590.5,659.6 1591.5,660.0 1592.5,660.4 1593.5,658.7 1594.5,660.0 1595.5,659.5 1596.5,660.0 1597.5,659.6 1598.5,660.0 1599.5,659.6 1600.5,659.9 1601.5,660.5 1602.5,660.2 1603.5,660.6 1604.5,659.8 1605.5,659.4 1606.5,661.3 1607.5,660.4 1608.5,660.7 1609.5,660.5 1610.5,660.6 1611.5,660.7 1612.5,660.8 1613.5,660.2 1614.5,659.9 1615.5,660.2 1616.5,660.4 1617.5,660.4 1618.5,660.7 1619.5,660.2 1620.5,660.3 1621.5,660.9 1622.5,661.0 1623.5,661.1 1624.5,661.1 1625.5,661.2 1626.5,661.4 1627.5,661.9 1628.5,661.2 1629.5,661.1 1630.5,661.1 1631.5,660.7 1632.5,660.7 1633.5,661.4 1634.5,661.0 1635.5,661.0 1636.5,661.4 1637.5,660.7 1638.5,660.8 1639.5,660.8 1640.5,661.3 1641.5,661.4 1642.5,660.7 1643.5,660.7 1644.5,660.7 1645.5,660.9 1646.5,660.8 1647.5,660.9 1648.5,660.8 1649.5,661.3 1650.5,661.1 1651.5,660.8 1652.5,661.4 1653.5,661.2 1654.5,661.4 1655.5,661.7 1656.5,662.1 1657.5,661.0 1658.5,661.6 1659.5,661.0 1660.5,660.3 1661.5,660.6 1662.5,660.2 1663.5,660.8 1664.5,660.7 1665.5,660.6 1666.5,660.6 1667.5,660.1 1668.5,659.8 1669.5,659.4 1670.5,659.6 1671.5,659.6 1672.5,659.3 1673.5,659.2 1674.5,658.8 1675.5,659.5 1676.5,659.5 1677.5,660.3 1678.5,660.5 1679.5,660.5 1680.5,661.4 1681.5,662.6 1682.5,662.3 1683.5,661.9 1684.5,662.1 1685.5,662.0 1686.5,663.4 1687.5,662.5 1688.5,663.0 1689.5,662.4 1690.5,663.3 1691.5,663.2 1692.5,663.6 1693.5,663.0 1694.5,663.4 1695.5,662.5 1696.5,663.0 1697.5,662.1 1698.5,662.4 1699.5,662.6 1700.5,662.4 1701.5,663.2 1702.5,662.6 1703.5,663.0 1704.5,663.0 1705.5,663.4 1706.5,663.0 1707.5,663.3 1708.5,663.2 1709.5,663.1 1710.5,663.7 1711.5,663.3 1712.5,663.1 1713.5,663.0 1714.5,663.0 1715.5,663.2 1716.5,662.8 1717.5,663.4 1718.5,663.9 1719.5,663.8 1720.5,664.2 1721.5,663.9 1722.5,664.5 1723.5,665.0 1724.5,664.3 1725.5,664.1 1726.5,663.4 1727.5,663.6 1728.5,663.0 1729.5,663.3 1730.5,662.6 1731.5,663.0 1732.5,662.9 1733.5,663.2 1734.5,663.4 1735.5,663.6 1736.5,664.0 1737.5,664.2 1738.5,664.1 1739.5,662.7 1740.5,663.2 1741.5,663.2 1742.5,663.1 1743.5,662.8 1744.5,662.7 1745.5,662.4 1746.5,662.5 1747.5,661.8 1748.5,662.0 1749.5,661.8 1750.5,661.9 1751.5,661.7 1752.5,661.6 1753.5,661.0 1754.5,661.1 1755.5,661.4 1756.5,662.1 1757.5,661.5 1758.5,662.1 1759.5,662.2 1760.5,663.1 1761.5,663.3 1762.5,663.6 1763.5,663.9 1764.5,664.4 1765.5,664.8 1766.5,665.0 1767.5,665.0 1768.5,665.2 1769.5,665.3 1770.5,665.6 1771.5,665.0 1772.5,665.4 1773.5,665.6 1774.5,665.3 1775.5,665.7 1776.5,665.3 1777.5,665.1 1778.5,664.9 1779.5,665.3 1780.5,665.7 1781.5,665.9 1782.5,665.9 1783.5,665.3 1784.5,665.8 1785.5,666.5 1786.5,666.3 1787.5,666.4 1788.5,667.4 1789.5,666.7 1790.5,666.3 1791.5,667.0 1792.5,666.5 1793.5,666.6 1794.5,666.1 1795.5,666.8 1796.5,666.3 1797.5,667.3 1798.5,667.1 1799.5,667.6 1800.5,667.2 1801.5,667.0 1802.5,667.5 1803.5,667.3 1804.5,667.4 1805.5,666.8 1806.5,667.3 1807.5,666.9 1808.5,667.5 1809.5,667.3 1810.5,668.3 1811.5,667.8 1812.5,667.8 1813.5,667.5 1814.5,668.2 1815.5,668.5 1816.5,668.4 1817.5,668.4 1818.5,668.0 1819.5,668.8 1820.5,667.9 1821.5,668.5 1822.5,668.2 1823.5,668.4 1824.5,667.7 1825.5,667.2 1826.5,667.7 1827.5,668.0 1828.5,668.0 1829.5,668.2 1830.5,668.0 1831.5,667.8 1832.5,668.4 1833.5,668.4 1834.5,668.3 1835.5,667.4 1836.5,668.2 1837.5,669.0 1838.5,668.6 1839.5,668.3 1840.5,668.9 1841.5,668.6 1842.5,669.3 1843.5,669.1 1844.5,669.3 1845.5,669.2 1846.5,669.0 1847.5,669.1 1848.5,669.4 1849.5,668.7 1850.5,668.8 1851.5,668.8 1852.5,668.3 1853.5,668.0 1854.5,668.6 1855.5,668.6 1856.5,668.1 1857.5,668.4 1858.5,669.2 1859.5,668.8 1860.5,669.1 1861.5,669.1 1862.5,668.5 1863.5,668.5 1864.5,668.9 1865.5,669.1 1866.5,669.2 1867.5,668.8 1868.5,668.4 1869.5,669.1 1870.5,669.1 1871.5,668.8 1872.5,669.2 1873.5,669.3 1874.5,669.6 1875.5,670.0 1876.5,670.0 1877.5,669.1 1878.5,669.5 1879.5,669.0 1880.5,669.1 1881.5,669.7 1882.5,668.6 1883.5,668.7 1884.5,669.0 1885.5,669.5 1886.5,669.4 1887.5,669.8 1888.5,668.8 1889.5,669.3 1890.5,670.1 1891.5,669.6 1892.5,669.9 1893.5,669.6 1894.5,669.7 1895.5,669.4 1896.5,669.3 1897.5,669.1 1898.5,668.9 1899.5,669.0 1900.5,668.5 1901.5,668.7 1902.5,669.1 1903.5,669.1 1904.5,669.2 1905.5,669.3 1906.5,669.2 1907.5,669.2 1908.5,669.6 1909.5,669.2 1910.5,669.8 1911.5,669.5 1912.5,669.5 1913.5,669.3 1914.5,669.4 1915.5,670.0 1916.5,669.3 1917.5,669.7 1918.5,669.5 1919.5,669.3 1920.5,668.9 1921.5,669.1 1922.5,668.8 1923.5,669.6 1924.5,669.2 1925.5,668.9 1926.5,669.6"/>
<polyline id="curve-at61" fill="none" stroke="#ff8000" stroke-width="3" stroke-linejoin="round" stroke-linecap="butt" shape-rendering="crispEdges" points="173.0,1214.3 173.5,1214.4 174.0,1213.9 174.5,1213.6 175.0,1213.5 175.5,1213.0 176.0,1213.6 176.5,1214.7 177.0,1213.4 177.5,1213.3 178.0,1213.9 178.5,1213.7 179.0,1213.8 179.5,1213.3 180.0,1214.0 180.5,1214.7 181.0,1213.7 181.5,1214.2 182.0,1213.4 182.5,1214.0 183.0,1213.5 183.5,1214.7 184.0,1213.6 184.5,1214.8 185.0,1214.6 185.5,1214.0 186.0,1212.8 186.5,1214.3 187.0,1214.5 187.5,1214.7 188.0,1213.4 188.5,1214.0 189.0,1213.6 189.5,1213.8 190.0,1215.9 190.5,1214.8 191.0,1215.5 191.5,1216.6 192.0,1215.5 192.5,1215.8 193.0,1216.3 193.5,1216.2 194.0,1215.7 194.5,1216.8 195.0,1218.2 195.5,1216.2 196.0,1217.4 196.5,1216.7 197.0,1216.4 197.5,1218.4 198.0,1218.0 198.5,1216.7 199.0,1217.4 199.5,1218.0 200.0,1217.6 200.5,1217.9 201.0,1217.3 201.5,1218.3 202.0,1219.1 202.5,1217.9 203.0,1218.0 203.5,1217.5 204.0,1217.9 204.5,1217.2 205.0,1217.8 205.5,1218.0 206.0,1218.9 206.5,1219.3 207.0,1217.7 207.5,1217.9 208.0,1218.7 208.5,1217.3 209.0,1218.6 209.5,1218.7 210.0,1219.6 210.5,1219.5 211.0,1219.0 211.5,1219.4 212.0,1219.4 212.5,1220.6 213.0,1219.1 213.5,1219.3 214.0,1220.1 214.5,1219.9 215.0,1220.2 215.5,1220.0 216.0,1220.8 216.5,1220.3 217.0,1221.4 217.5,1221.0 218.0,1220.7 218.5,1221.3 219.0,1221.0 219.5,1221.9 220.0,1221.0 220.5,1221.2 221.0,1220.1 221.5,1220.7 222.0,1219.4 222.5,1219.7 223.0,1220.8 223.5,1220.1 224.0,1220.8 224.5,1222.3 225.0,1220.3 225.5,1220.8 226.0,1221.4 226.5,1221.7 227.0,1221.7 227.5,1222.1 228.0,1222.7 228.5,1222.1 229.0,1221.3 229.5,1222.2 230.0,1222.5 230.5,1221.6 231.0,1222.3 231.5,1221.6 232.0,1222.7 232.5,1222.3 233.0,1221.5 233.5,1221.0 234.0,1221.3 234.5,1220.2 235.0,1220.5 235.5,1221.4 236.0,1219.7 236.5,1221.5 237.0,1220.0 237.5,1221.4 238.0,1220.6 238.5,1221.3 239.0,1221.1 239.5,1219.9 240.0,1221.7 240.5,1222.1 241.0,1221.3 241.5,1221.2 242.0,1221.1 242.5,1221.1 243.0,1222.8 243.5,1222.1 244.0,1222.1 244.5,1221.9 245.0,1222.3 245.5,1222.1 246.0,1223.8 246.5,1222.8 247.0,1223.5 247.5,1223.0 248.0,1222.7 248.5,1222.8 249.0,1222.4 249.5,1222.7 250.0,1222.5 250.5,1223.0 251.0,1222.3 251.5,1222.9 252.0,1224.6 252.5,1223.2 253.0,1222.7 253.5,1223.6 254.0,1224.3 254.5,1222.4 255.0,1223.3 255.5,1222.7 256.0,1222.0 256.5,1223.6 257.0,1223.2 257.5,1223.0 258.0,1222.2 258.5,1223.2 259.0,1222.8 259.5,1223.3 260.0,1222.8 260.5,1222.6 261.0,1224.4 261.5,1223.8 262.0,1224.2 262.5,1224.1 263.0,1223.6 263.5,1223.9 264.0,1224.7 264.5,1223.6 265.0,1224.0 265.5,1223.9 266.0,1225.0 266.5,1225.2 267.0,1224.9 267.5,1224.0 268.0,1223.7 268.5,1224.9 269.0,1224.8 269.5,1223.8 270.0,1223.9 270.5,1224.4 271.0,1224.3 271.5,1224.7 272.0,1223.6 272.5,1224.5 273.0,1222.7 273.5,1223.9 274.0,1223.7 274.5,1223.7 275.0,1224.7 275.5,1224.6 276.0,1223.2 276.5,1222.8 277.0,1224.6 277.5,1223.1 278.0,1223.7 278.5,1224.2 279.0,1222.4 279.5,1222.3 280.0,1224.1 280.5,1224.2 281.0,1223.6 281.5,1223.9 282.0,1223.4 282.5,1223.2 283.0,1223.9 283.5,1223.5 284.0,1223.3 284.5,1225.0 285.0,1224.9 285.5,1225.0 286.0,1223.8 286.5,1224.3 287.0,1224.6 287.5,1224.7 288.0,1226.0 288.5,1225.2 289.0,1226.0 289.5,1226.0 290.0,1226.8 290.5,1224.5 291.0,1225.7 291.5,1225.4 292.0,1225.4 292.5,1224.5 293.0,1224.6 293.5,1225.3 294.0,1224.3 294.5,1224.5 295.0,1223.9 295.5,1224.6 296.0,1224.1 296.5,1222.6 297.0,1223.8 297.5,1222.7 298.0,1221.7 298.5,1223.4 299.0,1224.9 299.5,1223.7 300.0,1223.2 300.5,1223.1 301.0,1224.5 301.5,1224.0 302.0,1223.6 302.5,1224.0 303.0,1223.8 303.5,1224.5 304.0,1224.9 304.5,1224.3 305.0,1223.1 305.5,1224.4 306.0,1223.4 306.5,1224.7 307.0,1223.6 307.5,1224.2 308.0,1224.2 308.5,1222.5 309.0,1224.8 309.5,1224.3 310.0,1223.0 310.5,1224.1 311.0,1223.9 311.5,1222.2 312.0,1224.3 312.5,1224.1 313.0,1223.8 313.5,1223.1 314.0,1223.7 314.5,1224.1 315.0,1224.7 315.5,1224.4 316.0,1224.2 316.5,1225.2 317.0,1224.0 317.5,1224.0 318.0,1222.9 318.5,1224.5 319.0,1224.2 319.5,1224.2 320.0,1224.3 320.5,1223.9 321.0,1224.1 321.5,1223.6 322.0,1223.7 322.5,1223.8 323.0,1224.7 323.5,1223.7 324.0,1223.4 324.5,1223.4 325.0,1223.2 325.5,1224.7 326.0,1223.7 326.5,1223.5 327.0,1223.4 327.5,1223.2 328.0,1223.9 328.5,1224.5 329.0,1223.8 329.5,1223.8 330.0,1224.0 330.5,1224.3 331.0,1223.8 331.5,1224.5 332.0,1223.9 332.5,1225.2 333.0,1224.1 333.5,1224.8 334.0,1225.2 334.5,1224.3 335.0,1224.2 335.5,1224.7 336.0,1224.5 336.5,1223.7 337.0,1224.3 337.5,1225.7 338.0,1224.8 338.5,1224.5 339.0,1223.7 339.5,1224.5 340.0,1223.6 340.5,1223.6 341.0,1224.9 341.5,1223.6 342.0,1224.5 342.5,1224.9 343.0,1224.3 343.5,1224.4 344.0,1225.1 344.5,1223.8 345.0,1224.0 345.5,1223.4 346.0,1224.2 346.5,1225.5 347.0,1225.4 347.5,1224.4 348.0,1224.6 348.5,1224.8 349.0,1224.9 349.5,1224.3 350.0,1224.9 350.5,1225.2 351.0,1224.9 351.5,1225.2 352.0,1225.4 352.5,1224.7 353.0,1224.9 353.5,1225.7 354.0,1224.7 354.5,1224.4 355.0,1223.4 355.5,1224.3 356.0,1222.4 356.5,1222.0 357.0,1222.9 357.5,1222.8 358.0,1222.1 358.5,1221.2 359.0,1222.2 359.5,1222.0 360.0,1222.8 360.5,1223.8 361.0,1222.7 361.5,1222.3 362.0,1222.2 362.5,1222.9 363.0,1222.8 363.5,1222.0 364.0,1222.8 364.5,1221.9 365.0,1223.0 365.5,1222.9 366.0,1223.2 366.5,1222.0 367.0,1222.8 367.5,1222.2 368.0,1221.9 368.5,1222.3 369.0,1221.8 369.5,1221.7 370.0,1223.5 370.5,1223.0 371.0,1223.3 371.5,1224.0 372.0,1222.6 372.5,1223.3 373.0,1224.1 373.5,1224.5 374.0,1224.2 374.5,1225.2 375.0,1224.9 375.5,1224.7 376.0,1224.6 376.5,1226.3 377.0,1226.3 377.5,1225.0 378.0,1227.0 378.5,1226.8 379.0,1227.3 379.5,1226.1 380.0,1226.3 380.5,1225.8 381.0,1228.6 381.5,1226.5 382.0,1227.9 382.5,1226.0 383.0,1226.6 383.5,1225.3 384.0,1226.1 384.5,1226.8 385.0,1225.5 385.5,1227.1 386.0,1226.5 386.5,1226.0 387.0,1225.8 387.5,1225.6 388.0,1225.9 388.5,1225.6 389.0,1225.4 389.5,1226.1 390.0,1225.3 390.5,1225.4 391.0,1225.9 391.5,1226.9 392.0,1225.7 392.5,1226.3 393.0,1226.0 393.5,1226.0 394.0,1227.1 394.5,1226.6 395.0,1227.7 395.5,1226.3 396.0,1226.9 396.5,1226.3 397.0,1225.7 397.5,1226.7 398.0,1226.0 398.5,1226.6 399.0,1226.1 399.5,1225.7 400.0,1226.0 400.5,1225.9 401.0,1227.1 401.5,1225.7 402.0,1226.4 402.5,1225.6 403.0,1227.3 403.5,1225.8 404.0,1225.5 404.5,1226.6 405.0,1227.5 405.5,1225.6 406.0,1226.3 406.5,1226.5 407.0,1226.1 407.5,1227.3 408.0,1226.5 408.5,1226.0 409.0,1227.1 409.5,1226.4 410.0,1226.8 410.5,1225.6 411.0,1225.2 411.5,1225.0 412.0,1227.1 412.5,1225.7 413.0,1225.9 413.5,1225.8 414.0,1226.0 414.5,1226.3 415.0,1227.3 415.5,1225.6 416.0,1225.7 416.5,1226.3 417.0,1226.1 417.5,1227.2 418.0,1227.5 418.5,1226.4 419.0,1226.2 419.5,1226.8 420.0,1228.0 420.5,1225.5 421.0,1227.8 421.5,1226.4 422.0,1227.5 422.5,1226.6 423.0,1227.1 423.5,1226.4 424.0,1226.9 424.5,1228.5 425.0,1227.9 425.5,1226.8 426.0,1226.6 426.5,1226.1 427.0,1227.2 427.5,1227.6 428.0,1227.8 428.5,1227.2 429.0,1226.8 429.5,1227.5 430.0,1227.4 430.5,1228.4 431.0,1229.1 431.5,1227.9 432.0,1227.6 432.5,1227.8 433.0,1227.1 433.5,1227.0 434.0,1227.0 434.5,1226.5 435.0,1227.6 435.5,1227.2 436.0,1227.5 436.5,1227.1 437.0,1226.6 437.5,1226.4 438.0,1226.6 438.5,1226.4 439.0,1226.9 439.5,1226.8 440.0,1226.2 440.5,1226.9 441.0,1225.7 441.5,1226.1 442.0,1226.3 442.5,1225.3 443.0,1226.8 443.5,1227.3 444.0,1227.2 444.5,1227.1 445.0,1227.0 445.5,1226.5 446.0,1226.8 446.5,1226.8 447.0,1227.4 447.5,1226.5 448.0,1227.0 448.5,1226.5 449.0,1225.6 449.5,1224.4 450.0,1223.7 450.5,1221.2 451.0,1220.6 451.5,1219.1 452.0,1218.1 452.5,1217.5 453.0,1217.3 453.5,1218.7 454.0,1220.4 454.5,1221.8 455.0,1223.3 455.5,1223.5 456.0,1225.6 456.5,1227.1 457.0,1227.9 457.5,1227.8 458.0,1227.0 458.5,1228.7 459.0,1228.4 459.5,1226.6 460.0,1228.5 460.5,1227.4 461.0,1227.6 461.5,1228.3 462.0,1229.6 462.5,1227.9 463.0,1228.4 463.5,1229.6 464.0,1229.6 464.5,1228.5 465.0,1228.1 465.5,1227.5 466.0,1227.7 466.5,1228.5 467.0,1228.2 467.5,1228.2 468.0,1228.8 468.5,1227.7 469.0,1227.9 469.5,1227.9 470.0,1227.3 470.5,1227.5 471.0,1227.2 471.5,1226.9 472.0,1227.2 472.5,1226.3 473.0,1226.3 473.5,1227.6 474.0,1227.1 474.5,1227.6 475.0,1226.1 475.5,1227.1 476.0,1227.2 476.5,1227.3 477.0,1226.9 477.5,1228.0 478.0,1229.1 478.5,1228.9 479.0,1227.7 479.5,1227.8 480.0,1228.1 480.5,1225.8 481.0,1227.8 481.5,1228.1 482.0,1228.4 482.5,1229.2 483.0,1228.6 483.5,1228.0 484.0,1228.0 484.5,1228.3 485.0,1227.5 485.5,1228.2 486.0,1229.0 486.5,1229.8 487.0,1228.7 487.5,1229.1 488.0,1228.9 488.5,1229.4 489.0,1228.3 489.5,1229.5 490.0,1227.8 490.5,1228.3 491.0,1228.6 491.5,1229.4 492.0,1229.4 492.5,1227.6 493.0,1228.0 493.5,1228.6 494.0,1228.4 494.5,1227.9 495.0,1229.7 495.5,1229.6 496.0,1229.8 496.5,1229.3 497.0,1229.9 497.5,1229.1 498.0,1229.9 498.5,1228.8 499.0,1228.6 499.5,1229.3 500.0,1228.7 500.5,1229.1 501.0,1228.7 501.5,1227.5 502.0,1228.3 502.5,1227.6 503.0,1228.7 503.5,1227.5 504.0,1227.7 504.5,1228.9 505.0,1229.5 505.5,1229.2 506.0,1227.5 506.5,1227.9 507.0,1228.8 507.5,1227.8 508.0,1227.2 508.5,1227.5 509.0,1227.3 509.5,1226.3 510.0,1225.6 510.5,1225.5 511.0,1226.9 511.5,1225.9 512.0,1226.6 512.5,1226.7 513.0,1226.6 513.5,1225.8 514.0,1226.5 514.5,1225.5 515.0,1226.1 515.5,1226.1 516.0,1227.4 516.5,1226.4 517.0,1225.8 517.5,1225.8 518.0,1225.4 518.5,1225.1 519.0,1223.2 519.5,1222.5 520.0,1221.4 520.5,1221.8 521.0,1220.1 521.5,1218.9 522.0,1219.4 522.5,1221.1 523.0,1221.3 523.5,1222.5 524.0,1224.7 524.5,1225.4 525.0,1226.4 525.5,1226.3 526.0,1228.0 526.5,1227.9 527.0,1227.7 527.5,1228.0 528.0,1226.2 528.5,1227.3 529.0,1226.8 529.5,1227.1 530.0,1226.9 530.5,1226.3 531.0,1225.3 531.5,1226.8 532.0,1226.1 532.5,1226.4 533.0,1226.1 533.5,1226.3 534.0,1224.9 534.5,1227.5 535.0,1226.9 535.5,1227.6 536.0,1227.7 536.5,1226.4 537.0,1225.0 537.5,1225.2 538.0,1225.2 538.5,1225.6 539.0,1225.9 539.5,1224.7 540.0,1226.5 540.5,1225.1 541.0,1226.2 541.5,1225.8 542.0,1225.7 542.5,1226.0 543.0,1226.3 543.5,1226.3 544.0,1225.5 544.5,1226.3 545.0,1227.3 545.5,1227.6 546.0,1227.0 546.5,1226.4 547.0,1225.0 547.5,1226.1 548.0,1225.2 548.5,1224.9 549.0,1224.6 549.5,1225.0 550.0,1224.3 550.5,1224.7 551.0,1224.2 551.5,1224.3 552.0,1226.0 552.5,1224.4 553.0,1224.5 553.5,1224.8 554.0,1224.9 554.5,1224.2 555.0,1224.3 555.5,1224.6 556.0,1224.2 556.5,1223.9 557.0,1224.6 557.5,1223.4 558.0,1223.5 558.5,1223.1 559.0,1224.4 559.5,1222.4 560.0,1223.1 560.5,1223.0 561.0,1224.2 561.5,1224.2 562.0,1224.7 562.5,1223.0 563.0,1224.3 563.5,1223.2 564.0,1222.8 564.5,1223.8 565.0,1222.9 565.5,1222.1 566.0,1223.2 566.5,1222.6 567.0,1222.9 567.5,1223.3 568.0,1223.2 568.5,1223.7 569.0,1222.7 569.5,1222.0 570.0,1222.5 570.5,1222.2 571.0,1221.6 571.5,1222.5 572.0,1221.7 572.5,1220.7 573.0,1222.0 573.5,1221.7 574.0,1221.8 574.5,1221.4 575.0,1221.7 575.5,1221.3 576.0,1222.2 576.5,1221.6 577.0,1221.9 577.5,1221.6 578.0,1220.5 578.5,1221.1 579.0,1221.3 579.5,1221.7 580.0,1220.8 580.5,1223.0 581.0,1221.9 581.5,1221.3 582.0,1221.0 582.5,1222.0 583.0,1222.0 583.5,1221.9 584.0,1222.4 584.5,1222.0 585.0,1222.8 585.5,1222.1 586.0,1222.4 586.5,1222.5 587.0,1223.4 587.5,1221.0 588.0,1221.3 588.5,1220.9 589.0,1221.8 589.5,1220.6 590.0,1220.9 590.5,1220.9 591.0,1220.3 591.5,1220.3 592.0,1220.6 592.5,1219.8 593.0,1219.9 593.5,1220.5 594.0,1220.6 594.5,1220.4 595.0,1219.3 595.5,1219.8 596.0,1220.5 596.5,1220.3 597.0,1219.7 597.5,1218.9 598.0,1219.3 598.5,1218.3 599.0,1217.6 599.5,1217.4 600.0,1218.5 600.5,1217.5 601.0,1217.6 601.5,1216.1 602.0,1216.0 602.5,1214.1 603.0,1212.7 603.5,1212.3 604.0,1210.3 604.5,1207.9 605.0,1206.5 605.5,1204.9 606.0,1203.5 606.5,1201.9 607.0,1201.1 607.5,1201.8 608.0,1203.0 608.5,1204.7 609.0,1207.1 609.5,1208.8 610.0,1210.6 610.5,1211.7 611.0,1213.7 611.5,1215.4 612.0,1215.5 612.5,1216.0 613.0,1216.5 613.5,1217.6 614.0,1216.6 614.5,1217.0 615.0,1217.1 615.5,1217.1 616.0,1216.0 616.5,1216.2 617.0,1215.5 617.5,1215.5 618.0,1215.3 618.5,1214.6 619.0,1215.2 619.5,1215.7 620.0,1214.2 620.5,1214.5 621.0,1214.5 621.5,1213.2 622.0,1213.4 622.5,1212.1 623.0,1212.7 623.5,1212.5 624.0,1211.4 624.5,1209.5 625.0,1209.0 625.5,1207.6 626.0,1206.8 626.5,1206.7 627.0,1205.6 627.5,1206.3 628.0,1206.5 628.5,1207.7 629.0,1207.7 629.5,1208.0 630.0,1209.1 630.5,1210.0 631.0,1210.4 631.5,1211.5 632.0,1211.3 632.5,1211.0 633.0,1212.8 633.5,1212.9 634.0,1212.3 634.5,1211.6 635.0,1211.6 635.5,1210.1 636.0,1209.4 636.5,1209.2 637.0,1209.8 637.5,1208.9 638.0,1211.0 638.5,1210.9 639.0,1211.1 639.5,1213.0 640.0,1212.5 640.5,1212.1 641.0,1212.5 641.5,1213.4 642.0,1213.8 642.5,1213.0 643.0,1213.5 643.5,1213.5 644.0,1212.6 644.5,1213.3 645.0,1213.2 645.5,1212.6 646.0,1211.9 646.5,1211.4 647.0,1209.5 647.5,1205.8 648.0,1200.1 648.5,1192.5 649.0,1181.0 649.5,1166.5 650.0,1148.5 650.5,1127.7 651.0,1106.2 651.5,1085.5 652.0,1068.8 652.5,1058.2 653.0,1056.0 653.5,1062.3 654.0,1076.0 654.5,1095.3 655.0,1117.3 655.5,1139.3 656.0,1159.7 656.5,1176.9 657.0,1190.9 657.5,1201.4 658.0,1208.6 658.5,1213.8 659.0,1215.6 659.5,1218.8 660.0,1219.2 660.5,1220.9 661.0,1220.7 661.5,1220.7 662.0,1221.4 662.5,1221.4 663.0,1221.8 663.5,1221.8 664.0,1222.7 664.5,1223.4 665.0,1223.3 665.5,1222.8 666.0,1223.3 666.5,1222.4 667.0,1221.8 667.5,1221.4 668.0,1220.2 668.5,1218.2 669.0,1216.8 669.5,1215.7 670.0,1215.4 670.5,1215.1 671.0,1216.8 671.5,1217.5 672.0,1219.3 672.5,1220.1 673.0,1221.9 673.5,1223.0 674.0,1223.3 674.5,1225.0 675.0,1224.5 675.5,1225.4 676.0,1225.1 676.5,1224.2 677.0,1224.4 677.5,1224.8 678.0,1224.1 678.5,1223.9 679.0,1223.8 679.5,1222.8 680.0,1224.0 680.5,1222.6 681.0,1223.8 681.5,1222.9 682.0,1222.8 682.5,1223.0 683.0,1222.7 683.5,1221.2 684.0,1221.1 684.5,1221.0 685.0,1219.7 685.5,1220.1 686.0,1221.4 686.5,1219.6 687.0,1220.8 687.5,1219.4 688.0,1219.7 688.5,1218.6 689.0,1218.7 689.5,1218.7 690.0,1219.3 690.5,1218.6 691.0,1218.4 691.5,1217.2 692.0,1217.7 692.5,1217.2 693.0,1217.2 693.5,1216.0 694.0,1216.5 694.5,1214.7 695.0,1214.8 695.5,1214.8 696.0,1213.2 696.5,1211.0 697.0,1209.0 697.5,1200.9 698.0,1191.1 698.5,1180.8 699.0,1168.0 699.5,1150.7 700.0,1124.3 700.5,1106.1 701.0,1084.3 701.5,1058.7 702.0,1033.3 702.5,991.5 702.9,949.2 703.0,962.0 703.5,1025.9 704.0,1064.3 704.5,1091.8 705.0,1119.2 705.5,1139.3 706.0,1163.2 706.5,1190.7 707.0,1211.9 707.5,1217.0 708.0,1217.7 708.5,1219.0 709.0,1219.3 709.5,1218.6 710.0,1218.9 710.5,1219.6 711.0,1218.7 711.5,1219.9 712.0,1218.1 712.5,1218.8 713.0,1219.3 713.5,1218.8 714.0,1218.9 714.5,1218.5 715.0,1218.2 715.5,1218.6 716.0,1217.3 716.5,1218.3 717.0,1218.6 717.5,1219.9 718.0,1220.3 718.5,1220.5 719.0,1220.9 719.5,1221.8 720.0,1221.5 720.5,1220.9 721.0,1222.4 721.5,1222.8 722.0,1220.8 722.5,1222.0 723.0,1223.1 723.5,1222.1 724.0,1221.6 724.5,1220.7 725.0,1220.4 725.5,1220.5 726.0,1220.0 726.5,1220.9 727.0,1219.6 727.5,1219.2 728.0,1218.4 728.5,1218.8 729.0,1218.1 729.5,1218.2 730.0,1218.6 730.5,1218.5 731.0,1218.3 731.5,1217.9 732.0,1217.2 732.5,1216.9 733.0,1216.8 733.5,1217.2 734.0,1216.4 734.5,1216.9 735.0,1216.1 735.5,1215.5 736.0,1215.5 736.5,1215.0 737.0,1214.5 737.5,1213.2 738.0,1213.3 738.5,1211.6 739.0,1210.2 739.5,1209.2 740.0,1206.9 740.5,1205.8 741.0,1204.7 741.5,1203.2 742.0,1201.2 742.5,1200.1 743.0,1197.6 743.5,1193.6 744.0,1189.9 744.5,1185.2 745.0,1180.4 745.5,1170.8 746.0,1160.3 746.5,1123.1 747.0,1079.2 747.5,1011.1 748.0,960.2 748.5,949.4 749.0,938.6 749.5,867.4 750.0,796.2 750.5,725.1 751.0,811.9 751.5,898.9 752.0,944.6 752.5,962.7 753.0,985.2 753.5,1017.7 754.0,1050.2 754.5,1110.5 755.0,1174.0 755.5,1179.0 756.0,1183.6 756.5,1188.1 757.0,1191.5 757.5,1194.7 758.0,1198.1 758.5,1201.2 759.0,1204.1 759.5,1206.5 760.0,1209.2 760.5,1213.1 761.0,1211.9 761.5,1212.8 762.0,1213.4 762.5,1213.1 763.0,1213.0 763.5,1212.9 764.0,1212.0 764.5,1210.4 765.0,1207.8 765.5,1206.3 766.0,1204.4 766.5,1202.9 767.0,1202.4 767.5,1202.6 768.0,1203.5 768.5,1204.9 769.0,1207.1 769.5,1209.3 770.0,1211.6 770.5,1213.8 771.0,1214.7 771.5,1215.9 772.0,1217.4 772.5,1217.1 773.0,1218.0 773.5,1217.9 774.0,1218.4 774.5,1218.0 775.0,1218.8 775.5,1219.6 776.0,1220.1 776.5,1220.5 777.0,1220.4 777.5,1220.6 778.0,1220.3 778.5,1221.2 779.0,1221.5 779.5,1222.1 780.0,1223.1 780.5,1222.0 781.0,1221.4 781.5,1221.7 782.0,1221.4 782.5,1221.3 783.0,1222.7 783.5,1222.4 784.0,1221.8 784.5,1223.1 785.0,1223.4 785.5,1222.9 786.0,1222.6 786.5,1222.9 787.0,1223.7 787.5,1224.5 788.0,1225.4 788.5,1225.7 789.0,1225.8 789.5,1226.0 790.0,1225.7 790.5,1224.6 791.0,1225.6 791.5,1225.7 792.0,1225.6 792.5,1227.0 793.0,1226.4 793.5,1225.9 794.0,1227.1 794.5,1226.7 795.0,1226.9 795.5,1227.4 796.0,1227.5 796.5,1226.9 797.0,1225.3 797.5,1226.8 798.0,1227.4 798.5,1226.9 799.0,1227.5 799.5,1228.5 800.0,1227.7 800.5,1227.5 801.0,1229.4 801.5,1228.3 802.0,1228.2 802.5,1229.6 803.0,1230.0 803.5,1229.3 804.0,1230.1 804.5,1229.3 805.0,1229.1 805.5,1229.8 806.0,1230.0 806.5,1229.4 807.0,1229.9 807.5,1229.6 808.0,1231.2 808.5,1229.0 809.0,1230.5 809.5,1229.6 810.0,1229.4 810.5,1230.0 811.0,1230.5 811.5,1230.6 812.0,1230.1 812.5,1229.2 813.0,1228.9 813.5,1229.4 814.0,1229.3 814.5,1230.0 815.0,1228.8 815.5,1229.4 816.0,1229.7 816.5,1228.7 817.0,1227.4 817.5,1227.2 818.0,1227.2 818.5,1229.2 819.0,1227.6 819.5,1229.0 820.0,1228.5 820.5,1229.0 821.0,1228.9 821.5,1228.3 822.0,1228.3 822.5,1228.7 823.0,1228.8 823.5,1228.4 824.0,1228.8 824.5,1229.6 825.0,1228.3 825.5,1228.9 826.0,1228.2 826.5,1228.6 827.0,1228.6 827.5,1227.6 828.0,1227.9 828.5,1226.2 829.0,1226.8 829.5,1225.4 830.0,1224.9 830.5,1223.5 831.0,1221.0 831.5,1220.9 832.0,1220.4 832.5,1220.5 833.0,1220.5 833.5,1221.4 834.0,1221.8 834.5,1224.0 835.0,1225.3 835.5,1225.3 836.0,1226.0 836.5,1225.9 837.0,1227.7 837.5,1229.0 838.0,1228.5 838.5,1229.0 839.0,1228.7 839.5,1227.9 840.0,1228.8 840.5,1227.6 841.0,1228.2 841.5,1228.4 842.0,1228.8 842.5,1228.4 843.0,1228.4 843.5,1227.8 844.0,1227.1 844.5,1228.0 845.0,1227.2 845.5,1226.6 846.0,1226.2 846.5,1225.9 847.0,1225.2 847.5,1225.2 848.0,1224.7 848.5,1225.2 849.0,1225.3 849.5,1225.9 850.0,1224.7 850.5,1225.2 851.0,1226.3 851.5,1226.4 852.0,1226.9 852.5,1228.4 853.0,1227.9 853.5,1227.9 854.0,1228.2 854.5,1229.5 855.0,1229.7 855.5,1229.3 856.0,1229.9 856.5,1231.2 857.0,1231.4 857.5,1230.8 858.0,1231.6 858.5,1231.2 859.0,1229.4 859.5,1230.1 860.0,1230.5 860.5,1229.8 861.0,1229.0 861.5,1230.1 862.0,1230.4 862.5,1230.7 863.0,1228.9 863.5,1231.6 864.0,1229.3 864.5,1231.3 865.0,1231.6 865.5,1231.3 866.0,1230.7 866.5,1229.9 867.0,1230.8 867.5,1230.0 868.0,1229.1 868.5,1231.8 869.0,1230.2 869.5,1230.5 870.0,1229.2 870.5,1229.9 871.0,1230.2 871.5,1229.9 872.0,1228.7 872.5,1228.0 873.0,1228.0 873.5,1226.5 874.0,1226.1 874.5,1226.4 875.0,1225.7 875.5,1225.6 876.0,1225.0 876.5,1225.4 877.0,1224.6 877.5,1223.8 878.0,1223.8 878.5,1222.7 879.0,1222.6 879.5,1223.1 880.0,1222.5 880.5,1223.1 881.0,1223.0 881.5,1223.7 882.0,1224.6 882.5,1224.1 883.0,1224.5 883.5,1224.2 884.0,1224.7 884.5,1224.9 885.0,1225.9 885.5,1226.3 886.0,1225.7 886.5,1225.3 887.0,1226.2 887.5,1226.3 888.0,1227.2 888.5,1227.5 889.0,1228.3 889.5,1229.1 890.0,1229.0 890.5,1229.7 891.0,1229.9 891.5,1230.9 892.0,1231.0 892.5,1231.8 893.0,1231.4 893.5,1232.3 894.0,1232.6 894.5,1231.6 895.0,1231.9 895.5,1231.9 896.0,1232.7 896.5,1233.2 897.0,1232.6 897.5,1232.2 898.0,1233.0 898.5,1231.6 899.0,1233.0 899.5,1231.4 900.0,1230.3 900.5,1233.1 901.0,1232.4 901.5,1230.9 902.0,1231.4 902.5,1231.2 903.0,1231.1 903.5,1230.1 904.0,1230.5 904.5,1231.1 905.0,1231.5 905.5,1232.1 906.0,1231.7 906.5,1232.9 907.0,1231.1 907.5,1231.3 908.0,1230.7 908.5,1231.1 909.0,1232.8 909.5,1231.6 910.0,1232.4 910.5,1232.3 911.0,1231.7 911.5,1232.5 912.0,1232.1 912.5,1231.8 913.0,1232.9 913.5,1233.1 914.0,1232.1 914.5,1232.1 915.0,1232.7 915.5,1232.7 916.0,1233.4 916.5,1233.8 917.0,1232.8 917.5,1231.9 918.0,1231.8 918.5,1231.7 919.0,1231.2 919.5,1230.8 920.0,1230.7 920.5,1229.8 921.0,1229.8 921.5,1228.4 922.0,1227.7 922.5,1226.6 923.0,1227.0 923.5,1226.2 924.0,1226.3 924.5,1225.9 925.0,1226.4 925.5,1226.3 926.0,1227.2 926.5,1228.9 927.0,1227.9 927.5,1229.7 928.0,1230.2 928.5,1230.2 929.0,1230.9 929.5,1231.4 930.0,1230.8 930.5,1231.7 931.0,1231.3 931.5,1231.3 932.0,1231.5 932.5,1231.7 933.0,1231.7 933.5,1231.9 934.0,1231.2 934.5,1233.0 935.0,1232.5 935.5,1232.4 936.0,1231.5 936.5,1231.4 937.0,1231.7 937.5,1231.6 938.0,1230.6 938.5,1231.9 939.0,1233.0 939.5,1230.5 940.0,1232.0 940.5,1231.5 941.0,1231.3 941.5,1231.9 942.0,1231.1 942.5,1231.9 943.0,1232.7 943.5,1231.9 944.0,1231.8 944.5,1232.1 945.0,1232.2 945.5,1233.3 946.0,1232.1 946.5,1233.5 947.0,1232.2 947.5,1233.7 948.0,1233.2 948.5,1232.1 949.0,1233.4 949.5,1233.0 950.0,1233.5 950.5,1234.5 951.0,1233.2 951.5,1233.3 952.0,1234.5 952.5,1233.7 953.0,1234.7 953.5,1234.0 954.0,1233.4 954.5,1233.8 955.0,1234.8 955.5,1234.3 956.0,1233.6 956.5,1233.4 957.0,1232.9 957.5,1232.7 958.0,1233.9 958.5,1232.5 959.0,1231.6 959.5,1231.7 960.0,1231.8 960.5,1231.3 961.0,1230.6 961.5,1230.0 962.0,1230.2 962.5,1229.5 963.0,1229.5 963.5,1230.1 964.0,1229.3 964.5,1229.8 965.0,1230.3 965.5,1230.1 966.0,1230.1 966.5,1231.5 967.0,1231.2 967.5,1231.1 968.0,1231.7 968.5,1232.0 969.0,1231.5 969.5,1232.5 970.0,1232.9 970.5,1232.2 971.0,1233.2 971.5,1233.3 972.0,1233.2 972.5,1232.3 973.0,1232.8 973.5,1233.2 974.0,1233.3 974.5,1232.4 975.0,1233.4 975.5,1232.0 976.0,1232.5 976.5,1233.1 977.0,1232.0 977.5,1232.1 978.0,1232.8 978.5,1232.3 979.0,1232.5 979.5,1232.5 980.0,1233.0 980.5,1231.2 981.0,1232.0 981.5,1232.1 982.0,1231.8 982.5,1232.4 983.0,1232.5 983.5,1233.1 984.0,1232.7 984.5,1232.8 985.0,1232.7 985.5,1232.3 986.0,1232.3 986.5,1233.3 987.0,1232.4 987.5,1231.8 988.0,1231.8 988.5,1231.0 989.0,1231.3 989.5,1231.0 990.0,1229.9 990.5,1229.6 991.0,1229.6 991.5,1228.0 992.0,1227.0 992.5,1224.6 993.0,1221.2 993.5,1214.8 994.0,1203.1 994.5,1183.2 995.0,1157.1 995.5,1130.9 996.0,1117.6 996.5,1125.8 997.0,1145.1 997.5,1162.0 998.0,1170.5 998.5,1174.4 999.0,1180.6 999.5,1191.9 1000.0,1204.2 1000.5,1214.8 1001.0,1221.9 1001.5,1225.8 1002.0,1227.3 1002.5,1229.5 1003.0,1229.9 1003.5,1230.5 1004.0,1231.0 1004.5,1231.3 1005.0,1231.8 1005.5,1231.5 1006.0,1232.0 1006.5,1233.0 1007.0,1233.4 1007.5,1233.5 1008.0,1233.7 1008.5,1234.1 1009.0,1234.8 1009.5,1235.4 1010.0,1234.6 1010.5,1236.1 1011.0,1235.7 1011.5,1235.3 1012.0,1236.0 1012.5,1234.8 1013.0,1234.5 1013.5,1234.5 1014.0,1234.9 1014.5,1234.4 1015.0,1234.4 1015.5,1234.9 1016.0,1234.0 1016.5,1235.2 1017.0,1234.5 1017.5,1235.0 1018.0,1235.3 1018.5,1235.1 1019.0,1234.9 1019.5,1235.4 1020.0,1235.8 1020.5,1236.2 1021.0,1235.8 1021.5,1234.9 1022.0,1234.9 1022.5,1234.6 1023.0,1235.4 1023.5,1234.2 1024.0,1235.6 1024.5,1234.6 1025.0,1234.5 1025.5,1235.1 1026.0,1235.5 1026.5,1235.1 1027.0,1235.7 1027.5,1234.9 1028.0,1235.3 1028.5,1235.6 1029.0,1234.7 1029.5,1235.4 1030.0,1234.9 1030.5,1235.0 1031.0,1234.5 1031.5,1234.5 1032.0,1235.0 1032.5,1234.1 1033.0,1235.2 1033.5,1235.5 1034.0,1235.4 1034.5,1233.9 1035.0,1234.7 1035.5,1234.9 1036.0,1234.2 1036.5,1234.5 1037.0,1233.2 1037.5,1234.5 1038.0,1233.8 1038.5,1234.4 1039.0,1232.9 1039.5,1233.6 1040.0,1233.2 1040.5,1233.5 1041.0,1232.8 1041.5,1232.9 1042.0,1233.7 1042.5,1232.3 1043.0,1232.2 1043.5,1232.2 1044.0,1231.6 1044.5,1232.2 1045.0,1232.4 1045.5,1231.4 1046.0,1230.8 1046.5,1232.1 1047.0,1231.6 1047.5,1231.4 1048.0,1231.5 1048.5,1230.7 1049.0,1231.1 1049.5,1230.9 1050.0,1231.2 1050.5,1232.3 1051.0,1231.7 1051.5,1233.2 1052.0,1232.1 1052.5,1232.0 1053.0,1233.1 1053.5,1233.6 1054.0,1233.3 1054.5,1233.1 1055.0,1234.0 1055.5,1234.3 1056.0,1233.2 1056.5,1233.4 1057.0,1234.2 1057.5,1233.8 1058.0,1233.4 1058.5,1233.7 1059.0,1233.5 1059.5,1233.9 1060.0,1233.8 1060.5,1233.8 1061.0,1233.8 1061.5,1233.0 1062.0,1234.0 1062.5,1234.3 1063.0,1234.1 1063.5,1234.6 1064.0,1233.9 1064.5,1233.7 1065.0,1234.7 1065.5,1233.8 1066.0,1233.4 1066.5,1234.9 1067.0,1233.9 1067.5,1234.1 1068.0,1233.7 1068.5,1233.9 1069.0,1233.9 1069.5,1234.0 1070.0,1234.7 1070.5,1233.2 1071.0,1234.5 1071.5,1233.8 1072.0,1233.8 1072.5,1234.7 1073.0,1234.4 1073.5,1233.7 1074.0,1235.3 1074.5,1233.8 1075.0,1234.4 1075.5,1234.3 1076.0,1234.5 1076.5,1233.8 1077.0,1234.3 1077.5,1233.4 1078.0,1234.5 1078.5,1233.8 1079.0,1234.1 1079.5,1234.8 1080.0,1234.1 1080.5,1233.9 1081.0,1234.8 1081.5,1234.0 1082.0,1233.3 1082.5,1233.9 1083.0,1233.0 1083.5,1233.6 1084.0,1232.9 1084.5,1231.7 1085.0,1231.1 1085.5,1231.1 1086.0,1230.6 1086.5,1229.7 1087.0,1229.7 1087.5,1228.3 1088.0,1228.5 1088.5,1228.2 1089.0,1228.2 1089.5,1228.5 1090.0,1228.1 1090.5,1229.0 1091.0,1229.3 1091.5,1229.4 1092.0,1229.5 1092.5,1230.3 1093.0,1231.6 1093.5,1231.5 1094.0,1232.3 1094.5,1233.3 1095.0,1233.5 1095.5,1234.0 1096.0,1233.6 1096.5,1233.6 1097.0,1234.3 1097.5,1234.0 1098.0,1234.4 1098.5,1234.0 1099.0,1234.4 1099.5,1234.3 1100.0,1234.5 1100.5,1234.5 1101.0,1234.6 1101.5,1234.5 1102.0,1234.7 1102.5,1235.1 1103.0,1234.8 1103.5,1236.2 1104.0,1235.5 1104.5,1235.8 1105.0,1235.3 1105.5,1235.4 1106.0,1236.4 1106.5,1235.2 1107.0,1234.9 1107.5,1235.3 1108.0,1235.5 1108.5,1236.3 1109.0,1235.4 1109.5,1235.6 1110.0,1234.7 1110.5,1235.2 1111.0,1235.6 1111.5,1236.2 1112.0,1235.0 1112.5,1235.5 1113.0,1235.2 1113.5,1234.5 1114.0,1235.1 1114.5,1235.0 1115.0,1233.7 1115.5,1235.1 1116.0,1235.1 1116.5,1234.8 1117.0,1234.3 1117.5,1235.7 1118.0,1235.2 1118.5,1235.6 1119.0,1235.5 1119.5,1234.7 1120.0,1235.1 1120.5,1234.7 1121.0,1235.1 1121.5,1235.0 1122.0,1235.0 1122.5,1235.2 1123.0,1234.4 1123.5,1233.6 1124.0,1233.1 1124.5,1232.8 1125.0,1232.1 1125.5,1231.9 1126.0,1231.6 1126.5,1231.0 1127.0,1230.5 1127.5,1229.9 1128.0,1230.4 1128.5,1229.9 1129.0,1229.6 1129.5,1229.7 1130.0,1230.8 1130.5,1230.5 1131.0,1230.9 1131.5,1231.4 1132.0,1231.7 1132.5,1232.6 1133.0,1232.8 1133.5,1234.3 1134.0,1233.7 1134.5,1234.6 1135.0,1234.2 1135.5,1235.7 1136.0,1234.8 1136.5,1235.3 1137.0,1235.5 1137.5,1236.0 1138.0,1235.3 1138.5,1235.8 1139.0,1235.2 1139.5,1235.7 1140.0,1235.4 1140.5,1235.5 1141.0,1235.4 1141.5,1235.6 1142.0,1235.5 1142.5,1236.1 1143.0,1236.9 1143.5,1235.2 1144.0,1235.9 1144.5,1235.7 1145.0,1235.8 1145.5,1235.2 1146.0,1235.5 1146.5,1235.2 1147.0,1235.8 1147.5,1235.2 1148.0,1235.2 1148.5,1235.5 1149.0,1235.1 1149.5,1234.4 1150.0,1235.4 1150.5,1235.1 1151.0,1235.1 1151.5,1235.4 1152.0,1235.7 1152.5,1234.6 1153.0,1234.9 1153.5,1236.1 1154.0,1236.1 1154.5,1234.9 1155.0,1234.6 1155.5,1234.9 1156.0,1234.8 1156.5,1234.5 1157.0,1235.0 1157.5,1234.6 1158.0,1234.8 1158.5,1235.6 1159.0,1234.8 1159.5,1235.0 1160.0,1235.1 1160.5,1235.5 1161.0,1235.1 1161.5,1235.4 1162.0,1235.0 1162.5,1236.2 1163.0,1235.7 1163.5,1234.7 1164.0,1235.2 1164.5,1235.3 1165.0,1235.4 1165.5,1235.9 1166.0,1235.7 1166.5,1234.7 1167.0,1234.9 1167.5,1234.3 1168.0,1235.0 1168.5,1234.7 1169.0,1236.3 1169.5,1235.4 1170.0,1234.3 1170.5,1235.2 1171.0,1235.5 1171.5,1235.2 1172.0,1235.6 1172.5,1235.8 1173.0,1236.3 1173.5,1236.2 1174.0,1235.9 1174.5,1236.7 1175.0,1235.6 1175.5,1235.6 1176.0,1235.5 1176.5,1235.5 1177.0,1235.9 1177.5,1234.9 1178.0,1235.4 1178.5,1236.1 1179.0,1235.3 1179.5,1235.4 1180.0,1235.0 1180.5,1235.8 1181.0,1236.1 1181.5,1236.0 1182.0,1235.2 1182.5,1235.8 1183.0,1236.4 1183.5,1236.6 1184.0,1236.0 1184.5,1236.2 1185.0,1235.7 1185.5,1236.2 1186.0,1236.2 1186.5,1236.4 1187.0,1235.6 1187.5,1236.4 1188.0,1236.3 1188.5,1235.3 1189.0,1235.6 1189.5,1236.3 1190.0,1235.7 1190.5,1235.0 1191.0,1236.3 1191.5,1235.6 1192.0,1235.5 1192.5,1236.7 1193.0,1235.7 1193.5,1235.4 1194.0,1235.9 1194.5,1235.6 1195.0,1235.6 1195.5,1236.0 1196.0,1235.6 1196.5,1235.4 1197.0,1236.1 1197.5,1235.7 1198.0,1235.5 1198.5,1235.1 1199.0,1234.9 1199.5,1234.9 1200.0,1233.9 1200.5,1234.0 1201.0,1232.6 1201.5,1232.0 1202.0,1230.4 1202.5,1228.7 1203.0,1225.3 1203.5,1219.0 1204.0,1208.0 1204.5,1192.5 1205.0,1172.6 1205.5,1151.2 1206.0,1133.9 1206.5,1127.6 1207.0,1133.9 1207.5,1147.3 1208.0,1160.2 1208.5,1168.2 1209.0,1171.2 1209.5,1172.3 1210.0,1176.6 1210.5,1185.0 1211.0,1196.7 1211.5,1207.9 1212.0,1217.0 1212.5,1223.6 1213.0,1228.6 1213.5,1231.3 1214.0,1232.1 1214.5,1233.4 1215.0,1234.2 1215.5,1234.6 1216.0,1235.4 1216.5,1234.7 1217.0,1235.3 1217.5,1234.8 1218.0,1235.9 1218.5,1235.0 1219.0,1234.3 1219.5,1235.1 1220.0,1235.4 1220.5,1235.9 1221.0,1235.3 1221.5,1235.4 1222.0,1235.7 1222.5,1236.2 1223.0,1235.8 1223.5,1236.2 1224.0,1236.1 1224.5,1235.9 1225.0,1236.2 1225.5,1236.4 1226.0,1235.8 1226.5,1236.6 1227.0,1235.9 1227.5,1237.0 1228.0,1237.0 1228.5,1236.5 1229.0,1236.1 1229.5,1236.3 1230.0,1236.5 1230.5,1236.6 1231.0,1236.3 1231.5,1236.3 1232.0,1235.7 1232.5,1236.2 1233.0,1235.2 1233.5,1235.9 1234.0,1235.3 1234.5,1234.9 1235.0,1235.3 1235.5,1234.9 1236.0,1233.2 1236.5,1233.9 1237.0,1233.0 1237.5,1233.7 1238.0,1233.8 1238.5,1232.5 1239.0,1232.5 1239.5,1232.3 1240.0,1232.7 1240.5,1233.0 1241.0,1233.6 1241.5,1233.3 1242.0,1234.7 1242.5,1234.3 1243.0,1235.2 1243.5,1235.9 1244.0,1236.1 1244.5,1235.7 1245.0,1236.0 1245.5,1236.4 1246.0,1236.7 1246.5,1237.3 1247.0,1236.3 1247.5,1237.3 1248.0,1237.4 1248.5,1237.3 1249.0,1237.1 1249.5,1237.5 1250.0,1237.0 1250.5,1237.0 1251.0,1236.6 1251.5,1237.0 1252.0,1235.4 1252.5,1236.6 1253.0,1236.0 1253.5,1235.9 1254.0,1235.8 1254.5,1235.5 1255.0,1236.0 1255.5,1235.8 1256.0,1236.1 1256.5,1235.5 1257.0,1236.6 1257.5,1236.1 1258.0,1236.1 1258.5,1236.0 1259.0,1235.9 1259.5,1235.6 1260.0,1235.6 1260.5,1235.7 1261.0,1235.5 1261.5,1235.2 1262.0,1235.9 1262.5,1235.6 1263.0,1236.3 1263.5,1236.8 1264.0,1236.5 1264.5,1236.0 1265.0,1235.6 1265.5,1235.6 1266.0,1235.5 1266.5,1236.6 1267.0,1236.2 1267.5,1236.5 1268.0,1236.1 1268.5,1236.3 1269.0,1236.7 1269.5,1236.1 1270.0,1236.0 1270.5,1235.9 1271.0,1236.4 1271.5,1235.5 1272.0,1235.5 1272.5,1235.2 1273.0,1235.2 1273.5,1236.0 1274.0,1236.6 1274.5,1235.2 1275.0,1235.8 1275.5,1235.3 1276.0,1234.8 1276.5,1234.9 1277.0,1234.8 1277.5,1234.7 1278.0,1235.8 1278.5,1234.4 1279.0,1235.1 1279.5,1235.1 1280.0,1234.9 1280.5,1235.0 1281.0,1235.7 1281.5,1235.5 1282.0,1235.6 1282.5,1236.0 1283.0,1235.1 1283.5,1236.4 1284.0,1236.7 1284.5,1236.0 1285.0,1236.2 1285.5,1235.0 1286.0,1235.3 1286.5,1235.0 1287.0,1235.0 1287.5,1235.4 1288.0,1234.7 1288.5,1234.9 1289.0,1234.1 1289.5,1234.5 1290.0,1234.6 1290.5,1234.4 1291.0,1234.3 1291.5,1235.3 1292.0,1234.3 1292.5,1234.4 1293.0,1234.5 1293.5,1235.2 1294.0,1235.6 1294.5,1235.0 1295.0,1234.7 1295.5,1235.0 1296.0,1235.5 1296.5,1234.6 1297.0,1235.4 1297.5,1235.2 1298.0,1234.7 1298.5,1234.8 1299.0,1234.8 1299.5,1235.1 1300.0,1233.9 1300.5,1234.5 1301.0,1234.0 1301.5,1233.5 1302.0,1233.7 1302.5,1233.6 1303.0,1233.2 1303.5,1233.0 1304.0,1233.3 1304.5,1234.3 1305.0,1234.5 1305.5,1234.0 1306.0,1234.4 1306.5,1233.9 1307.0,1234.0 1307.5,1234.2 1308.0,1233.8 1308.5,1233.9 1309.0,1234.3 1309.5,1234.0 1310.0,1233.7 1310.5,1233.9 1311.0,1233.6 1311.5,1233.9 1312.0,1233.5 1312.5,1233.3 1313.0,1233.5 1313.5,1233.3 1314.0,1233.1 1314.5,1233.0 1315.0,1233.2 1315.5,1233.0 1316.0,1233.4 1316.5,1232.3 1317.0,1232.7 1317.5,1232.9 1318.0,1233.0 1318.5,1232.9 1319.0,1232.9 1319.5,1233.5 1320.0,1233.5 1320.5,1233.2 1321.0,1234.1 1321.5,1234.1 1322.0,1233.3 1322.5,1233.7 1323.0,1232.9 1323.5,1233.4 1324.0,1232.8 1324.5,1232.2 1325.0,1231.8 1325.5,1231.2 1326.0,1230.7 1326.5,1229.8 1327.0,1228.7 1327.5,1226.7 1328.0,1222.9 1328.5,1217.7 1329.0,1206.1 1329.5,1187.1 1330.0,1160.4 1330.5,1132.7 1331.0,1119.6 1331.5,1132.2 1332.0,1159.3 1332.5,1184.8 1333.0,1202.0 1333.5,1210.4 1334.0,1212.7 1334.5,1212.0 1335.0,1213.2 1335.5,1217.0 1336.0,1222.1 1336.5,1226.3 1337.0,1229.5 1337.5,1231.7 1338.0,1232.6 1338.5,1233.1 1339.0,1233.6 1339.5,1234.5 1340.0,1234.1 1340.5,1234.2 1341.0,1235.1 1341.5,1235.3 1342.0,1235.2 1342.5,1235.1 1343.0,1235.9 1343.5,1235.2 1344.0,1235.4 1344.5,1235.2 1345.0,1234.9 1345.5,1235.0 1346.0,1235.7 1346.5,1235.6 1347.0,1235.5 1347.5,1235.3 1348.0,1235.4 1348.5,1236.0 1349.0,1235.8 1349.5,1236.6 1350.0,1236.8 1350.5,1237.6 1351.0,1237.0 1351.5,1236.6 1352.0,1236.6 1352.5,1235.9 1353.0,1236.8 1353.5,1236.7 1354.0,1237.0 1354.5,1236.6 1355.0,1236.4 1355.5,1236.0 1356.0,1236.1 1356.5,1236.0 1357.0,1234.9 1357.5,1234.8 1358.0,1234.2 1358.5,1234.8 1359.0,1234.2 1359.5,1233.8 1360.0,1232.9 1360.5,1233.0 1361.0,1232.5 1361.5,1232.5 1362.0,1232.2 1362.5,1232.2 1363.0,1231.7 1363.5,1231.9 1364.0,1231.7 1364.5,1231.6 1365.0,1231.9 1365.5,1232.0 1366.0,1232.7 1366.5,1232.7 1367.0,1233.1 1367.5,1233.3 1368.0,1233.1 1368.5,1234.2 1369.0,1234.0 1369.5,1235.0 1370.0,1234.9 1370.5,1234.5 1371.0,1235.0 1371.5,1235.6 1372.0,1235.5 1372.5,1235.3 1373.0,1236.1 1373.5,1235.8 1374.0,1235.9 1374.5,1235.5 1375.0,1235.8 1375.5,1235.5 1376.0,1236.1 1376.5,1236.2 1377.0,1236.1 1377.5,1235.7 1378.0,1235.4 1378.5,1235.9 1379.0,1236.0 1379.5,1235.9 1380.0,1236.0 1380.5,1236.6 1381.0,1237.1 1381.5,1236.1 1382.0,1236.1 1382.5,1236.3 1383.0,1235.1 1383.5,1236.1 1384.0,1235.9 1384.5,1236.8 1385.0,1236.3 1385.5,1236.1 1386.0,1236.2 1386.5,1236.3 1387.0,1236.0 1387.5,1236.1 1388.0,1235.8 1388.5,1236.1 1389.0,1236.4 1389.5,1237.0 1390.0,1236.6 1390.5,1236.4 1391.0,1236.7 1391.5,1236.6 1392.0,1236.9 1392.5,1236.8 1393.0,1236.3 1393.5,1236.7 1394.0,1236.5 1394.5,1236.7 1395.0,1236.7 1395.5,1236.4 1396.0,1235.9 1396.5,1236.3 1397.0,1235.9 1397.5,1236.6 1398.0,1236.6 1398.5,1236.0 1399.0,1237.1 1399.5,1237.2 1400.0,1237.1 1400.5,1237.4 1401.0,1237.4 1401.5,1236.3 1402.0,1237.2 1402.5,1237.2 1403.0,1237.1 1403.5,1237.4 1404.0,1236.8 1404.5,1236.8 1405.0,1236.7 1405.5,1236.5 1406.0,1236.8 1406.5,1236.5 1407.0,1236.7 1407.5,1237.1 1408.0,1236.8 1408.5,1237.0 1409.0,1236.2 1409.5,1236.3 1410.0,1236.5 1410.5,1236.5 1411.0,1236.1 1411.5,1236.7 1412.0,1236.2 1412.5,1236.1 1413.0,1236.0 1413.5,1236.4 1414.0,1235.9 1414.5,1236.2 1415.0,1235.9 1415.5,1235.9 1416.0,1235.7 1416.5,1235.9 1417.0,1236.0 1417.5,1235.2 1418.0,1234.3 1418.5,1233.5 1419.0,1232.1 1419.5,1230.8 1420.0,1229.1 1420.5,1227.1 1421.0,1226.3 1421.5,1225.0 1422.0,1224.3 1422.5,1224.8 1423.0,1225.6 1423.5,1227.9 1424.0,1229.1 1424.5,1230.1 1425.0,1232.0 1425.5,1233.0 1426.0,1234.5 1426.5,1234.2 1427.0,1234.4 1427.5,1235.5 1428.0,1235.5 1428.5,1235.7 1429.0,1235.2 1429.5,1236.1 1430.0,1236.6 1430.5,1235.4 1431.0,1236.6 1431.5,1235.9 1432.0,1236.8 1432.5,1236.2 1433.0,1235.8 1433.5,1236.0 1434.0,1235.8 1434.5,1235.5 1435.0,1235.8 1435.5,1235.2 1436.0,1235.0 1436.5,1236.1 1437.0,1235.1 1437.5,1235.1 1438.0,1235.4 1438.5,1234.7 1439.0,1234.8 1439.5,1235.0 1440.0,1234.8 1440.5,1234.5 1441.0,1234.2 1441.5,1232.5 1442.0,1230.9 1442.5,1228.3 1443.0,1224.7 1443.5,1221.6 1444.0,1218.8 1444.5,1218.4 1445.0,1219.8 1445.5,1222.8 1446.0,1225.9 1446.5,1229.4 1447.0,1231.4 1447.5,1233.5 1448.0,1234.2 1448.5,1234.6 1449.0,1235.5 1449.5,1235.7 1450.0,1235.3 1450.5,1236.2 1451.0,1236.1 1451.5,1236.2 1452.0,1236.5 1452.5,1236.1 1453.0,1236.1 1453.5,1236.2 1454.0,1236.8 1454.5,1236.7 1455.0,1236.2 1455.5,1236.9 1456.0,1236.3 1456.5,1236.3 1457.0,1236.4 1457.5,1235.8 1458.0,1236.3 1458.5,1235.5 1459.0,1235.2 1459.5,1235.7 1460.0,1234.9 1460.5,1234.7 1461.0,1233.7 1461.5,1234.6 1462.0,1234.3 1462.5,1234.0 1463.0,1233.6 1463.5,1233.4 1464.0,1232.2 1464.5,1231.3 1465.0,1228.8 1465.5,1225.1 1466.0,1219.1 1466.5,1209.1 1467.0,1195.0 1467.5,1177.5 1468.0,1158.5 1468.5,1142.8 1469.0,1136.1 1469.5,1140.9 1470.0,1153.9 1470.5,1168.9 1471.0,1181.0 1471.5,1187.1 1472.0,1187.9 1472.5,1185.1 1473.0,1182.4 1473.5,1183.4 1474.0,1189.6 1474.5,1198.9 1475.0,1208.9 1475.5,1217.4 1476.0,1223.9 1476.5,1228.9 1477.0,1231.7 1477.5,1233.5 1478.0,1234.0 1478.5,1235.1 1479.0,1235.6 1479.5,1236.1 1480.0,1235.7 1480.5,1236.2 1481.0,1236.3 1481.5,1236.2 1482.0,1236.6 1482.5,1236.8 1483.0,1236.8 1483.5,1237.0 1484.0,1236.6 1484.5,1237.1 1485.0,1237.1 1485.5,1237.5 1486.0,1237.9 1486.5,1237.2 1487.0,1237.1 1487.5,1237.8 1488.0,1237.7 1488.5,1238.3 1489.0,1237.7 1489.5,1237.1 1490.0,1237.8 1490.5,1237.1 1491.0,1237.0 1491.5,1238.2 1492.0,1237.6 1492.5,1237.8 1493.0,1237.6 1493.5,1237.9 1494.0,1237.5 1494.5,1237.8 1495.0,1237.2 1495.5,1237.3 1496.0,1238.2 1496.5,1238.3 1497.0,1238.0 1497.5,1237.9 1498.0,1237.7 1498.5,1237.5 1499.0,1238.5 1499.5,1238.2 1500.0,1238.1 1500.5,1238.0 1501.0,1238.2 1501.5,1237.7 1502.0,1237.7 1502.5,1237.1 1503.0,1237.6 1503.5,1238.0 1504.0,1237.2 1504.5,1237.4 1505.0,1237.7 1505.5,1237.8 1506.0,1238.0 1506.5,1237.2 1507.0,1238.1 1507.5,1237.7 1508.0,1237.8 1508.5,1238.1 1509.0,1237.9 1509.5,1238.2 1510.0,1238.8 1510.5,1238.0 1511.0,1238.0 1511.5,1237.3 1512.0,1237.3 1512.5,1237.2 1513.0,1237.2 1513.5,1237.0 1514.0,1237.2 1514.5,1237.5 1515.0,1237.2 1515.5,1237.1 1516.0,1237.0 1516.5,1237.5 1517.0,1237.3 1517.5,1237.6 1518.0,1237.3 1518.5,1236.8 1519.0,1236.9 1519.5,1236.1 1520.0,1236.9 1520.5,1235.8 1521.0,1234.1 1521.5,1232.0 1522.0,1229.8 1522.5,1226.2 1523.0,1223.8 1523.5,1222.6 1524.0,1223.0 1524.5,1225.0 1525.0,1228.1 1525.5,1229.8 1526.0,1231.5 1526.5,1231.7 1527.0,1231.2 1527.5,1230.7 1528.0,1230.1 1528.5,1231.4 1529.0,1232.0 1529.5,1234.3 1530.0,1234.9 1530.5,1236.6 1531.0,1236.8 1531.5,1237.3 1532.0,1238.0 1532.5,1238.3 1533.0,1238.0 1533.5,1238.9 1534.0,1238.3 1534.5,1238.6 1535.0,1238.7 1535.5,1238.6 1536.0,1237.7 1536.5,1238.8 1537.0,1238.4 1537.5,1238.1 1538.0,1237.9 1538.5,1237.7 1539.0,1237.7 1539.5,1238.4 1540.0,1238.2 1540.5,1237.8 1541.0,1238.0 1541.5,1238.9 1542.0,1238.3 1542.5,1238.1 1543.0,1238.8 1543.5,1238.4 1544.0,1238.4 1544.5,1238.3 1545.0,1238.0 1545.5,1238.2 1546.0,1238.4 1546.5,1238.4 1547.0,1238.3 1547.5,1238.3 1548.0,1238.1 1548.5,1238.1 1549.0,1237.6 1549.5,1237.3 1550.0,1237.8 1550.5,1237.4 1551.0,1237.6 1551.5,1237.8 1552.0,1237.5 1552.5,1237.7 1553.0,1238.2 1553.5,1238.5 1554.0,1238.2 1554.5,1238.6 1555.0,1238.5 1555.5,1238.1 1556.0,1238.7 1556.5,1239.4 1557.0,1238.2 1557.5,1238.8 1558.0,1239.0 1558.5,1239.1 1559.0,1238.4 1559.5,1239.4 1560.0,1238.9 1560.5,1238.9 1561.0,1239.0 1561.5,1239.3 1562.0,1239.0 1562.5,1239.0 1563.0,1239.5 1563.5,1238.7 1564.0,1238.5 1564.5,1238.9 1565.0,1238.9 1565.5,1238.7 1566.0,1238.2 1566.5,1239.0 1567.0,1238.9 1567.5,1239.3 1568.0,1238.3 1568.5,1238.9 1569.0,1238.8 1569.5,1238.5 1570.0,1238.8 1570.5,1239.7 1571.0,1239.0 1571.5,1239.1 1572.0,1239.3 1572.5,1239.1 1573.0,1239.1 1573.5,1238.5 1574.0,1238.7 1574.5,1239.1 1575.0,1238.5 1575.5,1238.5 1576.0,1238.9 1576.5,1239.1 1577.0,1238.3 1577.5,1237.7 1578.0,1238.1 1578.5,1238.4 1579.0,1238.6 1579.5,1238.9 1580.0,1238.7 1580.5,1238.4 1581.0,1238.8 1581.5,1238.3 1582.0,1238.9 1582.5,1238.7 1583.0,1239.9 1583.5,1239.2 1584.0,1238.9 1584.5,1238.8 1585.0,1239.0 1585.5,1238.8 1586.0,1239.0 1586.5,1239.2 1587.0,1239.7 1587.5,1239.5 1588.0,1239.4 1588.5,1239.0 1589.0,1239.1 1589.5,1239.7 1590.0,1239.7 1590.5,1240.2 1591.0,1239.6 1591.5,1240.2 1592.0,1240.1 1592.5,1239.8 1593.0,1239.1 1593.5,1239.2 1594.0,1239.9 1594.5,1240.4 1595.0,1239.9 1595.5,1239.9 1596.0,1239.6 1596.5,1239.4 1597.0,1239.4 1597.5,1239.8 1598.0,1239.4 1598.5,1239.2 1599.0,1239.2 1599.5,1239.8 1600.0,1239.8 1600.5,1239.3 1601.0,1240.4 1601.5,1240.1 1602.0,1239.9 1602.5,1240.4 1603.0,1240.4 1603.5,1240.1 1604.0,1240.4 1604.5,1239.9 1605.0,1240.0 1605.5,1239.3 1606.0,1240.3 1606.5,1239.4 1607.0,1240.1 1607.5,1239.4 1608.0,1239.4 1608.5,1239.6 1609.0,1239.6 1609.5,1239.8 1610.0,1240.5 1610.5,1240.0 1611.0,1240.1 1611.5,1239.8 1612.0,1239.9 1612.5,1239.6 1613.0,1239.5 1613.5,1239.9 1614.0,1239.7 1614.5,1239.8 1615.0,1240.0 1615.5,1239.6 1616.0,1239.2 1616.5,1239.8 1617.0,1239.0 1617.5,1239.1 1618.0,1240.1 1618.5,1238.7 1619.0,1239.1 1619.5,1239.4 1620.0,1238.8 1620.5,1240.3 1621.0,1238.5 1621.5,1239.8 1622.0,1240.0 1622.5,1239.7 1623.0,1239.3 1623.5,1239.5 1624.0,1238.9 1624.5,1239.6 1625.0,1239.3 1625.5,1239.6 1626.0,1239.9 1626.5,1239.3 1627.0,1239.6 1627.5,1239.7 1628.0,1239.1 1628.5,1239.8 1629.0,1239.6 1629.5,1239.2 1630.0,1239.9 1630.5,1239.6 1631.0,1239.3 1631.5,1239.7 1632.0,1239.6 1632.5,1240.2 1633.0,1239.5 1633.5,1240.1 1634.0,1239.8 1634.5,1240.1 1635.0,1239.5 1635.5,1239.4 1636.0,1239.0 1636.5,1239.4 1637.0,1239.1 1637.5,1238.5 1638.0,1236.7 1638.5,1234.2 1639.0,1230.9 1639.5,1227.1 1640.0,1222.8 1640.5,1219.7 1641.0,1218.3 1641.5,1219.3 1642.0,1222.4 1642.5,1226.5 1643.0,1229.6 1643.5,1231.6 1644.0,1232.8 1644.5,1232.2 1645.0,1231.2 1645.5,1230.2 1646.0,1229.7 1646.5,1231.0 1647.0,1232.4 1647.5,1234.5 1648.0,1236.4 1648.5,1238.1 1649.0,1239.0 1649.5,1239.7 1650.0,1239.6 1650.5,1240.3 1651.0,1240.0 1651.5,1240.4 1652.0,1240.5 1652.5,1240.4 1653.0,1241.0 1653.5,1240.5 1654.0,1240.7 1654.5,1240.6 1655.0,1240.4 1655.5,1240.7 1656.0,1240.8 1656.5,1240.1 1657.0,1240.9 1657.5,1240.7 1658.0,1240.8 1658.5,1240.6 1659.0,1240.0 1659.5,1240.0 1660.0,1240.9 1660.5,1240.4 1661.0,1239.9 1661.5,1240.6 1662.0,1240.2 1662.5,1239.7 1663.0,1239.6 1663.5,1240.0 1664.0,1240.6 1664.5,1240.4 1665.0,1240.4 1665.5,1240.6 1666.0,1240.6 1666.5,1239.8 1667.0,1240.5 1667.5,1240.4 1668.0,1240.3 1668.5,1240.7 1669.0,1240.9 1669.5,1240.9 1670.0,1240.5 1670.5,1240.9 1671.0,1241.9 1671.5,1240.9 1672.0,1240.8 1672.5,1241.4 1673.0,1241.4 1673.5,1241.3 1674.0,1241.0 1674.5,1241.5 1675.0,1240.8 1675.5,1240.7 1676.0,1240.7 1676.5,1240.9 1677.0,1241.0 1677.5,1241.1 1678.0,1240.9 1678.5,1241.4 1679.0,1241.1 1679.5,1241.3 1680.0,1240.6 1680.5,1240.6 1681.0,1241.4 1681.5,1240.5 1682.0,1241.1 1682.5,1241.1 1683.0,1241.0 1683.5,1241.1 1684.0,1241.6 1684.5,1240.1 1685.0,1241.2 1685.5,1241.7 1686.0,1240.8 1686.5,1241.0 1687.0,1241.3 1687.5,1241.7 1688.0,1240.5 1688.5,1241.1 1689.0,1240.8 1689.5,1241.1 1690.0,1241.1 1690.5,1241.4 1691.0,1241.1 1691.5,1241.1 1692.0,1240.8 1692.5,1240.5 1693.0,1240.8 1693.5,1240.8 1694.0,1240.5 1694.5,1241.4 1695.0,1241.0 1695.5,1240.4 1696.0,1241.1 1696.5,1240.4 1697.0,1240.7 1697.5,1240.9 1698.0,1241.0 1698.5,1241.1 1699.0,1240.8 1699.5,1241.1 1700.0,1241.9 1700.5,1240.4 1701.0,1240.9 1701.5,1241.1 1702.0,1240.7 1702.5,1240.7 1703.0,1242.0 1703.5,1240.9 1704.0,1241.6 1704.5,1241.1 1705.0,1241.0 1705.5,1241.0 1706.0,1241.0 1706.5,1241.2 1707.0,1241.1 1707.5,1241.1 1708.0,1240.9 1708.5,1241.1 1709.0,1240.9 1709.5,1240.3 1710.0,1240.5 1710.5,1240.8 1711.0,1240.3 1711.5,1240.5 1712.0,1240.4 1712.5,1240.6 1713.0,1240.7 1713.5,1240.7 1714.0,1240.5 1714.5,1241.2 1715.0,1240.4 1715.5,1241.4 1716.0,1240.6 1716.5,1240.3 1717.0,1239.8 1717.5,1238.6 1718.0,1238.7 1718.5,1238.1 1719.0,1237.6 1719.5,1235.4 1720.0,1234.5 1720.5,1232.2 1721.0,1230.6 1721.5,1228.2 1722.0,1227.3 1722.5,1226.5 1723.0,1226.8 1723.5,1227.7 1724.0,1229.0 1724.5,1231.0 1725.0,1232.4 1725.5,1233.6 1726.0,1234.6 1726.5,1235.3 1727.0,1235.3 1727.5,1235.3 1728.0,1235.7 1728.5,1236.8 1729.0,1237.3 1729.5,1237.7 1730.0,1238.3 1730.5,1239.0 1731.0,1239.6 1731.5,1240.1 1732.0,1240.4 1732.5,1241.4 1733.0,1241.0 1733.5,1240.8 1734.0,1240.4 1734.5,1240.9 1735.0,1241.4 1735.5,1241.6 1736.0,1241.2 1736.5,1241.5 1737.0,1241.6 1737.5,1241.3 1738.0,1241.9 1738.5,1241.7 1739.0,1242.4 1739.5,1241.1 1740.0,1241.3 1740.5,1241.6 1741.0,1241.3 1741.5,1241.0 1742.0,1241.3 1742.5,1241.6 1743.0,1241.4 1743.5,1241.2 1744.0,1241.7 1744.5,1241.6 1745.0,1241.4 1745.5,1241.5 1746.0,1241.5 1746.5,1241.5 1747.0,1241.5 1747.5,1241.1 1748.0,1241.2 1748.5,1240.9 1749.0,1240.5 1749.5,1240.7 1750.0,1241.2 1750.5,1241.1 1751.0,1241.6 1751.5,1241.1 1752.0,1241.4 1752.5,1241.7 1753.0,1241.9 1753.5,1241.5 1754.0,1241.6 1754.5,1241.9 1755.0,1241.7 1755.5,1242.2 1756.0,1242.6 1756.5,1241.9 1757.0,1242.8 1757.5,1242.0 1758.0,1241.9 1758.5,1241.9 1759.0,1241.8 1759.5,1242.1 1760.0,1241.9 1760.5,1242.2 1761.0,1241.9 1761.5,1241.9 1762.0,1241.7 1762.5,1241.5 1763.0,1241.9 1763.5,1241.6 1764.0,1242.2 1764.5,1241.8 1765.0,1242.2 1765.5,1242.0 1766.0,1241.9 1766.5,1242.0 1767.0,1241.9 1767.5,1242.0 1768.0,1241.9 1768.5,1241.3 1769.0,1241.7 1769.5,1242.5 1770.0,1241.6 1770.5,1241.6 1771.0,1241.6 1771.5,1241.5 1772.0,1242.4 1772.5,1241.9 1773.0,1242.1 1773.5,1242.6 1774.0,1243.1 1774.5,1241.8 1775.0,1242.5 1775.5,1242.2 1776.0,1242.1 1776.5,1242.2 1777.0,1242.3 1777.5,1242.7 1778.0,1242.6 1778.5,1242.6 1779.0,1242.8 1779.5,1242.8 1780.0,1242.6 1780.5,1242.7 1781.0,1243.3 1781.5,1243.1 1782.0,1242.8 1782.5,1242.5 1783.0,1242.4 1783.5,1242.2 1784.0,1242.3 1784.5,1242.2 1785.0,1241.5 1785.5,1242.1 1786.0,1242.3 1786.5,1242.1 1787.0,1241.7 1787.5,1242.3 1788.0,1241.7 1788.5,1241.6 1789.0,1241.5 1789.5,1241.9 1790.0,1242.2 1790.5,1242.2 1791.0,1242.0 1791.5,1241.5 1792.0,1241.5 1792.5,1241.4 1793.0,1241.6 1793.5,1241.5 1794.0,1242.0 1794.5,1242.2 1795.0,1242.0 1795.5,1242.3 1796.0,1241.9 1796.5,1241.6 1797.0,1241.9 1797.5,1242.4 1798.0,1242.5 1798.5,1241.9 1799.0,1242.4 1799.5,1241.6 1800.0,1242.5 1800.5,1242.2 1801.0,1241.9 1801.5,1242.3 1802.0,1241.7 1802.5,1241.9 1803.0,1241.7 1803.5,1242.4 1804.0,1242.2 1804.5,1242.3 1805.0,1242.3 1805.5,1243.0 1806.0,1242.3 1806.5,1242.2 1807.0,1242.9 1807.5,1243.0 1808.0,1242.7 1808.5,1242.1 1809.0,1242.3 1809.5,1242.8 1810.0,1242.7 1810.5,1243.1 1811.0,1242.1 1811.5,1243.0 1812.0,1242.7 1812.5,1243.1 1813.0,1242.6 1813.5,1243.0 1814.0,1242.3 1814.5,1242.0 1815.0,1242.2 1815.5,1242.4 1816.0,1242.3 1816.5,1243.2 1817.0,1243.2 1817.5,1242.6 1818.0,1242.2 1818.5,1242.7 1819.0,1242.4 1819.5,1243.1 1820.0,1242.9 1820.5,1242.9 1821.0,1242.7 1821.5,1242.0 1822.0,1242.4 1822.5,1242.1 1823.0,1242.6 1823.5,1242.5 1824.0,1242.1 1824.5,1242.1 1825.0,1242.8 1825.5,1241.9 1826.0,1241.9 1826.5,1242.1 1827.0,1242.0 1827.5,1242.2 1828.0,1242.7 1828.5,1243.0 1829.0,1242.1 1829.5,1242.7 1830.0,1242.8 1830.5,1242.7 1831.0,1242.8 1831.5,1242.9 1832.0,1243.4 1832.5,1243.0 1833.0,1243.0 1833.5,1242.8 1834.0,1242.8 1834.5,1243.0 1835.0,1243.2 1835.5,1242.8 1836.0,1242.9 1836.5,1242.8 1837.0,1242.5 1837.5,1242.5 1838.0,1242.3 1838.5,1242.6 1839.0,1242.5 1839.5,1242.5 1840.0,1242.9 1840.5,1242.8 1841.0,1242.1 1841.5,1243.3 1842.0,1242.7 1842.5,1242.7 1843.0,1243.0 1843.5,1242.7 1844.0,1242.6 1844.5,1243.6 1845.0,1242.6 1845.5,1242.8 1846.0,1243.0 1846.5,1242.5 1847.0,1242.9 1847.5,1243.1 1848.0,1243.6 1848.5,1242.6 1849.0,1242.9 1849.5,1243.1 1850.0,1243.0 1850.5,1242.6 1851.0,1243.2 1851.5,1243.0 1852.0,1243.3 1852.5,1243.4 1853.0,1243.4 1853.5,1243.3 1854.0,1243.2 1854.5,1242.9 1855.0,1243.1 1855.5,1243.2 1856.0,1243.0 1856.5,1243.0 1857.0,1242.5 1857.5,1243.5 1858.0,1243.7 1858.5,1242.9 1859.0,1242.9 1859.5,1242.8 1860.0,1243.5 1860.5,1243.3 1861.0,1243.1 1861.5,1243.0 1862.0,1243.1 1862.5,1242.7 1863.0,1243.5 1863.5,1243.0 1864.0,1243.4 1864.5,1243.2 1865.0,1243.6 1865.5,1243.0 1866.0,1243.3 1866.5,1242.6 1867.0,1243.1 1867.5,1243.0 1868.0,1243.1 1868.5,1243.3 1869.0,1243.4 1869.5,1242.4 1870.0,1243.1 1870.5,1242.7 1871.0,1243.6 1871.5,1242.7 1872.0,1242.9 1872.5,1242.8 1873.0,1243.9 1873.5,1242.9 1874.0,1243.3 1874.5,1243.0 1875.0,1242.8 1875.5,1243.4 1876.0,1243.8 1876.5,1243.4 1877.0,1243.8 1877.5,1243.4 1878.0,1243.5 1878.5,1243.3 1879.0,1243.4 1879.5,1243.9 1880.0,1243.4 1880.5,1243.2 1881.0,1242.9 1881.5,1242.7 1882.0,1243.3 1882.5,1242.5 1883.0,1242.5 1883.5,1242.8 1884.0,1242.8 1884.5,1243.6 1885.0,1242.3 1885.5,1243.1 1886.0,1243.3 1886.5,1242.8 1887.0,1242.8 1887.5,1243.3 1888.0,1243.8 1888.5,1243.0 1889.0,1242.9 1889.5,1243.5 1890.0,1244.0 1890.5,1243.5 1891.0,1243.1 1891.5,1244.3 1892.0,1243.8 1892.5,1244.2 1893.0,1243.9 1893.5,1243.8 1894.0,1243.6 1894.5,1244.2 1895.0,1244.2 1895.5,1243.1 1896.0,1243.1 1896.5,1243.9 1897.0,1243.3 1897.5,1242.8 1898.0,1243.4 1898.5,1243.2 1899.0,1243.3 1899.5,1243.1 1900.0,1243.1"/>
<polyline fill="none" stroke="#ff8000" stroke-width="1.6" stroke-linejoin="round" stroke-linecap="butt" points="173.0,1214.3 174.0,1213.9 175.0,1213.5 176.0,1213.6 177.0,1213.4 178.0,1213.9 179.0,1213.8 180.0,1214.0 181.0,1213.7 182.0,1213.4 183.0,1213.5 184.0,1213.6 185.0,1214.6 186.0,1212.8 187.0,1214.5 188.0,1213.4 189.0,1213.6 190.0,1215.9 191.0,1215.5 192.0,1215.5 193.0,1216.3 194.0,1215.7 195.0,1218.2 196.0,1217.4 197.0,1216.4 198.0,1218.0 199.0,1217.4 200.0,1217.6 201.0,1217.3 202.0,1219.1 203.0,1218.0 204.0,1217.9 205.0,1217.8 206.0,1218.9 207.0,1217.7 208.0,1218.7 209.0,1218.6 210.0,1219.6 211.0,1219.0 212.0,1219.4 213.0,1219.1 214.0,1220.1 215.0,1220.2 216.0,1220.8 217.0,1221.4 218.0,1220.7 219.0,1221.0 220.0,1221.0 221.0,1220.1 222.0,1219.4 223.0,1220.8 224.0,1220.8 225.0,1220.3 226.0,1221.4 227.0,1221.7 228.0,1222.7 229.0,1221.3 230.0,1222.5 231.0,1222.3 232.0,1222.7 233.0,1221.5 234.0,1221.3 235.0,1220.5 236.0,1219.7 237.0,1220.0 238.0,1220.6 239.0,1221.1 240.0,1221.7 241.0,1221.3 242.0,1221.1 243.0,1222.8 244.0,1222.1 245.0,1222.3 246.0,1223.8 247.0,1223.5 248.0,1222.7 249.0,1222.4 250.0,1222.5 251.0,1222.3 252.0,1224.6 253.0,1222.7 254.0,1224.3 255.0,1223.3 256.0,1222.0 257.0,1223.2 258.0,1222.2 259.0,1222.8 260.0,1222.8 261.0,1224.4 262.0,1224.2 263.0,1223.6 264.0,1224.7 265.0,1224.0 266.0,1225.0 267.0,1224.9 268.0,1223.7 269.0,1224.8 270.0,1223.9 271.0,1224.3 272.0,1223.6 273.0,1222.7 274.0,1223.7 275.0,1224.7 276.0,1223.2 277.0,1224.6 278.0,1223.7 279.0,1222.4 280.0,1224.1 281.0,1223.6 282.0,1223.4 283.0,1223.9 284.0,1223.3 285.0,1224.9 286.0,1223.8 287.0,1224.6 288.0,1226.0 289.0,1226.0 290.0,1226.8 291.0,1225.7 292.0,1225.4 293.0,1224.6 294.0,1224.3 295.0,1223.9 296.0,1224.1 297.0,1223.8 298.0,1221.7 299.0,1224.9 300.0,1223.2 301.0,1224.5 302.0,1223.6 303.0,1223.8 304.0,1224.9 305.0,1223.1 306.0,1223.4 307.0,1223.6 308.0,1224.2 309.0,1224.8 310.0,1223.0 311.0,1223.9 312.0,1224.3 313.0,1223.8 314.0,1223.7 315.0,1224.7 316.0,1224.2 317.0,1224.0 318.0,1222.9 319.0,1224.2 320.0,1224.3 321.0,1224.1 322.0,1223.7 323.0,1224.7 324.0,1223.4 325.0,1223.2 326.0,1223.7 327.0,1223.4 328.0,1223.9 329.0,1223.8 330.0,1224.0 331.0,1223.8 332.0,1223.9 333.0,1224.1 334.0,1225.2 335.0,1224.2 336.0,1224.5 337.0,1224.3 338.0,1224.8 339.0,1223.7 340.0,1223.6 341.0,1224.9 342.0,1224.5 343.0,1224.3 344.0,1225.1 345.0,1224.0 346.0,1224.2 347.0,1225.4 348.0,1224.6 349.0,1224.9 350.0,1224.9 351.0,1224.9 352.0,1225.4 353.0,1224.9 354.0,1224.7 355.0,1223.4 356.0,1222.4 357.0,1222.9 358.0,1222.1 359.0,1222.2 360.0,1222.8 361.0,1222.7 362.0,1222.2 363.0,1222.8 364.0,1222.8 365.0,1223.0 366.0,1223.2 367.0,1222.8 368.0,1221.9 369.0,1221.8 370.0,1223.5 371.0,1223.3 372.0,1222.6 373.0,1224.1 374.0,1224.2 375.0,1224.9 376.0,1224.6 377.0,1226.3 378.0,1227.0 379.0,1227.3 380.0,1226.3 381.0,1228.6 382.0,1227.9 383.0,1226.6 384.0,1226.1 385.0,1225.5 386.0,1226.5 387.0,1225.8 388.0,1225.9 389.0,1225.4 390.0,1225.3 391.0,1225.9 392.0,1225.7 393.0,1226.0 394.0,1227.1 395.0,1227.7 396.0,1226.9 397.0,1225.7 398.0,1226.0 399.0,1226.1 400.0,1226.0 401.0,1227.1 402.0,1226.4 403.0,1227.3 404.0,1225.5 405.0,1227.5 406.0,1226.3 407.0,1226.1 408.0,1226.5 409.0,1227.1 410.0,1226.8 411.0,1225.2 412.0,1227.1 413.0,1225.9 414.0,1226.0 415.0,1227.3 416.0,1225.7 417.0,1226.1 418.0,1227.5 419.0,1226.2 420.0,1228.0 421.0,1227.8 422.0,1227.5 423.0,1227.1 424.0,1226.9 425.0,1227.9 426.0,1226.6 427.0,1227.2 428.0,1227.8 429.0,1226.8 430.0,1227.4 431.0,1229.1 432.0,1227.6 433.0,1227.1 434.0,1227.0 435.0,1227.6 436.0,1227.5 437.0,1226.6 438.0,1226.6 439.0,1226.9 440.0,1226.2 441.0,1225.7 442.0,1226.3 443.0,1226.8 444.0,1227.2 445.0,1227.0 446.0,1226.8 447.0,1227.4 448.0,1227.0 449.0,1225.6 450.0,1223.7 451.0,1220.6 452.0,1218.1 453.0,1217.3 454.0,1220.4 455.0,1223.3 456.0,1225.6 457.0,1227.9 458.0,1227.0 459.0,1228.4 460.0,1228.5 461.0,1227.6 462.0,1229.6 463.0,1228.4 464.0,1229.6 465.0,1228.1 466.0,1227.7 467.0,1228.2 468.0,1228.8 469.0,1227.9 470.0,1227.3 471.0,1227.2 472.0,1227.2 473.0,1226.3 474.0,1227.1 475.0,1226.1 476.0,1227.2 477.0,1226.9 478.0,1229.1 479.0,1227.7 480.0,1228.1 481.0,1227.8 482.0,1228.4 483.0,1228.6 484.0,1228.0 485.0,1227.5 486.0,1229.0 487.0,1228.7 488.0,1228.9 489.0,1228.3 490.0,1227.8 491.0,1228.6 492.0,1229.4 493.0,1228.0 494.0,1228.4 495.0,1229.7 496.0,1229.8 497.0,1229.9 498.0,1229.9 499.0,1228.6 500.0,1228.7 501.0,1228.7 502.0,1228.3 503.0,1228.7 504.0,1227.7 505.0,1229.5 506.0,1227.5 507.0,1228.8 508.0,1227.2 509.0,1227.3 510.0,1225.6 511.0,1226.9 512.0,1226.6 513.0,1226.6 514.0,1226.5 515.0,1226.1 516.0,1227.4 517.0,1225.8 518.0,1225.4 519.0,1223.2 520.0,1221.4 521.0,1220.1 522.0,1219.4 523.0,1221.3 524.0,1224.7 525.0,1226.4 526.0,1228.0 527.0,1227.7 528.0,1226.2 529.0,1226.8 530.0,1226.9 531.0,1225.3 532.0,1226.1 533.0,1226.1 534.0,1224.9 535.0,1226.9 536.0,1227.7 537.0,1225.0 538.0,1225.2 539.0,1225.9 540.0,1226.5 541.0,1226.2 542.0,1225.7 543.0,1226.3 544.0,1225.5 545.0,1227.3 546.0,1227.0 547.0,1225.0 548.0,1225.2 549.0,1224.6 550.0,1224.3 551.0,1224.2 552.0,1226.0 553.0,1224.5 554.0,1224.9 555.0,1224.3 556.0,1224.2 557.0,1224.6 558.0,1223.5 559.0,1224.4 560.0,1223.1 561.0,1224.2 562.0,1224.7 563.0,1224.3 564.0,1222.8 565.0,1222.9 566.0,1223.2 567.0,1222.9 568.0,1223.2 569.0,1222.7 570.0,1222.5 571.0,1221.6 572.0,1221.7 573.0,1222.0 574.0,1221.8 575.0,1221.7 576.0,1222.2 577.0,1221.9 578.0,1220.5 579.0,1221.3 580.0,1220.8 581.0,1221.9 582.0,1221.0 583.0,1222.0 584.0,1222.4 585.0,1222.8 586.0,1222.4 587.0,1223.4 588.0,1221.3 589.0,1221.8 590.0,1220.9 591.0,1220.3 592.0,1220.6 593.0,1219.9 594.0,1220.6 595.0,1219.3 596.0,1220.5 597.0,1219.7 598.0,1219.3 599.0,1217.6 600.0,1218.5 601.0,1217.6 602.0,1216.0 603.0,1212.7 604.0,1210.3 605.0,1206.5 606.0,1203.5 607.0,1201.1 608.0,1203.0 609.0,1207.1 610.0,1210.6 611.0,1213.7 612.0,1215.5 613.0,1216.5 614.0,1216.6 615.0,1217.1 616.0,1216.0 617.0,1215.5 618.0,1215.3 619.0,1215.2 620.0,1214.2 621.0,1214.5 622.0,1213.4 623.0,1212.7 624.0,1211.4 625.0,1209.0 626.0,1206.8 627.0,1205.6 628.0,1206.5 629.0,1207.7 630.0,1209.1 631.0,1210.4 632.0,1211.3 633.0,1212.8 634.0,1212.3 635.0,1211.6 636.0,1209.4 637.0,1209.8 638.0,1211.0 639.0,1211.1 640.0,1212.5 641.0,1212.5 642.0,1213.8 643.0,1213.5 644.0,1212.6 645.0,1213.2 646.0,1211.9 647.0,1209.5 648.0,1200.1 649.0,1181.0 650.0,1148.5 651.0,1106.2 652.0,1068.8 653.0,1056.0 654.0,1076.0 655.0,1117.3 656.0,1159.7 657.0,1190.9 658.0,1208.6 659.0,1215.6 660.0,1219.2 661.0,1220.7 662.0,1221.4 663.0,1221.8 664.0,1222.7 665.0,1223.3 666.0,1223.3 667.0,1221.8 668.0,1220.2 669.0,1216.8 670.0,1215.4 671.0,1216.8 672.0,1219.3 673.0,1221.9 674.0,1223.3 675.0,1224.5 676.0,1225.1 677.0,1224.4 678.0,1224.1 679.0,1223.8 680.0,1224.0 681.0,1223.8 682.0,1222.8 683.0,1222.7 684.0,1221.1 685.0,1219.7 686.0,1221.4 687.0,1220.8 688.0,1219.7 689.0,1218.7 690.0,1219.3 691.0,1218.4 692.0,1217.7 693.0,1217.2 694.0,1216.5 695.0,1214.8 696.0,1213.2 697.0,1209.0 698.0,1191.1 699.0,1168.0 700.0,1124.3 701.0,1084.3 702.0,1033.3 702.9,949.2 703.5,1025.9 704.5,1091.8 705.5,1139.3 706.5,1190.7 707.5,1217.0 708.5,1219.0 709.5,1218.6 710.5,1219.6 711.5,1219.9 712.5,1218.8 713.5,1218.8 714.5,1218.5 715.5,1218.6 716.5,1218.3 717.5,1219.9 718.5,1220.5 719.5,1221.8 720.5,1220.9 721.5,1222.8 722.5,1222.0 723.5,1222.1 724.5,1220.7 725.5,1220.5 726.5,1220.9 727.5,1219.2 728.5,1218.8 729.5,1218.2 730.5,1218.5 731.5,1217.9 732.5,1216.9 733.5,1217.2 734.5,1216.9 735.5,1215.5 736.5,1215.0 737.5,1213.2 738.5,1211.6 739.5,1209.2 740.5,1205.8 741.5,1203.2 742.5,1200.1 743.5,1193.6 744.5,1185.2 745.5,1170.8 746.5,1123.1 747.5,1011.1 748.5,949.4 749.5,867.4 750.5,725.1 751.5,898.9 752.5,962.7 753.5,1017.7 754.5,1110.5 755.5,1179.0 756.5,1188.1 757.5,1194.7 758.5,1201.2 759.5,1206.5 760.5,1213.1 761.5,1212.8 762.5,1213.1 763.5,1212.9 764.5,1210.4 765.5,1206.3 766.5,1202.9 767.5,1202.6 768.5,1204.9 769.5,1209.3 770.5,1213.8 771.5,1215.9 772.5,1217.1 773.5,1217.9 774.5,1218.0 775.5,1219.6 776.5,1220.5 777.5,1220.6 778.5,1221.2 779.5,1222.1 780.5,1222.0 781.5,1221.7 782.5,1221.3 783.5,1222.4 784.5,1223.1 785.5,1222.9 786.5,1222.9 787.5,1224.5 788.5,1225.7 789.5,1226.0 790.5,1224.6 791.5,1225.7 792.5,1227.0 793.5,1225.9 794.5,1226.7 795.5,1227.4 796.5,1226.9 797.5,1226.8 798.5,1226.9 799.5,1228.5 800.5,1227.5 801.5,1228.3 802.5,1229.6 803.5,1229.3 804.5,1229.3 805.5,1229.8 806.5,1229.4 807.5,1229.6 808.5,1229.0 809.5,1229.6 810.5,1230.0 811.5,1230.6 812.5,1229.2 813.5,1229.4 814.5,1230.0 815.5,1229.4 816.5,1228.7 817.5,1227.2 818.5,1229.2 819.5,1229.0 820.5,1229.0 821.5,1228.3 822.5,1228.7 823.5,1228.4 824.5,1229.6 825.5,1228.9 826.5,1228.6 827.5,1227.6 828.5,1226.2 829.5,1225.4 830.5,1223.5 831.5,1220.9 832.5,1220.5 833.5,1221.4 834.5,1224.0 835.5,1225.3 836.5,1225.9 837.5,1229.0 838.5,1229.0 839.5,1227.9 840.5,1227.6 841.5,1228.4 842.5,1228.4 843.5,1227.8 844.5,1228.0 845.5,1226.6 846.5,1225.9 847.5,1225.2 848.5,1225.2 849.5,1225.9 850.5,1225.2 851.5,1226.4 852.5,1228.4 853.5,1227.9 854.5,1229.5 855.5,1229.3 856.5,1231.2 857.5,1230.8 858.5,1231.2 859.5,1230.1 860.5,1229.8 861.5,1230.1 862.5,1230.7 863.5,1231.6 864.5,1231.3 865.5,1231.3 866.5,1229.9 867.5,1230.0 868.5,1231.8 869.5,1230.5 870.5,1229.9 871.5,1229.9 872.5,1228.0 873.5,1226.5 874.5,1226.4 875.5,1225.6 876.5,1225.4 877.5,1223.8 878.5,1222.7 879.5,1223.1 880.5,1223.1 881.5,1223.7 882.5,1224.1 883.5,1224.2 884.5,1224.9 885.5,1226.3 886.5,1225.3 887.5,1226.3 888.5,1227.5 889.5,1229.1 890.5,1229.7 891.5,1230.9 892.5,1231.8 893.5,1232.3 894.5,1231.6 895.5,1231.9 896.5,1233.2 897.5,1232.2 898.5,1231.6 899.5,1231.4 900.5,1233.1 901.5,1230.9 902.5,1231.2 903.5,1230.1 904.5,1231.1 905.5,1232.1 906.5,1232.9 907.5,1231.3 908.5,1231.1 909.5,1231.6 910.5,1232.3 911.5,1232.5 912.5,1231.8 913.5,1233.1 914.5,1232.1 915.5,1232.7 916.5,1233.8 917.5,1231.9 918.5,1231.7 919.5,1230.8 920.5,1229.8 921.5,1228.4 922.5,1226.6 923.5,1226.2 924.5,1225.9 925.5,1226.3 926.5,1228.9 927.5,1229.7 928.5,1230.2 929.5,1231.4 930.5,1231.7 931.5,1231.3 932.5,1231.7 933.5,1231.9 934.5,1233.0 935.5,1232.4 936.5,1231.4 937.5,1231.6 938.5,1231.9 939.5,1230.5 940.5,1231.5 941.5,1231.9 942.5,1231.9 943.5,1231.9 944.5,1232.1 945.5,1233.3 946.5,1233.5 947.5,1233.7 948.5,1232.1 949.5,1233.0 950.5,1234.5 951.5,1233.3 952.5,1233.7 953.5,1234.0 954.5,1233.8 955.5,1234.3 956.5,1233.4 957.5,1232.7 958.5,1232.5 959.5,1231.7 960.5,1231.3 961.5,1230.0 962.5,1229.5 963.5,1230.1 964.5,1229.8 965.5,1230.1 966.5,1231.5 967.5,1231.1 968.5,1232.0 969.5,1232.5 970.5,1232.2 971.5,1233.3 972.5,1232.3 973.5,1233.2 974.5,1232.4 975.5,1232.0 976.5,1233.1 977.5,1232.1 978.5,1232.3 979.5,1232.5 980.5,1231.2 981.5,1232.1 982.5,1232.4 983.5,1233.1 984.5,1232.8 985.5,1232.3 986.5,1233.3 987.5,1231.8 988.5,1231.0 989.5,1231.0 990.5,1229.6 991.5,1228.0 992.5,1224.6 993.5,1214.8 994.5,1183.2 995.5,1130.9 996.5,1125.8 997.5,1162.0 998.5,1174.4 999.5,1191.9 1000.5,1214.8 1001.5,1225.8 1002.5,1229.5 1003.5,1230.5 1004.5,1231.3 1005.5,1231.5 1006.5,1233.0 1007.5,1233.5 1008.5,1234.1 1009.5,1235.4 1010.5,1236.1 1011.5,1235.3 1012.5,1234.8 1013.5,1234.5 1014.5,1234.4 1015.5,1234.9 1016.5,1235.2 1017.5,1235.0 1018.5,1235.1 1019.5,1235.4 1020.5,1236.2 1021.5,1234.9 1022.5,1234.6 1023.5,1234.2 1024.5,1234.6 1025.5,1235.1 1026.5,1235.1 1027.5,1234.9 1028.5,1235.6 1029.5,1235.4 1030.5,1235.0 1031.5,1234.5 1032.5,1234.1 1033.5,1235.5 1034.5,1233.9 1035.5,1234.9 1036.5,1234.5 1037.5,1234.5 1038.5,1234.4 1039.5,1233.6 1040.5,1233.5 1041.5,1232.9 1042.5,1232.3 1043.5,1232.2 1044.5,1232.2 1045.5,1231.4 1046.5,1232.1 1047.5,1231.4 1048.5,1230.7 1049.5,1230.9 1050.5,1232.3 1051.5,1233.2 1052.5,1232.0 1053.5,1233.6 1054.5,1233.1 1055.5,1234.3 1056.5,1233.4 1057.5,1233.8 1058.5,1233.7 1059.5,1233.9 1060.5,1233.8 1061.5,1233.0 1062.5,1234.3 1063.5,1234.6 1064.5,1233.7 1065.5,1233.8 1066.5,1234.9 1067.5,1234.1 1068.5,1233.9 1069.5,1234.0 1070.5,1233.2 1071.5,1233.8 1072.5,1234.7 1073.5,1233.7 1074.5,1233.8 1075.5,1234.3 1076.5,1233.8 1077.5,1233.4 1078.5,1233.8 1079.5,1234.8 1080.5,1233.9 1081.5,1234.0 1082.5,1233.9 1083.5,1233.6 1084.5,1231.7 1085.5,1231.1 1086.5,1229.7 1087.5,1228.3 1088.5,1228.2 1089.5,1228.5 1090.5,1229.0 1091.5,1229.4 1092.5,1230.3 1093.5,1231.5 1094.5,1233.3 1095.5,1234.0 1096.5,1233.6 1097.5,1234.0 1098.5,1234.0 1099.5,1234.3 1100.5,1234.5 1101.5,1234.5 1102.5,1235.1 1103.5,1236.2 1104.5,1235.8 1105.5,1235.4 1106.5,1235.2 1107.5,1235.3 1108.5,1236.3 1109.5,1235.6 1110.5,1235.2 1111.5,1236.2 1112.5,1235.5 1113.5,1234.5 1114.5,1235.0 1115.5,1235.1 1116.5,1234.8 1117.5,1235.7 1118.5,1235.6 1119.5,1234.7 1120.5,1234.7 1121.5,1235.0 1122.5,1235.2 1123.5,1233.6 1124.5,1232.8 1125.5,1231.9 1126.5,1231.0 1127.5,1229.9 1128.5,1229.9 1129.5,1229.7 1130.5,1230.5 1131.5,1231.4 1132.5,1232.6 1133.5,1234.3 1134.5,1234.6 1135.5,1235.7 1136.5,1235.3 1137.5,1236.0 1138.5,1235.8 1139.5,1235.7 1140.5,1235.5 1141.5,1235.6 1142.5,1236.1 1143.5,1235.2 1144.5,1235.7 1145.5,1235.2 1146.5,1235.2 1147.5,1235.2 1148.5,1235.5 1149.5,1234.4 1150.5,1235.1 1151.5,1235.4 1152.5,1234.6 1153.5,1236.1 1154.5,1234.9 1155.5,1234.9 1156.5,1234.5 1157.5,1234.6 1158.5,1235.6 1159.5,1235.0 1160.5,1235.5 1161.5,1235.4 1162.5,1236.2 1163.5,1234.7 1164.5,1235.3 1165.5,1235.9 1166.5,1234.7 1167.5,1234.3 1168.5,1234.7 1169.5,1235.4 1170.5,1235.2 1171.5,1235.2 1172.5,1235.8 1173.5,1236.2 1174.5,1236.7 1175.5,1235.6 1176.5,1235.5 1177.5,1234.9 1178.5,1236.1 1179.5,1235.4 1180.5,1235.8 1181.5,1236.0 1182.5,1235.8 1183.5,1236.6 1184.5,1236.2 1185.5,1236.2 1186.5,1236.4 1187.5,1236.4 1188.5,1235.3 1189.5,1236.3 1190.5,1235.0 1191.5,1235.6 1192.5,1236.7 1193.5,1235.4 1194.5,1235.6 1195.5,1236.0 1196.5,1235.4 1197.5,1235.7 1198.5,1235.1 1199.5,1234.9 1200.5,1234.0 1201.5,1232.0 1202.5,1228.7 1203.5,1219.0 1204.5,1192.5 1205.5,1151.2 1206.5,1127.6 1207.5,1147.3 1208.5,1168.2 1209.5,1172.3 1210.5,1185.0 1211.5,1207.9 1212.5,1223.6 1213.5,1231.3 1214.5,1233.4 1215.5,1234.6 1216.5,1234.7 1217.5,1234.8 1218.5,1235.0 1219.5,1235.1 1220.5,1235.9 1221.5,1235.4 1222.5,1236.2 1223.5,1236.2 1224.5,1235.9 1225.5,1236.4 1226.5,1236.6 1227.5,1237.0 1228.5,1236.5 1229.5,1236.3 1230.5,1236.6 1231.5,1236.3 1232.5,1236.2 1233.5,1235.9 1234.5,1234.9 1235.5,1234.9 1236.5,1233.9 1237.5,1233.7 1238.5,1232.5 1239.5,1232.3 1240.5,1233.0 1241.5,1233.3 1242.5,1234.3 1243.5,1235.9 1244.5,1235.7 1245.5,1236.4 1246.5,1237.3 1247.5,1237.3 1248.5,1237.3 1249.5,1237.5 1250.5,1237.0 1251.5,1237.0 1252.5,1236.6 1253.5,1235.9 1254.5,1235.5 1255.5,1235.8 1256.5,1235.5 1257.5,1236.1 1258.5,1236.0 1259.5,1235.6 1260.5,1235.7 1261.5,1235.2 1262.5,1235.6 1263.5,1236.8 1264.5,1236.0 1265.5,1235.6 1266.5,1236.6 1267.5,1236.5 1268.5,1236.3 1269.5,1236.1 1270.5,1235.9 1271.5,1235.5 1272.5,1235.2 1273.5,1236.0 1274.5,1235.2 1275.5,1235.3 1276.5,1234.9 1277.5,1234.7 1278.5,1234.4 1279.5,1235.1 1280.5,1235.0 1281.5,1235.5 1282.5,1236.0 1283.5,1236.4 1284.5,1236.0 1285.5,1235.0 1286.5,1235.0 1287.5,1235.4 1288.5,1234.9 1289.5,1234.5 1290.5,1234.4 1291.5,1235.3 1292.5,1234.4 1293.5,1235.2 1294.5,1235.0 1295.5,1235.0 1296.5,1234.6 1297.5,1235.2 1298.5,1234.8 1299.5,1235.1 1300.5,1234.5 1301.5,1233.5 1302.5,1233.6 1303.5,1233.0 1304.5,1234.3 1305.5,1234.0 1306.5,1233.9 1307.5,1234.2 1308.5,1233.9 1309.5,1234.0 1310.5,1233.9 1311.5,1233.9 1312.5,1233.3 1313.5,1233.3 1314.5,1233.0 1315.5,1233.0 1316.5,1232.3 1317.5,1232.9 1318.5,1232.9 1319.5,1233.5 1320.5,1233.2 1321.5,1234.1 1322.5,1233.7 1323.5,1233.4 1324.5,1232.2 1325.5,1231.2 1326.5,1229.8 1327.5,1226.7 1328.5,1217.7 1329.5,1187.1 1330.5,1132.7 1331.5,1132.2 1332.5,1184.8 1333.5,1210.4 1334.5,1212.0 1335.5,1217.0 1336.5,1226.3 1337.5,1231.7 1338.5,1233.1 1339.5,1234.5 1340.5,1234.2 1341.5,1235.3 1342.5,1235.1 1343.5,1235.2 1344.5,1235.2 1345.5,1235.0 1346.5,1235.6 1347.5,1235.3 1348.5,1236.0 1349.5,1236.6 1350.5,1237.6 1351.5,1236.6 1352.5,1235.9 1353.5,1236.7 1354.5,1236.6 1355.5,1236.0 1356.5,1236.0 1357.5,1234.8 1358.5,1234.8 1359.5,1233.8 1360.5,1233.0 1361.5,1232.5 1362.5,1232.2 1363.5,1231.9 1364.5,1231.6 1365.5,1232.0 1366.5,1232.7 1367.5,1233.3 1368.5,1234.2 1369.5,1235.0 1370.5,1234.5 1371.5,1235.6 1372.5,1235.3 1373.5,1235.8 1374.5,1235.5 1375.5,1235.5 1376.5,1236.2 1377.5,1235.7 1378.5,1235.9 1379.5,1235.9 1380.5,1236.6 1381.5,1236.1 1382.5,1236.3 1383.5,1236.1 1384.5,1236.8 1385.5,1236.1 1386.5,1236.3 1387.5,1236.1 1388.5,1236.1 1389.5,1237.0 1390.5,1236.4 1391.5,1236.6 1392.5,1236.8 1393.5,1236.7 1394.5,1236.7 1395.5,1236.4 1396.5,1236.3 1397.5,1236.6 1398.5,1236.0 1399.5,1237.2 1400.5,1237.4 1401.5,1236.3 1402.5,1237.2 1403.5,1237.4 1404.5,1236.8 1405.5,1236.5 1406.5,1236.5 1407.5,1237.1 1408.5,1237.0 1409.5,1236.3 1410.5,1236.5 1411.5,1236.7 1412.5,1236.1 1413.5,1236.4 1414.5,1236.2 1415.5,1235.9 1416.5,1235.9 1417.5,1235.2 1418.5,1233.5 1419.5,1230.8 1420.5,1227.1 1421.5,1225.0 1422.5,1224.8 1423.5,1227.9 1424.5,1230.1 1425.5,1233.0 1426.5,1234.2 1427.5,1235.5 1428.5,1235.7 1429.5,1236.1 1430.5,1235.4 1431.5,1235.9 1432.5,1236.2 1433.5,1236.0 1434.5,1235.5 1435.5,1235.2 1436.5,1236.1 1437.5,1235.1 1438.5,1234.7 1439.5,1235.0 1440.5,1234.5 1441.5,1232.5 1442.5,1228.3 1443.5,1221.6 1444.5,1218.4 1445.5,1222.8 1446.5,1229.4 1447.5,1233.5 1448.5,1234.6 1449.5,1235.7 1450.5,1236.2 1451.5,1236.2 1452.5,1236.1 1453.5,1236.2 1454.5,1236.7 1455.5,1236.9 1456.5,1236.3 1457.5,1235.8 1458.5,1235.5 1459.5,1235.7 1460.5,1234.7 1461.5,1234.6 1462.5,1234.0 1463.5,1233.4 1464.5,1231.3 1465.5,1225.1 1466.5,1209.1 1467.5,1177.5 1468.5,1142.8 1469.5,1140.9 1470.5,1168.9 1471.5,1187.1 1472.5,1185.1 1473.5,1183.4 1474.5,1198.9 1475.5,1217.4 1476.5,1228.9 1477.5,1233.5 1478.5,1235.1 1479.5,1236.1 1480.5,1236.2 1481.5,1236.2 1482.5,1236.8 1483.5,1237.0 1484.5,1237.1 1485.5,1237.5 1486.5,1237.2 1487.5,1237.8 1488.5,1238.3 1489.5,1237.1 1490.5,1237.1 1491.5,1238.2 1492.5,1237.8 1493.5,1237.9 1494.5,1237.8 1495.5,1237.3 1496.5,1238.3 1497.5,1237.9 1498.5,1237.5 1499.5,1238.2 1500.5,1238.0 1501.5,1237.7 1502.5,1237.1 1503.5,1238.0 1504.5,1237.4 1505.5,1237.8 1506.5,1237.2 1507.5,1237.7 1508.5,1238.1 1509.5,1238.2 1510.5,1238.0 1511.5,1237.3 1512.5,1237.2 1513.5,1237.0 1514.5,1237.5 1515.5,1237.1 1516.5,1237.5 1517.5,1237.6 1518.5,1236.8 1519.5,1236.1 1520.5,1235.8 1521.5,1232.0 1522.5,1226.2 1523.5,1222.6 1524.5,1225.0 1525.5,1229.8 1526.5,1231.7 1527.5,1230.7 1528.5,1231.4 1529.5,1234.3 1530.5,1236.6 1531.5,1237.3 1532.5,1238.3 1533.5,1238.9 1534.5,1238.6 1535.5,1238.6 1536.5,1238.8 1537.5,1238.1 1538.5,1237.7 1539.5,1238.4 1540.5,1237.8 1541.5,1238.9 1542.5,1238.1 1543.5,1238.4 1544.5,1238.3 1545.5,1238.2 1546.5,1238.4 1547.5,1238.3 1548.5,1238.1 1549.5,1237.3 1550.5,1237.4 1551.5,1237.8 1552.5,1237.7 1553.5,1238.5 1554.5,1238.6 1555.5,1238.1 1556.5,1239.4 1557.5,1238.8 1558.5,1239.1 1559.5,1239.4 1560.5,1238.9 1561.5,1239.3 1562.5,1239.0 1563.5,1238.7 1564.5,1238.9 1565.5,1238.7 1566.5,1239.0 1567.5,1239.3 1568.5,1238.9 1569.5,1238.5 1570.5,1239.7 1571.5,1239.1 1572.5,1239.1 1573.5,1238.5 1574.5,1239.1 1575.5,1238.5 1576.5,1239.1 1577.5,1237.7 1578.5,1238.4 1579.5,1238.9 1580.5,1238.4 1581.5,1238.3 1582.5,1238.7 1583.5,1239.2 1584.5,1238.8 1585.5,1238.8 1586.5,1239.2 1587.5,1239.5 1588.5,1239.0 1589.5,1239.7 1590.5,1240.2 1591.5,1240.2 1592.5,1239.8 1593.5,1239.2 1594.5,1240.4 1595.5,1239.9 1596.5,1239.4 1597.5,1239.8 1598.5,1239.2 1599.5,1239.8 1600.5,1239.3 1601.5,1240.1 1602.5,1240.4 1603.5,1240.1 1604.5,1239.9 1605.5,1239.3 1606.5,1239.4 1607.5,1239.4 1608.5,1239.6 1609.5,1239.8 1610.5,1240.0 1611.5,1239.8 1612.5,1239.6 1613.5,1239.9 1614.5,1239.8 1615.5,1239.6 1616.5,1239.8 1617.5,1239.1 1618.5,1238.7 1619.5,1239.4 1620.5,1240.3 1621.5,1239.8 1622.5,1239.7 1623.5,1239.5 1624.5,1239.6 1625.5,1239.6 1626.5,1239.3 1627.5,1239.7 1628.5,1239.8 1629.5,1239.2 1630.5,1239.6 1631.5,1239.7 1632.5,1240.2 1633.5,1240.1 1634.5,1240.1 1635.5,1239.4 1636.5,1239.4 1637.5,1238.5 1638.5,1234.2 1639.5,1227.1 1640.5,1219.7 1641.5,1219.3 1642.5,1226.5 1643.5,1231.6 1644.5,1232.2 1645.5,1230.2 1646.5,1231.0 1647.5,1234.5 1648.5,1238.1 1649.5,1239.7 1650.5,1240.3 1651.5,1240.4 1652.5,1240.4 1653.5,1240.5 1654.5,1240.6 1655.5,1240.7 1656.5,1240.1 1657.5,1240.7 1658.5,1240.6 1659.5,1240.0 1660.5,1240.4 1661.5,1240.6 1662.5,1239.7 1663.5,1240.0 1664.5,1240.4 1665.5,1240.6 1666.5,1239.8 1667.5,1240.4 1668.5,1240.7 1669.5,1240.9 1670.5,1240.9 1671.5,1240.9 1672.5,1241.4 1673.5,1241.3 1674.5,1241.5 1675.5,1240.7 1676.5,1240.9 1677.5,1241.1 1678.5,1241.4 1679.5,1241.3 1680.5,1240.6 1681.5,1240.5 1682.5,1241.1 1683.5,1241.1 1684.5,1240.1 1685.5,1241.7 1686.5,1241.0 1687.5,1241.7 1688.5,1241.1 1689.5,1241.1 1690.5,1241.4 1691.5,1241.1 1692.5,1240.5 1693.5,1240.8 1694.5,1241.4 1695.5,1240.4 1696.5,1240.4 1697.5,1240.9 1698.5,1241.1 1699.5,1241.1 1700.5,1240.4 1701.5,1241.1 1702.5,1240.7 1703.5,1240.9 1704.5,1241.1 1705.5,1241.0 1706.5,1241.2 1707.5,1241.1 1708.5,1241.1 1709.5,1240.3 1710.5,1240.8 1711.5,1240.5 1712.5,1240.6 1713.5,1240.7 1714.5,1241.2 1715.5,1241.4 1716.5,1240.3 1717.5,1238.6 1718.5,1238.1 1719.5,1235.4 1720.5,1232.2 1721.5,1228.2 1722.5,1226.5 1723.5,1227.7 1724.5,1231.0 1725.5,1233.6 1726.5,1235.3 1727.5,1235.3 1728.5,1236.8 1729.5,1237.7 1730.5,1239.0 1731.5,1240.1 1732.5,1241.4 1733.5,1240.8 1734.5,1240.9 1735.5,1241.6 1736.5,1241.5 1737.5,1241.3 1738.5,1241.7 1739.5,1241.1 1740.5,1241.6 1741.5,1241.0 1742.5,1241.6 1743.5,1241.2 1744.5,1241.6 1745.5,1241.5 1746.5,1241.5 1747.5,1241.1 1748.5,1240.9 1749.5,1240.7 1750.5,1241.1 1751.5,1241.1 1752.5,1241.7 1753.5,1241.5 1754.5,1241.9 1755.5,1242.2 1756.5,1241.9 1757.5,1242.0 1758.5,1241.9 1759.5,1242.1 1760.5,1242.2 1761.5,1241.9 1762.5,1241.5 1763.5,1241.6 1764.5,1241.8 1765.5,1242.0 1766.5,1242.0 1767.5,1242.0 1768.5,1241.3 1769.5,1242.5 1770.5,1241.6 1771.5,1241.5 1772.5,1241.9 1773.5,1242.6 1774.5,1241.8 1775.5,1242.2 1776.5,1242.2 1777.5,1242.7 1778.5,1242.6 1779.5,1242.8 1780.5,1242.7 1781.5,1243.1 1782.5,1242.5 1783.5,1242.2 1784.5,1242.2 1785.5,1242.1 1786.5,1242.1 1787.5,1242.3 1788.5,1241.6 1789.5,1241.9 1790.5,1242.2 1791.5,1241.5 1792.5,1241.4 1793.5,1241.5 1794.5,1242.2 1795.5,1242.3 1796.5,1241.6 1797.5,1242.4 1798.5,1241.9 1799.5,1241.6 1800.5,1242.2 1801.5,1242.3 1802.5,1241.9 1803.5,1242.4 1804.5,1242.3 1805.5,1243.0 1806.5,1242.2 1807.5,1243.0 1808.5,1242.1 1809.5,1242.8 1810.5,1243.1 1811.5,1243.0 1812.5,1243.1 1813.5,1243.0 1814.5,1242.0 1815.5,1242.4 1816.5,1243.2 1817.5,1242.6 1818.5,1242.7 1819.5,1243.1 1820.5,1242.9 1821.5,1242.0 1822.5,1242.1 1823.5,1242.5 1824.5,1242.1 1825.5,1241.9 1826.5,1242.1 1827.5,1242.2 1828.5,1243.0 1829.5,1242.7 1830.5,1242.7 1831.5,1242.9 1832.5,1243.0 1833.5,1242.8 1834.5,1243.0 1835.5,1242.8 1836.5,1242.8 1837.5,1242.5 1838.5,1242.6 1839.5,1242.5 1840.5,1242.8 1841.5,1243.3 1842.5,1242.7 1843.5,1242.7 1844.5,1243.6 1845.5,1242.8 1846.5,1242.5 1847.5,1243.1 1848.5,1242.6 1849.5,1243.1 1850.5,1242.6 1851.5,1243.0 1852.5,1243.4 1853.5,1243.3 1854.5,1242.9 1855.5,1243.2 1856.5,1243.0 1857.5,1243.5 1858.5,1242.9 1859.5,1242.8 1860.5,1243.3 1861.5,1243.0 1862.5,1242.7 1863.5,1243.0 1864.5,1243.2 1865.5,1243.0 1866.5,1242.6 1867.5,1243.0 1868.5,1243.3 1869.5,1242.4 1870.5,1242.7 1871.5,1242.7 1872.5,1242.8 1873.5,1242.9 1874.5,1243.0 1875.5,1243.4 1876.5,1243.4 1877.5,1243.4 1878.5,1243.3 1879.5,1243.9 1880.5,1243.2 1881.5,1242.7 1882.5,1242.5 1883.5,1242.8 1884.5,1243.6 1885.5,1243.1 1886.5,1242.8 1887.5,1243.3 1888.5,1243.0 1889.5,1243.5 1890.5,1243.5 1891.5,1244.3 1892.5,1244.2 1893.5,1243.8 1894.5,1244.2 1895.5,1243.1 1896.5,1243.9 1897.5,1242.8 1898.5,1243.2 1899.5,1243.1"/>
<rect x="172.5" y="51.5" width="1755.0" height="1294.0" fill="none" stroke="#000" stroke-width="5"/>
<rect x="279.7" y="1332" width="5" height="13" fill="#000"/>
<rect x="389.4" y="1320" width="5" height="25" fill="#000"/>
<rect x="499.1" y="1332" width="5" height="13" fill="#000"/>
<rect x="608.8" y="1320" width="5" height="25" fill="#000"/>
<rect x="718.4" y="1332" width="5" height="13" fill="#000"/>
<rect x="828.1" y="1320" width="5" height="25" fill="#000"/>
<rect x="937.8" y="1332" width="5" height="13" fill="#000"/>
<rect x="1047.5" y="1320" width="5" height="25" fill="#000"/>
<rect x="1157.2" y="1332" width="5" height="13" fill="#000"/>
<rect x="1266.9" y="1320" width="5" height="25" fill="#000"/>
<rect x="1376.6" y="1332" width="5" height="13" fill="#000"/>
<rect x="1486.2" y="1320" width="5" height="25" fill="#000"/>
<rect x="1595.9" y="1332" width="5" height="13" fill="#000"/>
<rect x="1705.6" y="1320" width="5" height="25" fill="#000"/>
<rect x="1815.3" y="1332" width="5" height="13" fill="#000"/>
<text class="tick" x="171.4" y="1423.7">10</text>
<text class="tick" x="390.9" y="1423.7">20</text>
<text class="tick" x="610.6" y="1423.7">30</text>
<text class="tick" x="830.0" y="1423.7">40</text>
<text class="tick" x="1049.4" y="1423.7">50</text>
<text class="tick" x="1268.8" y="1423.7">60</text>
<text class="tick" x="1488.2" y="1423.7">70</text>
<text class="tick" x="1707.5" y="1423.7">80</text>
<text class="tick" x="1927.5" y="1423.7">90</text>
<text class="ttl" style="font-size:74px" x="879.9 918.7 960.0 973.9 998.8 1035.2 1066.9 1102.6 1129.2 1160.2 1192.7" y="1547.0">2θ (degree)</text>
<text class="ttl" style="font-size:73.1px" transform="translate(86,899.9) rotate(-90)" x="0" y="0">intensity (a.u)</text>
<text class="lab" style="font-size:74.6px" x="1573.1 1626.5 1669.8 1718.0 1750.5 1789.7 1823.1 1858.9" y="595.7">ATCa6105</text>
<text class="lab" style="font-size:74.6px" x="1690.0 1743.6 1787.1 1825.4" y="1175.7">AT61</text>
<circle cx="757.6" cy="144.8" r="12" fill="#ff0000"/>
<circle cx="711.4" cy="306.1" r="12" fill="#ff0000"/>
<circle cx="657.7" cy="461.0" r="12" fill="#ff0000"/>
<circle cx="1005.6" cy="562.6" r="12" fill="#ff0000"/>
<circle cx="1217.0" cy="591.0" r="12" fill="#ff0000"/>
<circle cx="1343.0" cy="577.2" r="12" fill="#ff0000"/>
<circle cx="1466.0" cy="609.4" r="12" fill="#ff0000"/>
<circle cx="1555.6" cy="632.4" r="12" fill="#ff0000"/>
<circle cx="1760.2" cy="634.2" r="12" fill="#ff0000"/>
<circle cx="744.7" cy="706.8" r="12" fill="#ff0000"/>
<circle cx="700.6" cy="932.4" r="12" fill="#ff0000"/>
<circle cx="655.7" cy="1040.4" r="12" fill="#ff0000"/>
<circle cx="996.6" cy="1095.0" r="12" fill="#ff0000"/>
<circle cx="1333.6" cy="1097.2" r="12" fill="#ff0000"/>
<circle cx="1520.8" cy="1193.2" r="12" fill="#ff0000"/>
<circle cx="1643.0" cy="1198.4" r="12" fill="#ff0000"/>
<circle cx="1723.0" cy="1202.0" r="12" fill="#ff0000"/>
<text class="hm" x="452.2" y="561.8">♥</text>
<text class="hm" x="594.0" y="535.8">♥</text>
<text class="hm" x="735.5" y="584.0">♥</text>
<text class="hm" x="901.2" y="623.6">♥</text>
<text class="hm" x="602.6" y="1198.0">♥</text>
<text class="hm" x="1204.5" y="1118.0">♥</text>
<text class="hm" x="1465.0" y="1125.6">♥</text>
<g fill="#0000ff"><rect x="469.00" y="510.30" width="2.00" height="40.20"/><rect x="500.80" y="510.30" width="2.10" height="40.20"/><rect x="469.00" y="510.30" width="33.90" height="1.30"/><rect x="469.00" y="549.20" width="33.90" height="1.30"/></g>
<g fill="#0000ff"><rect x="615.00" y="537.00" width="2.00" height="40.80"/><rect x="646.90" y="537.00" width="2.10" height="40.80"/><rect x="615.00" y="537.00" width="34.00" height="1.30"/><rect x="615.00" y="576.50" width="34.00" height="1.30"/></g>
<circle cx="1498" cy="125.4" r="12.9" fill="#ff0000"/>
<text class="dash" x="1532.3" y="145.8" fill="#ff0000" textLength="76.9" lengthAdjust="spacingAndGlyphs">—</text>
<text class="leg" x="1624.3" y="145.75" fill="#ff0000" stroke="#ff0000">Mg</text>
<text class="hm" x="1491.1" y="245" style="font-size:55px">♥</text>
<text class="dash" x="1534.7" y="244.8" fill="#ff00ff" textLength="77.1" lengthAdjust="spacingAndGlyphs">—</text>
<text class="leg" y="244.8" fill="#ff00ff" stroke="#ff00ff"><tspan x="1627.4">Mg</tspan><tspan class="sub" x="1731.2 1752.5" dy="19.6">17</tspan><tspan x="1779.2 1832.3" dy="-19.6">Al</tspan><tspan class="sub" x="1853.6 1875.9" dy="19.6">12</tspan></text>
<g fill="#0000ff"><rect x="1484.90" y="314.90" width="2.70" height="45.10"/><rect x="1519.15" y="314.90" width="2.70" height="45.10"/><rect x="1484.90" y="314.90" width="36.95" height="2.10"/><rect x="1484.90" y="358.60" width="36.95" height="1.40"/></g>
<text class="dash" x="1542.3" y="359.6" fill="#0000ff" textLength="76.9" lengthAdjust="spacingAndGlyphs">—</text>
<text class="leg" x="1634.5" y="359.6" fill="#0000ff" stroke="#0000ff">Mg<tspan class="sub" dy="20.2">2</tspan><tspan dy="-20.2">Sn</tspan></text>
</svg>
</body></html>
